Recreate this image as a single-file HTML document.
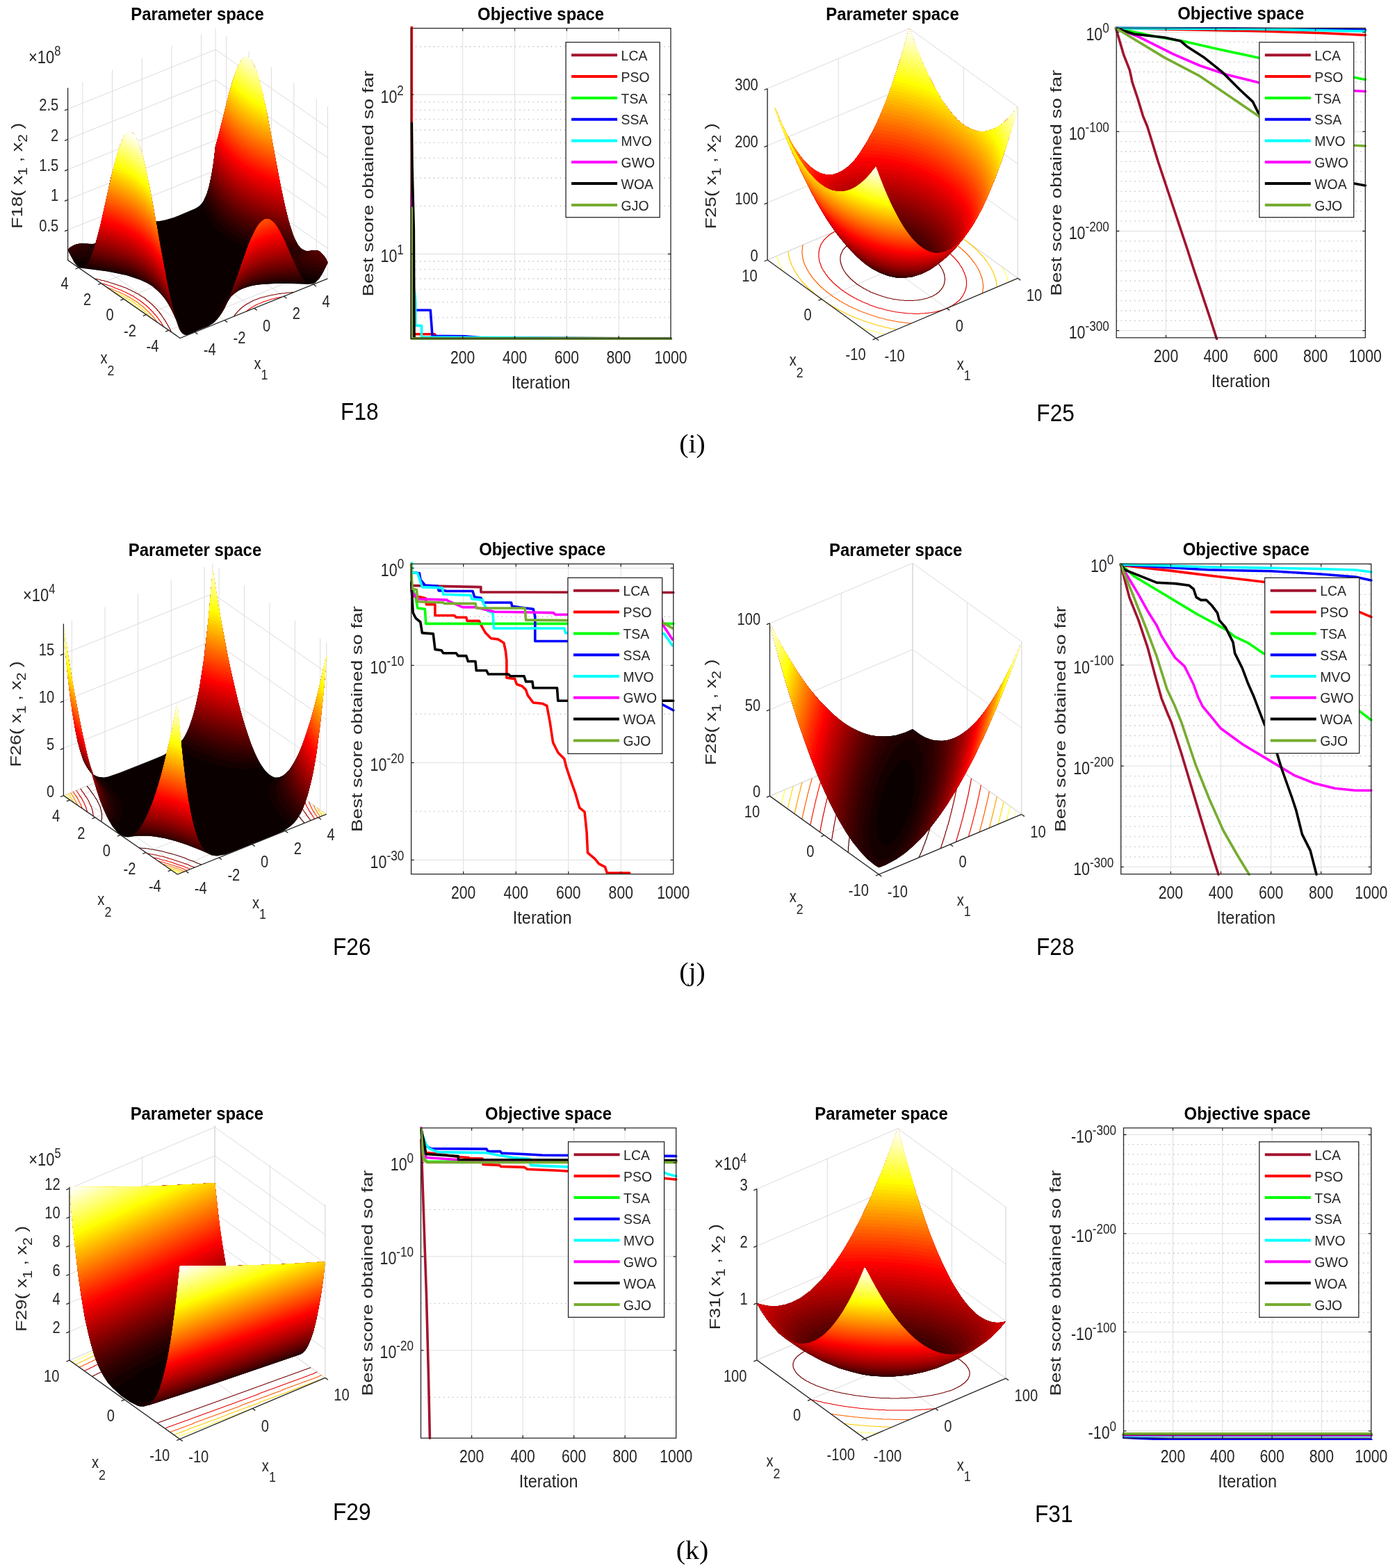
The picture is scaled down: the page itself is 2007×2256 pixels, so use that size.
<!DOCTYPE html><html><head><meta charset="utf-8"><style>
body{margin:0;background:#fff}
svg{display:block}
text{font-family:'Liberation Sans',Arial,Helvetica,sans-serif;fill:#262626}
.g3{stroke:#dcdcdc;stroke-width:1;fill:none}
.ax{stroke:#262626;stroke-width:1.3;fill:none}
.ct path{fill:none;stroke-width:2.4}
.sf path{fill-rule:evenodd;stroke:none}
.gm{stroke:#b8b8b8;stroke-width:1.3;stroke-dasharray:1.3 5.2;fill:none}
.gj{stroke:#dedede;stroke-width:1;fill:none}
.cv{fill:none;stroke-width:3.6;stroke-linejoin:round;stroke-linecap:round}
.bx{stroke:#262626;stroke-width:1.3;fill:none}
.lg{fill:#fff;stroke:#262626;stroke-width:1.3}
.ll{fill:none;stroke-width:4}
.h0{fill:#0b0000;stroke:#0b0000}.k0{stroke:#0b0000}.h1{fill:#150000;stroke:#150000}.k1{stroke:#150000}.h2{fill:#200000;stroke:#200000}.k2{stroke:#200000}.h3{fill:#2a0000;stroke:#2a0000}.k3{stroke:#2a0000}.h4{fill:#350000;stroke:#350000}.k4{stroke:#350000}.h5{fill:#400000;stroke:#400000}.k5{stroke:#400000}.h6{fill:#4a0000;stroke:#4a0000}.k6{stroke:#4a0000}.h7{fill:#550000;stroke:#550000}.k7{stroke:#550000}.h8{fill:#600000;stroke:#600000}.k8{stroke:#600000}.h9{fill:#6a0000;stroke:#6a0000}.k9{stroke:#6a0000}.h10{fill:#750000;stroke:#750000}.k10{stroke:#750000}.h11{fill:#800000;stroke:#800000}.k11{stroke:#800000}.h12{fill:#8a0000;stroke:#8a0000}.k12{stroke:#8a0000}.h13{fill:#950000;stroke:#950000}.k13{stroke:#950000}.h14{fill:#9f0000;stroke:#9f0000}.k14{stroke:#9f0000}.h15{fill:#aa0000;stroke:#aa0000}.k15{stroke:#aa0000}.h16{fill:#b50000;stroke:#b50000}.k16{stroke:#b50000}.h17{fill:#bf0000;stroke:#bf0000}.k17{stroke:#bf0000}.h18{fill:#ca0000;stroke:#ca0000}.k18{stroke:#ca0000}.h19{fill:#d40000;stroke:#d40000}.k19{stroke:#d40000}.h20{fill:#df0000;stroke:#df0000}.k20{stroke:#df0000}.h21{fill:#ea0000;stroke:#ea0000}.k21{stroke:#ea0000}.h22{fill:#f40000;stroke:#f40000}.k22{stroke:#f40000}.h23{fill:#ff0000;stroke:#ff0000}.k23{stroke:#ff0000}.h24{fill:#ff0b00;stroke:#ff0b00}.k24{stroke:#ff0b00}.h25{fill:#ff1500;stroke:#ff1500}.k25{stroke:#ff1500}.h26{fill:#ff2000;stroke:#ff2000}.k26{stroke:#ff2000}.h27{fill:#ff2a00;stroke:#ff2a00}.k27{stroke:#ff2a00}.h28{fill:#ff3500;stroke:#ff3500}.k28{stroke:#ff3500}.h29{fill:#ff4000;stroke:#ff4000}.k29{stroke:#ff4000}.h30{fill:#ff4a00;stroke:#ff4a00}.k30{stroke:#ff4a00}.h31{fill:#ff5500;stroke:#ff5500}.k31{stroke:#ff5500}.h32{fill:#ff6000;stroke:#ff6000}.k32{stroke:#ff6000}.h33{fill:#ff6a00;stroke:#ff6a00}.k33{stroke:#ff6a00}.h34{fill:#ff7500;stroke:#ff7500}.k34{stroke:#ff7500}.h35{fill:#ff8000;stroke:#ff8000}.k35{stroke:#ff8000}.h36{fill:#ff8a00;stroke:#ff8a00}.k36{stroke:#ff8a00}.h37{fill:#ff9500;stroke:#ff9500}.k37{stroke:#ff9500}.h38{fill:#ff9f00;stroke:#ff9f00}.k38{stroke:#ff9f00}.h39{fill:#ffaa00;stroke:#ffaa00}.k39{stroke:#ffaa00}.h40{fill:#ffb500;stroke:#ffb500}.k40{stroke:#ffb500}.h41{fill:#ffbf00;stroke:#ffbf00}.k41{stroke:#ffbf00}.h42{fill:#ffca00;stroke:#ffca00}.k42{stroke:#ffca00}.h43{fill:#ffd400;stroke:#ffd400}.k43{stroke:#ffd400}.h44{fill:#ffdf00;stroke:#ffdf00}.k44{stroke:#ffdf00}.h45{fill:#ffea00;stroke:#ffea00}.k45{stroke:#ffea00}.h46{fill:#fff400;stroke:#fff400}.k46{stroke:#fff400}.h47{fill:#ffff00;stroke:#ffff00}.k47{stroke:#ffff00}.h48{fill:#ffff10;stroke:#ffff10}.k48{stroke:#ffff10}.h49{fill:#ffff20;stroke:#ffff20}.k49{stroke:#ffff20}.h50{fill:#ffff30;stroke:#ffff30}.k50{stroke:#ffff30}.h51{fill:#ffff40;stroke:#ffff40}.k51{stroke:#ffff40}.h52{fill:#ffff50;stroke:#ffff50}.k52{stroke:#ffff50}.h53{fill:#ffff60;stroke:#ffff60}.k53{stroke:#ffff60}.h54{fill:#ffff70;stroke:#ffff70}.k54{stroke:#ffff70}.h55{fill:#ffff80;stroke:#ffff80}.k55{stroke:#ffff80}.h56{fill:#ffff8f;stroke:#ffff8f}.k56{stroke:#ffff8f}.h57{fill:#ffff9f;stroke:#ffff9f}.k57{stroke:#ffff9f}.h58{fill:#ffffaf;stroke:#ffffaf}.k58{stroke:#ffffaf}.h59{fill:#ffffbf;stroke:#ffffbf}.k59{stroke:#ffffbf}.h60{fill:#ffffcf;stroke:#ffffcf}.k60{stroke:#ffffcf}.h61{fill:#ffffdf;stroke:#ffffdf}.k61{stroke:#ffffdf}.h62{fill:#ffffef;stroke:#ffffef}.k62{stroke:#ffffef}.h63{fill:#ffffff;stroke:#ffffff}.k63{stroke:#ffffff}</style></head><body><svg xmlns="http://www.w3.org/2000/svg" width="2007" height="2256" viewBox="0 0 2007 2256"><defs><clipPath id="c1"><rect x="588.3" y="37.7" width="379.7" height="452.6"/></clipPath><clipPath id="c2"><rect x="1603.2" y="37.4" width="364.1" height="451.5"/></clipPath><clipPath id="c3"><rect x="588.6" y="808.4" width="383.2" height="452.3"/></clipPath><clipPath id="c4"><rect x="1609.7" y="808.4" width="366.0" height="452.3"/></clipPath><clipPath id="c5"><rect x="602.5" y="1619.8" width="373.2" height="452.3"/></clipPath><clipPath id="c6"><rect x="1613.5" y="1619.8" width="362.2" height="452.3"/></clipPath></defs>
<g id="F18"><path class="g3" d="M118.9 365.7L118.9 117.9M455.2 389.5L455.2 141.7M280.3 477.9L118.9 365.7M242.8 475.2L455.2 389.5M161.6 348.5L161.6 100.7M422.8 367.0L422.8 119.2M323.0 460.7L161.6 348.5M210.4 452.7L422.8 367.0M204.2 331.3L204.2 83.5M390.4 344.5L390.4 96.7M365.6 443.5L204.2 331.3M178.0 430.2L390.4 344.5M246.9 314.1L246.9 66.3M358.0 321.9L358.0 74.1M408.3 426.3L246.9 314.1M145.6 407.6L358.0 321.9M289.5 296.9L289.5 49.1M325.6 299.4L325.6 51.6M450.9 409.1L289.5 296.9M113.2 385.1L325.6 299.4M97.6 330.8L310.0 245.1M310.0 245.1L471.4 357.3M97.6 287.4L310.0 201.7M310.0 201.7L471.4 313.9M97.6 243.9L310.0 158.2M310.0 158.2L471.4 270.4M97.6 200.5L310.0 114.8M310.0 114.8L471.4 227.0M97.6 157.0L310.0 71.3M310.0 71.3L471.4 183.5M310.0 288.6L310.0 40.8M471.4 400.8L471.4 153.0"/>
<path class="g3" d="M97.6 374.3L310.0 288.6L471.4 400.8"/>
<g class="ct" transform="scale(.5)"><path class="k11" d="M845 841 840 841 837 842 833 842 829 842 826 843 822 843 818 844 815 844 811 844 808 845 804 845 801 846 797 846 794 847 791 848 787 848 784 849 781 849 778 850 774 851 771 852 768 852 765 853 762 854 759 855 756 855 753 856 750 857 747 858 744 859 742 860 739 861 736 862 734 863 731 864 728 865 726 867 723 868 721 869 719 870 716 872 714 873 712 874 709 876 707 877 705 878 703 880 701 881 699 883 697 884 695 886 693 888 691 889 690 891 688 893 686 894 684 896 683 898 681 900 680 902 678 903 677 905 675 907 674 909 673 911"/>
<path class="k11" d="M493 956 492 953 490 949 489 947 487 943 485 940 484 938 482 934 480 931 478 928 477 925 475 923 474 920 472 918 470 915 468 912 467 910 464 907 463 904 460 901 458 898 456 896 455 894 453 893 452 891 451 889 449 888 448 886 446 885 445 883 443 881 441 880 440 878 438 877 437 875 435 874 433 872 431 871 430 869 428 868 426 866 424 865 422 863 420 862 419 860 417 859 415 857 413 856 411 855 408 853 406 852 404 850 402 849 400 848 398 846 395 845 393 844 391 843 388 841 386 840 384 839 381 838 379 836 376 835 374 834 371 833 369 832 366 830 363 829 361 828 358 827 355 826 352 825 350 824 347 823 344 822 341 821 338 820 335 819 332 818 329 817 326 816 323 815 319 814 316 813 313 812 310 811 307 810 303 809 300 808 297 807 293 807 290 806 287 805 283 804 280 803 277 803 273 802 271 801"/>
<path class="k11" d="M610 581 612 583 613 586 616 590 617 593 619 595 620 598 622 601 624 603 626 606 628 609 629 611 632 615 634 618 636 620 637 621 638 623 640 625 641 626 643 628 644 630 645 631 647 633 648 634 650 636 652 638 653 639 655 641 656 642 658 644 660 645 661 647 663 648 665 650 667 652 668 653 670 654 672 656 674 657 676 659 678 660 680 662 682 663 684 665 686 666 688 667 690 669 692 670 694 671 696 673 698 674 701 675 703 677 705 678 708 679 710 681 712 682 715 683 717 684 720 686 722 687 725 688 727 689 730 690 732 691 735 693 738 694 740 695 743 696 746 697 749 698 751 699 754 700 756 701 760 703 763 704 765 704 769 706 772 707 775 708 778 709 781 710 784 711 787 712 790 712 793 713 796 714 800 715 803 716 806 717 809 718 813 719 816 720 819 721 822 722 826 722 829 723 831 724"/>
<path class="k22" d="M812 854 809 855 806 855 803 856 800 857 796 857 793 858 790 859 787 860 784 860 781 861 778 862 775 863 772 864 769 865 766 866 763 867 761 867 758 868 755 870 753 871 750 872 747 873 745 874 742 875 740 876 737 877 735 879 733 880 730 881 728 883 726 884 723 885 721 887 719 888 717 890 715 891 713 893 711 894 709 896 709 896"/>
<path class="k22" d="M471 941 469 937 467 934 465 930 463 927 461 925 459 921 457 919 455 916 453 913 450 910 449 908 447 906 446 905 444 903 443 901 441 900 440 898 438 896 437 895 435 893 434 892 432 890 431 889 429 887 427 885 426 884 424 882 422 881 421 879 419 878 417 876 415 875 413 873 412 872 410 870 408 869 406 868 404 866 402 865 400 863 398 862 396 861 394 859 392 858 389 856 387 855 385 854 383 852 380 851 378 850 376 849 374 847 371 846 369 845 366 844 364 842 361 841 359 840 356 839 354 838 351 836 348 835 346 834 343 833 340 832 338 831 335 830 332 829 329 828 326 826 323 825 320 824 318 823 315 822 312 821 308 820 305 819 302 818 299 817 296 817 293 816 291 815"/>
<path class="k22" d="M625 580 626 583 628 586 630 589 631 591 633 594 635 597 637 599 640 603 642 606 644 608 645 609 646 611 648 613 649 614 650 616 652 618 653 619 655 621 656 622 658 624 659 626 661 627 662 629 664 630 666 632 667 633 669 635 671 637 672 638 674 640 676 641 678 643 679 644 681 646 683 647 685 649 687 650 689 651 691 653 693 654 695 656 697 657 699 659 701 660 703 661 705 663 707 664 709 665 711 667 714 668 716 669 718 671 720 672 723 673 725 674 727 676 730 677 732 678 735 679 737 681 740 682 742 683 745 684 748 685 750 686 753 688 755 689 758 690 761 691 764 692 766 693 769 694 772 695 774 696 778 697 781 699 783 699 787 701 790 702 793 703 796 704 799 705 802 706 805 707 807 707"/>
<path class="k33" d="M453 928 451 925 449 922 447 920 446 918 444 916 443 915 442 913 440 911 439 910 437 908 436 906 434 905 433 903 431 902 430 900 428 898 427 897 425 895 423 894 422 892 420 891 418 889 417 887 415 886 413 884 412 883 410 881 408 880 406 879 404 877 402 876 400 874 399 873 397 871 395 870 393 868 391 867 388 866 386 864 384 863 382 862 380 860 378 859 376 858 373 856 371 855 369 854 366 852 364 851 362 850 359 849 357 847 354 846 352 845 349 844 347 843 344 841 342 840 339 839 336 838 334 837 331 836 328 835 326 834 323 832 320 831 317 830 314 829 311 828 308 827 308 827"/>
<path class="k33" d="M643 593 645 596 648 599 649 601 650 603 652 604 653 606 655 608 656 609 657 611 659 612 660 614 662 616 663 617 665 619 666 621 668 622 670 624 671 625 673 627 675 628 676 630 678 631 680 633 681 634 683 636 685 637 687 639 688 640 690 642 692 643 694 645 696 646 698 648 700 649 702 651 704 652 706 653 708 655 710 656 712 657 714 659 716 660 719 662 721 663 723 664 725 665 728 667 730 668 732 669 735 671 737 672 739 673 742 674 744 676 747 677 749 678 752 679 754 680 757 681 760 683 762 684 765 685 768 686 770 687 773 688 776 689 779 690 782 692 784 693 787 694 788 694"/>
<path class="k44" d="M435 916 434 914 432 912 431 911 429 909 428 907 426 906 425 904 423 903 422 901 420 899 419 898 417 896 415 895 414 893 412 892 410 890 408 889 407 887 405 886 403 884 401 883 399 881 397 880 396 878 394 877 392 875 390 874 388 873 386 871 384 870 382 868 379 867 377 866 375 864 373 863 371 862 369 860 366 859 364 858 362 856 359 855 357 854 355 853 352 851 350 850 347 849 345 848 342 847 340 845 337 844 335 843 332 842 330 841 327 840 325 839"/>
<path class="k44" d="M662 607 664 608 665 610 667 612 668 613 670 615 671 616 673 618 675 619 676 621 678 623 679 624 681 626 683 627 685 629 686 630 688 632 690 633 692 635 693 636 695 638 697 639 699 641 701 642 703 643 705 645 707 646 709 648 711 649 713 651 715 652 717 653 719 655 721 656 724 657 726 659 728 660 730 661 732 663 735 664 737 665 739 666 742 668 744 669 747 670 749 671 751 673 754 674 756 675 759 676 762 677 764 679 767 680 769 681"/>
<path class="k56" d="M414 901 412 898 410 897 408 895 407 894 405 892 403 891 401 889 399 888 398 886 396 885 394 883 392 882 390 881 388 879 386 878 384 876 382 875 380 873 378 872 376 871 374 869 372 868 370 867 367 865 365 864 363 863 361 861 358 860 356 859 354 857 351 856 349 855 347 854 346 853"/>
<path class="k56" d="M686 623 688 625 690 627 692 628 693 630 695 631 697 633 699 634 701 635 703 637 705 638 707 640 708 641 710 643 712 644 714 645 716 647 719 648 721 650 723 651 725 652 727 654 729 655 731 656 734 658 736 659 738 660 740 662 743 663 745 664 745 664"/></g>
<g class="sf" transform="scale(.5)"><path class="h0" d="M538 964l-6 0-4-2-7-7-6-11-7-21-9-21-16-30-10-15-12-14-11-10-12-10-13-8-22-10-39-13-55-11-79-10-4-2-8-8-5-7-18-36 12-9 13-6 14-2 32 1 8-1 1-1 14-50 30-137 18-67 9-29 8-19 8-12 8-7 6 0 3 2 5 4 4 5 7 13 11 32 11 41 9 42 22 119 12-1 15-3 28-8 59-25 11-7 8-8 6-9 6-12 9-28 11-54 7-60 9-32 27-108 15-52 11-32 9-18 6-9 6-6 3-1 6 0 4 2 6 6 9 17 6 13 11 37 19 81 32 176 16 76 15 63 13 41 6 13 8 15 7 9 5 4 11 5 11 0 11-2 7 0 6 1 5 3 12 12 7 10 4 10-12 24-11 20-12 13-8 4-14 1-50-2-44 0-38 2-25 3-15 4-12 4-14 6-14 10-10 9-9 14-9 19-8 14-12 17-12 12-15 9-28 11-21 10z"/>
<path class="h1" d="M620 923l0-2 5-19 6-17 6-12 13-18 8-7 8-6 47-130-25-10-22-11-18-12-18-14-16-17-14-20-13-26-7-16 7-10 6-12 9-28 11-54 7-60 9-32 27-108 15-52 11-32 9-18 6-9 6-6 3-1 6 0 4 2 6 6 9 17 6 13 11 37 19 81 32 176 16 76 15 63 13 41 6 13 8 15 7 9 5 4 11 5 11 0 11-2 7 0 6 1 5 3 12 12 7 10 4 10-16 33-11 16-47-7 6 9 11 9-82-1-50 3-25 3-15 4-12 4-14 6-14 10-10 9-9 14-9 19-8 14-7 10zM526 961l-5-6-4-6-15-41-12-24-7-12-10-15-12-14-11-10-12-10-13-8-22-10-39-13-52-11-72-10 9-8 6-10-42 0-18-34 5-6 7-4 13-6 14-2 32 1 8-1 1-1 14-50 30-137 18-67 9-29 8-19 8-12 8-7 6 0 5 3 9 12 11 26 10 32 15 66 14 73 7 44 1 2 6 0-5 7 0 2 23 126 15 74 8 33 10 17 8 21 12 37z"/>
<path class="h2" d="M630 912l7-21 7-15 8-12 9-10 2-5 18-48 27-77 11-27-20-8-24-12-18-11-15-12-17-17-12-15-14-22-12-26 8-16 8-27 10-49 7-60 9-32 22-88 17-64 13-37 10-21 6-9 6-6 3-1 6 0 4 2 6 6 9 17 6 13 11 37 19 81 32 176 16 76 15 63 13 41 6 13 8 15 7 9 5 4 11 5 11 0 11-2 7 0 6 1 5 3 12 12 7 10 4 10-12 24-8 14-45-7-18-5-1 1 6 9 14 19-54 0-62 4-42 8-19 6-14 6-14 10-10 9-9 14-13 26zM520 954l-5-10-7-21-9-21-16-30-10-15-12-14-11-10-12-10-19-11-14-7-37-13-30-8-31-7-52-8-9-1-1-1 4-4 6-8 7-15 1-5-25 4-32 2-11-22 5-6 7-4 13-6 14-2 32 1 8-1 1-1 14-50 30-137 18-67 9-29 8-19 8-12 8-7 6 0 5 3 9 12 11 26 10 32 10 44 11 52 33 184 21 108 15 60 14 34 5 16z"/>
<path class="h3" d="M639 899l0-2 4-12 8-14 7-10 8-19 42-118 15-38-21-9-19-10-19-12-19-14-16-16-12-16-14-22-11-22 3-7 7-22 7-34 6-38 5-42 9-32 22-88 17-64 13-37 10-21 6-9 6-6 3-1 6 0 4 2 6 6 9 17 6 13 11 37 19 81 32 176 16 76 15 63 13 41 6 13 8 15 7 9 5 4 11 5 11 0 11-2 7 0 6 1 5 3 12 12 7 10 4 10-14 28-52-11-27-9 10 20 14 22-34 0-32 1-42 4-20 4-20 4-25 9-21 12-16 14-9 14-9 19zM505 916l-15-32-17-27-19-20-16-14-10-7-35-18-38-13-49-12-39-8-17-2-1-1 6-7 8-19 16-47 16-64 27-123 17-63 7-22 8-19 8-12 8-7 6 0 5 3 9 12 11 26 10 32 10 44 11 52 46 254 13 62 10 38 4 12zM205 729l-5 0-1-1-4-10 8-7 10-6 14-4 18 0 9 0 3 5 1 6-1 2-8 6-12 4-10 2zM840 740l5-7 0-4-5-5-9-4 8 20zM512 935l-1-3 0-2 2 4z"/>
<path class="h4" d="M658 863l0-3 5-11 15-39 30-86 10-26 10-22-24-11-20-10-18-12-16-12-19-19-14-18-14-22-7-15 0-3 6-18 7-34 6-38 5-42 9-32 22-88 17-64 13-37 10-21 6-9 6-6 3-1 6 0 4 2 6 6 9 17 6 13 11 37 19 81 32 176 16 76 15 63 13 41 6 13 8 15 7 9 5 4 11 5 11 0 11-2 7 0 6 1 5 3 12 12 7 10 4 10-9 18-38-8-23-8-12-7-4-7 0-5 10-13 0-4-6-5-13-5-24-7 29 65 17 30-37 1-45 3-32 5-28 6-26 10-16 10-9 6-13 13zM505 916l-15-32-10-17-13-17-21-22-13-11-14-9-33-17-38-13-52-13-43-7 7-14 7-16 14-46 14-57 27-123 17-63 7-22 8-19 8-12 8-7 6 0 5 3 9 12 11 26 10 32 10 44 11 52 46 254 13 62 10 38 4 12zM198 717l-1 0 3-4 13-8 14-4 10 0-2 5-7 4-14 5zM645 888l2-7 5-9-1 4z"/>
<path class="h5" d="M658 863l0-3 5-11 15-39 34-97 11-28 10-19-22-9-19-9-20-13-18-13-16-16-14-16-17-27-8-17 4-15 6-29 6-38 5-42 9-32 22-88 17-64 13-37 10-21 6-9 6-6 3-1 6 0 4 2 6 6 9 17 6 13 11 37 19 81 36 193 18 85 9 37 11 36 8 18 7 13-36-9-1 1 28 64 8 18 11 18-51 2-32 3-34 6-27 8-24 11-14 9-17 17zM505 916l-7-17-9-19-18-27-12-15-13-13-12-10-16-11-28-15-41-16-42-11-51-10 11-24 16-56 12-47 27-123 17-63 7-22 8-19 8-12 8-7 6 0 5 3 9 12 11 26 10 32 10 44 11 52 46 254 13 62 10 38 4 12zM938 765l-32-8-22-9-4-3-5-7 0-4 1-3 8-9 25-2 6 1 5 3 12 12 11 18z"/>
<path class="h6" d="M658 862l0-2 5-11 15-39 37-106 12-26 10-20-21-9-26-14-19-12-17-13-18-18-15-19-12-20-8-14 0-2 4-15 8-40 7-60 9-32 22-88 17-64 13-37 10-21 6-9 6-6 3-1 6 0 4 2 6 6 9 17 6 13 11 37 19 81 36 193 16 77 16 61 8 25 6 14-2 0-34-9 12 27 22 50 15 30-38 1-38 4-30 6-28 8-26 11-16 11-17 17zM503 909l-6-15-11-20-7-12-14-20-21-22-24-19-17-10-17-9-25-10-41-13-34-8-27-5 6-13 8-23 10-38 12-47 27-123 17-63 7-22 8-19 8-12 8-7 6 0 5 3 9 12 11 26 10 32 10 44 11 52 46 254 13 62 12 43zM942 755l-28-8-16-7-7-6-1-2 0-5 1-3 3-3 8-1 11 1 7 3 12 12 7 10z"/>
<path class="h7" d="M660 857l18-47 37-106 12-26 10-21 6-7-27-11-22-12-18-11-17-13-18-18-14-16-16-25-8-14 0-2 2-6 8-40 7-60 9-32 22-88 17-64 13-37 10-21 6-9 6-6 3-1 6 0 4 2 6 6 9 17 6 13 11 37 19 81 32 176 16 76 15 63 15 44-23-5-12-4-3 0 13 26 27 62 12 23-45 3-36 5-33 7-18 6-23 11-17 12-15 15zM501 903l-12-27-10-18-12-16-14-17-9-10-22-17-20-13-21-10-21-9-26-9-27-7-46-10 12-30 10-38 12-47 27-123 17-63 7-22 8-19 8-12 8-7 6 0 5 3 7 8 7 13 11 32 11 41 20 97 40 223 14 68 10 36zM936 743l-16-6-10-5-6-6-1-6 10 1 9 4 8 8 6 9z"/>
<path class="h8" d="M664 849l-1-1 12-30 28-80 15-40 16-35 14-21-26-11-22-11-24-15-14-11-21-20-10-12-14-20-10-18-2-4 8-38 7-60 9-32 22-88 17-64 13-37 10-21 6-9 6-6 3-1 6 0 4 2 6 6 9 17 6 13 11 37 19 81 32 176 16 76 13 56 13 40-15-3-23-6-2 1 15 27 39 87-1 1-29 2-43 5-33 7-18 6-22 10-19 13-17 18zM499 895l-14-30-12-19-8-12-10-11-17-17-21-17-30-17-33-14-44-13-46-11 9-24 10-38 12-47 27-123 15-56 9-29 8-19 8-12 8-7 6 0 5 3 7 8 7 13 11 32 11 41 20 97 40 223 10 50 12 47z"/>
<path class="h9" d="M667 841l0-2 11-29 25-72 20-53 18-33 10-13 4-4-23-9-25-12-17-10-24-17-23-21-10-13-21-31-5-8 0-4 6-28 7-60 9-32 22-88 17-64 13-37 10-21 6-9 6-6 3-1 6 0 4 2 6 6 9 17 6 13 11 37 19 81 46 242 15 66 9 30-44-11 8 12 15 28 36 81-32 3-34 4-34 8-16 5-26 12-17 11-15 15zM496 885l-14-29-19-28-9-11-17-17-17-14-19-12-16-9-31-13-42-13-45-11 12-39 10-39 30-137 18-67 9-29 8-19 8-12 8-7 6 0 5 3 7 8 7 13 11 32 11 41 20 97 40 223 10 50 10 37z"/>
<path class="h10" d="M670 832l0-2 11-29 27-77 19-46 10-21 9-13 6-6 6-5 6-2 4-1 0-1-30-10-25-12-21-12-20-14-12-10-24-25-15-20-12-22 6-40 5-42 9-32 22-88 17-64 13-37 10-21 6-9 6-6 3-1 6 0 4 2 6 6 9 17 6 13 11 37 9 38 14 67 39 206 11 48 13 50-14-3-41-11 5 3 9 9 14 24 13 26 29 66-33 3-36 5-25 6-22 7-22 11-15 10-13 12zM494 877l-13-26-18-27-14-17-10-10-24-20-24-14-35-16-40-14-47-11 10-33 10-39 30-137 18-67 9-29 8-19 8-12 8-7 6 0 5 3 7 8 7 13 11 32 11 41 20 97 35 199 14 68 9 35z"/>
<path class="h11" d="M831 639l-34-9-41-13-30-13-18-9-18-10-22-17-19-18-20-23-19-31 5-32 5-42 9-32 22-88 17-64 13-37 10-21 6-9 6-6 3-1 6 0 4 2 6 6 5 8 9 20 12 39 9 38 14 67 39 206 11 48zM492 869l-13-26-20-29-19-22-16-13-12-10-24-14-35-16-33-11-49-12 18-66 30-137 18-67 9-29 8-19 8-12 8-7 6 0 5 3 7 8 7 13 11 32 11 41 20 97 35 199zM674 823l0-3 38-107 11-28 11-22 12-19 6-6 6-5 6-2 4-1 5 1 6 2 5 4 9 9 14 24 13 26 26 59-35 4-25 4-29 6-20 7-23 11-13 8-17 15z"/>
<path class="h12" d="M828 629l-41-11-35-12-26-11-31-17-26-19-25-24-15-19-18-28 6-34 3-32 9-32 22-88 17-64 13-37 10-21 6-9 6-6 3-1 6 0 4 2 6 6 5 8 9 20 12 39 9 38 14 67 39 206zM490 858l-17-30-17-24-9-10-17-16-20-15-20-13-34-16-32-11-51-14 16-59 30-137 18-67 9-29 8-19 8-12 8-7 6 0 5 3 7 8 7 13 11 32 11 41 15 72 36 202 15 75 6 27zM676 815l39-111 12-26 10-21 9-13 6-6 6-5 6-2 4-1 5 1 6 2 5 4 9 9 14 24 13 26 23 52-1 1-30 3-32 5-24 6-19 7-15 7-18 11-10 8-11 10z"/>
<path class="h13" d="M826 620l-42-12-32-11-24-10-32-18-30-22-21-21-17-22-15-24 7-58 9-32 22-88 17-64 13-37 10-21 6-9 6-6 3-1 6 0 4 2 6 6 5 8 9 20 12 39 19 81 36 193 16 77 7 28zM488 849l-14-25-18-25-22-24-24-18-25-16-39-17-40-13-31-8 14-53 30-137 18-67 9-29 8-19 8-12 8-7 6 0 5 3 7 8 7 13 11 32 11 41 18 86 30 170 13 70 10 45zM680 806l19-56 16-46 12-26 10-21 9-13 6-6 6-5 6-2 4-1 5 1 6 2 11 10 14 21 16 32 20 46-24 3-25 4-21 4-26 8-25 12-13 8-13 10z"/>
<path class="h14" d="M824 611l-29-8-37-13-24-10-23-11-15-9-24-17-22-21-20-25-16-25 6-50 9-32 22-88 17-64 13-37 10-21 6-9 6-6 3-1 6 0 4 2 6 6 5 8 9 20 12 39 19 81 36 193zM486 841l-15-26-18-25-10-11-14-14-21-16-24-14-26-13-41-15-41-11 13-46 30-137 18-67 9-29 8-19 8-12 8-7 6 0 5 3 9 12 11 26 11 37 9 39 11 52 33 184 13 70 8 36zM683 797l1-5 31-88 12-26 10-21 9-13 6-6 6-5 6-2 4-1 5 1 6 2 11 10 14 21 12 23 21 49-26 3-29 5-19 5-18 6-26 12-11 7-16 13z"/>
<path class="h15" d="M821 601l-48-14-33-13-24-12-28-17-22-17-19-19-17-22-15-23 5-42 9-32 22-88 17-64 13-37 10-21 6-9 6-6 3-1 6 0 4 2 6 6 5 8 9 20 12 39 19 81 36 193 12 59 6 24zM484 831l-16-27-20-26-18-18-22-17-24-15-30-14-43-15-33-9 11-40 30-137 18-67 9-29 8-19 8-12 8-7 6 0 5 3 9 12 11 26 10 32 10 44 11 52 33 184 13 70 6 26zM686 788l0-2 3-8 26-74 12-26 10-21 9-13 6-6 6-5 6-2 4-1 5 1 6 2 11 10 11 16 15 28 18 42-49 8-21 5-22 7-16 8-14 8-16 13z"/>
<path class="h16" d="M819 592l-36-11-37-14-30-14-28-17-23-19-20-20-18-25-11-18 4-32 9-32 27-108 15-52 11-32 9-18 6-9 6-6 3-1 6 0 4 2 6 6 5 8 9 20 12 39 19 81 36 193zM482 822l-18-29-13-17-22-23-22-17-21-13-30-15-42-15-34-10 15-58 27-123 15-56 9-29 8-19 8-12 8-7 6 0 5 3 9 12 11 26 10 32 10 44 11 52 33 184 17 87zM689 779l10-29 16-46 12-26 10-21 9-13 6-6 6-5 6-2 4-1 5 1 6 2 11 10 11 16 15 28 15 35-29 5-23 4-13 4-24 8-18 9-15 9-10 8z"/>
<path class="h17" d="M817 583l-47-15-27-11-32-16-22-14-25-20-17-18-16-21-14-21 3-25 9-32 27-108 15-52 11-32 9-18 6-9 6-6 3-1 6 0 4 2 6 6 5 8 9 20 12 39 19 81 32 176zM480 814l-18-30-17-20-17-18-24-19-21-12-32-16-37-13-33-9 14-52 27-123 15-56 9-29 8-19 8-12 8-7 6 0 5 3 9 12 11 26 10 32 10 44 11 52 33 184zM692 771l0-2 7-19 19-52 9-20 14-26 11-14 10-7 8-1 9 3 11 10 11 16 15 28 13 29-47 8-35 11-21 10-10 6-14 10z"/>
<path class="h18" d="M815 573l-13-3-28-9-34-14-24-12-26-16-26-21-15-16-18-22-13-22 3-18 8-30 27-108 15-52 11-32 9-18 6-9 6-6 3-1 6 0 4 2 6 6 5 8 9 20 12 39 19 81 32 176zM478 805l-13-23-19-24-20-19-24-19-23-14-25-12-35-13-36-11 12-45 27-123 15-56 9-29 8-19 8-12 8-7 6 0 5 3 9 12 11 26 10 32 10 44 11 52zM696 761l-1-1 4-10 19-52 9-20 14-26 11-14 10-7 8-1 9 3 11 10 11 16 15 28 9 22-32 6-19 4-30 10-22 12-13 8z"/>
<path class="h19" d="M813 565l-28-9-35-13-30-14-25-16-19-14-21-20-20-23-16-25 2-11 8-30 27-108 15-52 11-32 9-18 6-9 6-6 3-1 6 0 4 2 6 6 5 8 9 20 12 39 9 38 14 67zM476 795l-15-23-20-26-17-16-23-17-22-14-34-16-29-10-31-9 37-162 15-56 9-29 8-19 8-12 8-7 6 0 5 3 9 12 11 26 10 32 10 44 11 52 33 184 12 60zM698 753l10-29 13-34 13-27 7-11 11-14 10-7 8-1 5 1 6 4 9 8 11 16 15 28 7 15-1 1-16 2-28 6-18 6-17 6-21 11-12 9z"/>
<path class="h20" d="M811 555l-32-10-37-14-30-16-20-13-25-20-18-19-15-19-14-22 9-32 30-121 18-57 7-19 7-13 6-9 6-6 3-1 6 0 4 2 6 6 5 8 9 20 12 39 9 38 14 67 28 152 12 57zM475 787l-14-21-19-24-21-21-17-13-25-15-27-14-28-10-37-12 8-32 27-123 17-63 7-22 8-19 8-12 8-7 6 0 5 3 9 12 11 26 10 32 10 44 11 52zM702 743l6-19 15-39 11-22 10-16 8-9 10-7 8-1 5 1 6 4 9 8 8 11 9 16 13 26-1 1-15 2-24 5-34 11-26 14z"/>
<path class="h21" d="M809 546l-34-11-33-13-27-14-22-14-23-19-17-16-19-24-12-19 37-147 18-57 7-19 7-13 6-9 6-6 3-1 6 0 4 2 6 6 5 8 9 20 12 39 9 38 14 67 26 138 12 62zM473 778l-12-18-16-22-21-21-22-17-30-18-23-11-22-8-38-13 33-148 17-63 7-22 8-19 8-12 8-7 6 0 5 3 9 12 11 26 10 32 10 44 11 52 33 184 8 44zM705 735l0-2 3-9 15-39 14-28 9-13 10-9 8-4 9 0 11 6 9 9 8 13 16 31-37 7-30 10-26 13z"/>
<path class="h22" d="M808 537l-37-12-29-12-26-13-22-14-22-17-20-21-16-20-12-18 35-141 18-57 7-19 7-13 6-9 6-6 3-1 6 0 4 2 6 6 5 8 9 20 12 39 19 81zM472 770l-10-16-20-25-22-22-20-15-26-15-23-12-33-12-28-9 32-142 17-63 7-22 8-19 8-12 8-7 6 0 5 3 9 12 11 26 10 32 10 44 11 52zM708 725l0-1 4-11 15-35 10-21 9-13 10-9 8-4 9 0 11 6 6 6 8 11 16 29-35 8-29 10-20 9z"/>
<path class="h23" d="M806 528l-26-8-36-15-26-13-20-12-22-17-19-19-18-20-14-21 34-134 18-57 7-19 7-13 6-9 6-6 3-1 6 0 4 2 6 6 5 8 9 20 12 39 9 38 14 67zM470 761l-11-17-20-25-19-18-22-17-21-13-24-12-28-11-34-11 31-135 17-63 7-22 8-19 8-12 8-7 6 0 5 3 9 12 11 26 10 32 10 44 11 52 30 170 8 40zM712 717l-1-2 7-17 16-35 7-11 10-13 7-6 6-2 4-1 7 1 9 6 6 6 8 11 13 22-28 7-32 10-23 12z"/>
<path class="h24" d="M804 519l-28-9-31-13-27-14-22-14-23-18-20-19-16-20-10-15 32-128 18-57 7-19 7-13 6-9 6-6 3-1 6 0 4 2 6 6 5 8 9 20 12 39 9 38 14 67 26 138 6 28zM468 752l-18-26-15-18-19-17-16-12-20-13-25-13-25-10-37-13 29-128 17-63 7-22 8-19 8-12 8-7 6 0 5 3 9 12 11 26 10 32 10 44 11 52zM715 707l0-3 8-19 14-28 14-18 11-8 6-1 5 1 11 6 11 12 12 21 0 1-32 7-24 9-18 8z"/>
<path class="h25" d="M802 511l-30-11-24-10-26-13-22-14-24-18-19-18-14-17-14-20 30-121 18-57 7-19 7-13 6-9 6-6 3-1 6 0 4 2 6 6 5 8 9 20 12 39 19 81zM466 743l-9-14-16-21-19-18-20-17-21-13-24-13-35-14-27-9 27-122 17-63 7-22 8-19 8-12 8-7 6 0 5 3 9 12 11 26 10 32 10 44 11 52 35 192zM718 699l9-21 14-26 11-14 10-7 6-1 5 1 11 6 9 9 11 18-28 7-22 8-21 10z"/>
<path class="h26" d="M800 501l-29-10-28-12-25-13-23-15-15-11-17-16-19-22-13-18 28-115 18-57 7-19 7-13 6-9 6-6 3-1 6 0 4 2 9 10 11 24 9 27 10 41 12 52zM465 734l-12-18-14-16-17-17-25-20-23-14-25-12-30-12-23-8 26-115 17-63 7-22 8-19 8-12 8-7 6 0 5 3 9 12 11 26 10 32 10 44 11 52zM722 689l5-11 14-26 11-14 10-7 8-1 5 1 6 4 9 8 10 14-2 2-20 4-26 10-19 9z"/>
<path class="h27" d="M799 493l-18-6-34-14-26-14-19-12-23-17-23-22-23-30 0-4 26-105 18-57 7-19 7-13 6-9 6-6 3-1 6 0 4 2 9 10 11 24 9 27 10 41 12 52zM463 725l-11-16-14-17-22-21-17-13-25-16-24-12-24-10-28-10 24-108 17-63 7-22 8-19 8-12 8-7 6 0 5 3 9 12 11 26 10 32 10 44 11 52 31 174zM727 679l0-1 7-15 10-16 8-9 10-7 8-1 9 3 11 10 6 8 0 1-15 3-23 8-20 10z"/>
<path class="h28" d="M797 483l-22-7-34-15-25-13-14-9-24-19-20-19-14-17-10-14 25-101 18-57 7-19 7-13 6-9 6-6 3-1 6 0 4 2 9 10 11 24 9 27 10 41 12 52zM462 717l-13-18-11-13-22-21-18-14-20-14-29-14-24-10-26-9 23-102 17-63 7-22 8-19 8-12 8-7 6 0 5 3 9 12 11 26 10 32 10 44 11 52 29 162zM732 670l-1 0 6-13 9-13 10-9 6-4 6-1 7 1 9 6 8 9-14 3-22 8-20 10z"/>
<path class="h29" d="M795 475l-17-6-29-12-26-14-21-13-20-15-14-13-17-18-15-20 4-19 19-76 18-57 7-19 7-13 6-9 6-6 3-1 6 0 4 2 9 10 11 24 9 27 10 41 12 52 28 148zM460 707l-23-29-15-15-24-20-18-11-20-11-22-10-37-14 21-95 17-63 7-22 8-19 8-12 8-7 6 0 5 3 9 12 9 19 10 31 10 40 13 64 28 155zM737 660l-1 0 1-3 9-13 10-9 6-4 6-1 7 1 6 4 6 5-32 11z"/>
<path class="h30" d="M794 466l-48-19-24-13-20-13-20-14-16-15-17-20-12-15 22-88 18-57 7-19 7-13 6-9 6-6 3-1 6 0 4 2 9 10 11 24 9 27 10 41 12 52zM458 699l-7-11-14-16-17-17-23-19-22-14-16-9-27-12-30-11 20-88 17-63 7-22 8-19 8-12 8-7 6 0 5 3 9 12 9 19 10 31 10 40 13 64 26 144zM743 650l1-3 7-8 11-8 8-1 5 1 5 3-26 10z"/>
<path class="h31" d="M792 457l-41-16-27-14-20-12-27-22-20-20-18-22 1-6 19-76 18-57 7-19 7-13 6-9 6-6 3-1 6 0 4 2 9 10 11 24 9 27 10 41 12 52 22 119 3 15zM457 690l-20-25-18-18-23-18-20-14-23-12-18-8-31-11 18-82 17-63 7-22 8-19 8-12 8-7 6 0 5 3 9 12 9 19 10 31 10 40 13 64zM754 638l-1 0 3-3 6-4 6-1 3 1z"/>
<path class="h32" d="M790 448l-41-17-28-14-21-14-24-19-18-18-17-22 18-75 18-57 7-19 7-13 6-9 6-6 3-1 6 0 4 2 9 10 11 24 9 27 10 41 12 52zM455 681l-17-22-20-20-25-20-21-13-22-11-45-18 17-75 17-63 7-22 8-19 8-12 8-7 6 0 5 3 9 12 9 19 10 31 10 40 13 64 23 125z"/>
<path class="h33" d="M788 439l-22-8-19-9-24-13-20-12-26-21-18-18-17-21 19-75 16-50 7-19 7-13 6-9 6-6 3-1 6 0 4 2 9 10 11 24 9 27 10 41 12 52 19 101 3 15zM454 672l-15-19-15-16-16-14-14-10-18-12-28-14-41-17 15-68 17-63 7-22 8-19 8-12 8-7 6 0 5 3 9 12 9 19 10 31 10 40 13 64 21 114z"/>
<path class="h34" d="M787 430l-20-7-29-14-23-13-14-9-23-19-19-18-15-19 17-69 16-50 7-19 7-13 6-9 6-6 3-1 6 0 4 2 9 10 8 18 10 26 12 48 8 36 15 74zM452 664l-13-18-18-18-15-13-15-11-24-15-24-12-35-13 22-94 16-53 11-25 5-6 8-7 6 0 3 2 5 4 4 5 7 13 11 32 11 41 9 42 18 95 9 49z"/>
<path class="h35" d="M786 421l-30-12-26-12-26-17-26-20-18-18-15-18 23-86 13-37 10-21 4-6 5-7 6-3 6 0 4 2 9 10 8 18 10 26 12 48 8 36zM450 654l-15-19-17-16-26-21-23-15-19-10-23-10-18-6 21-87 16-53 11-25 5-6 8-7 6 0 3 2 5 4 4 5 7 13 11 32 11 41 9 42 18 95 7 37z"/>
<path class="h36" d="M784 413l-22-9-30-15-28-17-26-21-19-19-12-14 17-66 17-51 10-21 4-6 5-7 6-3 6 0 4 2 9 10 8 18 10 26 12 48 8 36 15 74 6 32zM449 646l-13-16-20-21-27-20-24-15-21-11-33-13 19-80 16-53 11-25 5-6 8-7 6 0 3 2 5 4 4 5 7 13 11 32 11 41 9 42 18 95 5 30z"/>
<path class="h37" d="M782 403l-19-7-29-14-31-19-23-19-21-20-10-14 19-72 13-37 10-21 4-6 5-7 6-3 6 0 4 2 9 10 8 18 10 26 12 48 8 36 19 96zM448 637l-11-13-15-16-28-23-16-10-22-13-22-10-21-8 17-74 16-53 11-25 5-6 8-7 6 0 3 2 5 4 4 5 7 13 11 32 11 41 9 42 14 73z"/>
<path class="h38" d="M780 395l-22-10-24-12-30-18-23-18-22-22-8-11 17-66 13-37 10-21 4-6 5-7 6-3 6 0 4 2 9 10 8 18 10 26 18 75 14 69zM446 628l-13-15-15-16-25-20-31-19-25-12-23-9 16-67 16-53 11-25 5-6 8-7 6 0 3 2 5 4 4 5 7 13 11 32 11 41 9 42 18 95 2 11z"/>
<path class="h39" d="M778 385l-20-8-24-12-30-18-17-14-13-11-22-24 16-60 14-40 9-18 4-6 5-7 6-3 6 0 4 2 9 10 8 18 10 26 18 75 17 83zM444 619l-9-11-21-21-22-18-36-21-18-9-22-9 14-60 16-53 11-25 5-6 8-7 6 0 3 2 8 7 8 15 8 23 8 26 12 54 17 85z"/>
<path class="h40" d="M777 377l-18-8-25-12-29-18-29-24-11-11-11-13 14-53 14-40 9-18 4-6 5-7 6-3 6 0 4 2 9 10 8 18 10 26 18 75zM443 611l-12-14-13-14-28-22-29-18-20-10-24-9 16-64 13-43 11-25 5-6 8-7 6 0 3 2 8 7 8 15 8 23 8 26 10 44 14 66z"/>
<path class="h41" d="M775 368l-29-13-36-21-14-11-18-14-23-25 13-46 14-40 9-18 4-6 5-7 6-3 6 0 4 2 6 6 5 9 9 19 9 27 10 41 16 76 4 20zM441 601l-27-28-25-20-31-18-22-11-17-7 14-57 13-43 11-25 5-6 8-7 6 0 3 2 8 7 8 15 8 23 8 26 10 44 16 77 4 25z"/>
<path class="h42" d="M774 359l-32-14-35-22-27-21-23-24 11-40 14-40 9-18 4-6 5-7 6-3 6 0 4 2 6 6 5 9 9 19 9 27 10 41 12 52zM440 593l-21-22-12-11-19-15-26-16-23-11-19-8 13-50 13-43 11-25 5-6 8-7 6 0 3 2 8 7 8 15 8 23 8 26 10 44 14 66 5 29z"/>
<path class="h43" d="M772 350l-32-15-28-16-30-24-23-23 12-42 13-37 7-13 6-9 6-6 3-1 6 0 4 2 6 6 5 9 9 19 9 27 10 41 12 52 4 24zM438 584l-5-6-19-19-26-20-29-18-37-17 11-44 13-43 11-25 5-6 8-7 6 0 3 2 8 7 8 15 8 23 8 26 10 44 16 77z"/>
<path class="h44" d="M770 341l-30-14-31-19-25-19-23-24 10-35 13-37 7-13 6-9 6-6 3-1 6 0 4 2 6 6 5 9 9 19 9 27 10 41zM436 575l-18-20-29-23-34-21-32-14 10-37 13-43 11-25 5-6 8-7 6 0 3 2 8 7 8 15 6 17 10 32 8 32 13 64z"/>
<path class="h45" d="M768 332l-30-15-30-18-27-22-18-19 8-28 13-37 7-13 6-9 6-6 3-1 6 0 4 2 6 6 5 9 9 19 9 27 10 41 12 52zM434 566l-21-22-23-19-30-18-35-17 12-44 13-39 10-19 5-5 5-4 6 0 3 2 8 7 8 15 6 17 10 32 8 32 13 64 3 14z"/>
<path class="h46" d="M766 323l-29-14-26-16-23-18-23-23 6-22 13-37 7-13 6-9 6-6 3-1 6 0 4 2 6 6 5 9 9 19 9 27 10 41 12 52zM433 557l-23-23-24-19-28-16-31-15 12-45 11-32 10-19 5-5 5-4 6 0 3 2 8 7 8 15 6 17 16 56 9 42z"/>
<path class="h47" d="M764 314l-29-15-27-17-22-17-19-19 4-16 13-37 7-13 6-9 6-6 3-1 6 0 4 2 6 6 5 9 9 19 9 27 10 41 10 43zM431 548l-19-19-26-20-29-18-28-14 10-38 11-32 10-19 5-5 5-4 6 0 3 2 8 7 8 15 6 17 16 56 14 69z"/>
<path class="h48" d="M763 305l-23-11-31-19-21-17-20-19 9-27 7-19 11-19 8-9 3-1 6 0 4 2 6 6 9 17 6 13 11 37zM430 540l-22-22-21-16-25-16-32-16 9-31 11-32 10-19 5-5 5-4 6 0 8 6 6 9 9 19 7 22 11 41z"/>
<path class="h49" d="M761 296l-23-11-26-16-22-18-20-19 14-39 11-19 8-9 3-1 6 0 4 2 6 6 9 17 6 13 11 37zM428 531l-18-18-27-21-23-14-28-14 7-25 11-32 10-19 5-5 5-4 6 0 8 6 6 9 9 19 7 22 11 41 9 42z"/>
<path class="h50" d="M759 287l-15-8-28-16-20-15-24-22 10-28 9-18 6-9 6-6 3-1 6 0 4 2 6 6 9 17 14 38 10 41zM426 521l-20-18-20-16-22-14-30-15 5-19 7-22 7-17 9-14 8-7 6 0 8 6 6 9 9 19 7 22 11 41 9 42z"/>
<path class="h51" d="M757 277l-17-8-30-18-16-13-20-18 8-22 9-18 6-9 6-6 3-1 6 0 4 2 6 6 9 17 14 38zM424 512l-21-19-21-16-26-16-21-10 11-34 7-17 9-14 8-7 6 0 5 3 7 8 7 13 8 23 8 26 10 44 3 13z"/>
<path class="h52" d="M754 268l-20-11-22-14-20-15-16-14 8-21 7-13 6-9 6-6 3-1 6 0 4 2 6 6 5 9 9 19 7 20 12 46zM422 503l-18-16-18-14-20-14-29-15 9-27 8-19 8-12 8-7 6 0 5 3 7 8 7 13 8 23 8 26 10 44z"/>
<path class="h53" d="M752 259l-16-8-23-15-19-15-15-13 3-10 9-18 6-9 6-6 3-1 6 0 4 2 6 6 5 8 9 20 7 20zM420 495l-14-14-24-18-27-17-16-8 7-21 8-19 8-12 8-7 6 0 5 3 7 8 7 13 6 17 8 24 8 32z"/>
<path class="h54" d="M750 249l-19-10-21-14-18-14-11-10 10-21 6-9 6-6 3-1 6 0 4 2 6 6 5 8 9 20 7 20 7 27zM418 485l-12-11-21-17-17-11-27-14 5-15 8-19 8-12 8-7 6 0 5 3 7 8 7 13 11 32z"/>
<path class="h55" d="M748 240l-14-7-18-12-22-16-11-10 8-15 6-9 6-6 3-1 6 0 4 2 6 6 5 8 9 20 9 27zM416 477l-13-13-22-17-21-13-17-8 7-19 7-15 5-6 8-7 6 0 5 3 7 8 7 13 11 32z"/>
<path class="h56" d="M745 231l-28-17-17-13-14-11 9-16 8-9 3-1 6 0 4 2 9 10 11 24 9 27zM414 467l-10-10-18-14-16-10-25-14 12-27 5-6 6-5 2-2 6 0 3 2 5 4 6 9 5 9 8 23 8 26z"/>
<path class="h57" d="M742 221l-26-16-27-21 8-13 6-6 3-1 6 0 4 2 6 6 11 22zM411 457l-27-22-36-22 9-21 5-6 6-5 2-2 6 0 3 2 5 4 6 9 5 9 8 23 8 26z"/>
<path class="h58" d="M739 211l-23-14-24-19 5-7 3-4 6-3 6 0 4 2 6 6 9 17zM409 448l-27-22-32-19 10-19 8-7 2-2 6 0 5 3 7 8 11 23 7 22z"/>
<path class="h59" d="M736 201l-13-8-18-12-9-8 1-2 6-6 3-1 6 0 4 2 6 6 5 8zM406 439l-11-10-15-12-27-15 0-2 7-12 8-7 2-2 6 0 5 3 6 6 8 15 4 10 7 22z"/>
<path class="h60" d="M731 190l-19-13-12-9 6-4 6 0 4 2 9 10 6 13zM403 428l-25-19-22-13 4-8 5-5 5-4 6 0 8 6 6 9 5 9 8 23z"/>
<path class="h61" d="M724 177l-18-13 6 0 4 2 6 6 3 4zM400 418l-18-13-22-14-1-1 3-4 8-7 6 0 5 3 9 12 9 19z"/>
<path class="h62" d="M396 408l-14-11-19-12 7-6 6 0 5 3 9 12 6 12z"/>
<path class="h63" d="M390 396l-22-15 2-2 6 0 5 3 6 6 4 7z"/></g>
<path class="ax" d="M97.6 126.5L97.6 374.3L259.0 486.5L471.4 400.8M280.3 477.9l4.1 2.9M242.8 475.2l-4.6 1.9M323.0 460.7l4.1 2.9M210.4 452.7l-4.6 1.9M365.6 443.5l4.1 2.9M178.0 430.2l-4.6 1.9M408.3 426.3l4.1 2.9M145.6 407.6l-4.6 1.9M450.9 409.1l4.1 2.9M113.2 385.1l-4.6 1.9M97.6 330.8l-4.6 1.9M97.6 287.4l-4.6 1.9M97.6 243.9l-4.6 1.9M97.6 200.5l-4.6 1.9M97.6 157.0l-4.6 1.9"/>
<text transform="translate(292.8 510.9) scale(0.850 1)" style="font-size:23.7px">-4</text>
<text transform="translate(228.4 506.2) scale(0.850 1)" text-anchor="end" style="font-size:23.7px">-4</text>
<text transform="translate(335.5 493.7) scale(0.850 1)" style="font-size:23.7px">-2</text>
<text transform="translate(196.0 483.7) scale(0.850 1)" text-anchor="end" style="font-size:23.7px">-2</text>
<text transform="translate(378.1 476.5) scale(0.850 1)" style="font-size:23.7px">0</text>
<text transform="translate(163.6 461.2) scale(0.850 1)" text-anchor="end" style="font-size:23.7px">0</text>
<text transform="translate(420.8 459.3) scale(0.850 1)" style="font-size:23.7px">2</text>
<text transform="translate(131.2 438.6) scale(0.850 1)" text-anchor="end" style="font-size:23.7px">2</text>
<text transform="translate(463.4 442.1) scale(0.850 1)" style="font-size:23.7px">4</text>
<text transform="translate(98.8 416.1) scale(0.850 1)" text-anchor="end" style="font-size:23.7px">4</text>
<text transform="translate(84.3 332.8) scale(0.850 1)" text-anchor="end" style="font-size:23.7px">0.5</text>
<text transform="translate(84.3 289.4) scale(0.850 1)" text-anchor="end" style="font-size:23.7px">1</text>
<text transform="translate(84.3 245.9) scale(0.850 1)" text-anchor="end" style="font-size:23.7px">1.5</text>
<text transform="translate(84.3 202.5) scale(0.850 1)" text-anchor="end" style="font-size:23.7px">2</text>
<text transform="translate(84.3 159.0) scale(0.850 1)" text-anchor="end" style="font-size:23.7px">2.5</text>
<text transform="translate(365.5 530.8) scale(0.850 1)" style="font-size:23.7px">x<tspan dy="15" style="font-size:21px">1</tspan></text>
<text transform="translate(144.4 522.8) scale(0.850 1)" style="font-size:23.7px">x<tspan dy="17" style="font-size:21px">2</tspan></text>
<text transform="translate(31.8 329.0) scale(0.830 1) rotate(-90)" style="font-size:27.0px">F18( x<tspan dy="9" style="font-size:21px">1</tspan><tspan dy="-9"> , x</tspan><tspan dy="9" style="font-size:21px">2</tspan><tspan dy="-9"> )</tspan></text>
<text transform="translate(41.0 90.8) scale(0.850 1)" style="font-size:25.8px">&#215;10<tspan dy="-0.56em" style="font-size:0.75em">8</tspan></text>
<text transform="translate(284.0 29.0) scale(0.927 1)" text-anchor="middle" style="font-size:25.8px;font-weight:bold;fill:#000">Parameter space</text></g>
<g id="F25"><path class="g3" d="M1104.1 374.0L1104.1 127.5M1464.3 400.3L1464.3 153.8M1260.1 486.8L1104.1 374.0M1260.1 486.8L1464.3 400.3M1206.2 330.8L1206.2 84.2M1386.3 343.9L1386.3 97.4M1362.2 443.6L1206.2 330.8M1182.1 430.4L1386.3 343.9M1308.3 287.5L1308.3 41.0M1308.3 287.5L1308.3 41.0M1464.3 400.3L1308.3 287.5M1104.1 374.0L1308.3 287.5M1104.1 374.0L1308.3 287.5M1308.3 287.5L1464.3 400.3M1104.1 291.8L1308.3 205.3M1308.3 205.3L1464.3 318.1M1104.1 209.7L1308.3 123.2M1308.3 123.2L1464.3 236.0M1104.1 127.5L1308.3 41.0M1308.3 41.0L1464.3 153.8M1308.3 287.5L1308.3 41.0M1464.3 400.3L1464.3 153.8"/>
<path class="g3" d="M1104.1 374.0L1308.3 287.5L1464.3 400.3"/>
<g class="ct" transform="scale(.5)"><path class="k10" d="M2474 689 2478 688 2481 688 2484 687 2487 686 2490 686 2494 685 2497 685 2501 684 2504 684 2508 684 2512 684 2516 684 2520 684 2524 684 2528 684 2532 684 2537 684 2541 685 2546 685 2551 686 2555 686 2559 687 2563 687 2566 688 2570 689 2573 689 2577 690 2580 691 2584 692 2587 693 2590 694 2593 694 2596 695 2600 696 2603 697 2605 698 2608 699 2611 700 2614 701 2617 702 2620 703 2622 705 2625 706 2628 707 2630 708 2633 709 2635 710 2638 711 2640 713 2642 714 2645 715 2647 716 2649 718 2652 719 2654 720 2656 722 2658 723 2660 724 2662 726 2665 727 2667 728 2669 730 2670 731 2672 732 2674 734 2676 735 2678 737 2680 738 2682 740 2683 741 2685 743 2687 744 2688 746 2690 747 2692 749 2693 751 2695 752 2696 754 2698 755 2699 757 2700 759 2703 762 2705 765 2707 767 2708 770 2710 773 2711 775 2713 778 2714 782 2716 786 2717 790 2718 794 2718 798 2719 801 2719 804 2718 809 2718 812 2717 815 2717 817 2716 819 2715 822 2714 824 2713 826 2712 828 2710 830 2709 832 2707 834 2706 836 2704 837 2703 839 2701 841 2699 842 2697 844 2695 845 2693 847 2691 848 2688 849 2686 851 2684 852 2681 853 2679 854 2676 855 2673 856 2671 857 2668 858 2665 859 2662 860 2659 860 2656 861 2653 862 2650 862 2646 863 2643 863 2640 864 2636 864 2632 864 2629 865 2625 865 2621 865 2617 865 2613 865 2609 865 2604 865 2600 864 2595 864 2591 864 2586 863 2582 862 2578 862 2574 861 2570 861 2567 860 2563 859 2560 858 2556 858 2553 857 2550 856 2547 855 2543 854 2540 853 2537 852 2534 851 2531 850 2528 849 2526 848 2523 847 2520 846 2517 845 2515 844 2512 843 2509 842 2507 841 2504 840 2502 838 2499 837 2497 836 2494 835 2492 833 2490 832 2487 831 2485 830 2483 828 2481 827 2479 826 2476 824 2474 823 2472 822 2470 820 2468 819 2466 818 2464 816 2462 815 2461 813 2459 812 2457 810 2455 809 2453 807 2452 806 2450 804 2448 803 2447 801 2445 800 2444 798 2442 796 2441 795 2439 793 2438 792 2437 790 2434 787 2432 784 2430 781 2428 778 2427 776 2426 774 2424 771 2423 767 2421 763 2420 759 2419 755 2418 751 2418 748 2418 745 2418 739 2419 736 2419 734 2420 731 2421 729 2422 727 2423 725 2424 723 2425 720 2426 718 2428 717 2429 715 2431 713 2433 711 2434 710 2436 708 2438 706 2440 705 2442 703 2444 702 2446 701 2448 699 2451 698 2453 697 2456 696 2458 695 2461 693 2463 692 2466 692 2469 691 2472 690 2474 689"/>
<path class="k21" d="M2437 653 2440 652 2443 652 2447 651 2450 650 2453 650 2456 649 2460 649 2463 648 2466 648 2470 648 2474 647 2477 647 2481 647 2485 646 2488 646 2492 646 2496 646 2500 646 2504 646 2508 646 2512 646 2517 646 2521 647 2526 647 2530 647 2535 648 2539 648 2543 649 2547 649 2550 650 2555 650 2559 651 2562 652 2566 652 2570 653 2573 654 2577 654 2580 655 2583 656 2587 657 2590 658 2594 659 2597 659 2600 660 2603 661 2606 662 2609 663 2612 664 2615 665 2618 666 2621 667 2624 668 2627 669 2630 670 2633 671 2636 672 2638 673 2641 674 2644 675 2646 676 2649 678 2652 679 2654 680 2657 681 2659 682 2662 683 2664 684 2667 686 2669 687 2672 688 2674 689 2676 691 2679 692 2681 693 2683 694 2686 696 2688 697 2690 698 2692 700 2694 701 2696 702 2699 704 2701 705 2703 706 2705 708 2707 709 2709 710 2711 712 2713 713 2715 715 2717 716 2719 717 2720 719 2722 720 2724 722 2726 723 2728 725 2729 726 2731 728 2733 729 2735 731 2736 732 2738 734 2739 735 2741 737 2743 739 2744 740 2746 742 2747 743 2749 745 2750 747 2752 748 2753 750 2754 751 2756 753 2758 756 2760 758 2762 762 2764 765 2766 768 2768 770 2769 773 2771 776 2772 780 2773 782 2775 785 2776 789 2778 793 2779 797 2780 801 2780 804 2781 807 2781 811 2781 814 2781 818 2781 822 2780 825 2780 828 2779 830 2779 833 2778 835 2777 837 2776 840 2775 842 2774 844 2773 846 2772 848 2771 850 2770 852 2768 854 2767 856 2765 858 2764 860 2762 862 2761 864 2759 865 2757 867 2755 868 2753 870 2751 872 2749 873 2747 875 2745 876 2743 877 2741 879 2739 880 2737 881 2734 882 2732 884 2729 885 2727 886 2724 887 2722 888 2719 889 2717 890 2714 891 2711 892 2708 893 2705 894 2702 895 2700 895 2696 896 2693 897 2690 898 2687 898 2684 899 2681 899 2677 900 2674 900 2670 901 2667 901 2663 901 2660 902 2656 902 2652 902 2648 902 2645 903 2641 903 2637 903 2632 903 2628 903 2625 902 2620 902 2616 902 2611 902 2607 901 2602 901 2598 900 2594 900 2590 899 2587 899 2582 898 2578 898 2574 897 2571 896 2567 896 2564 895 2560 894 2557 893 2554 893 2550 892 2546 891 2543 890 2540 889 2537 888 2534 887 2530 887 2527 886 2524 885 2521 884 2518 883 2515 882 2513 881 2510 880 2507 879 2504 878 2501 877 2498 875 2496 874 2493 873 2490 872 2488 871 2485 870 2483 869 2480 868 2477 866 2475 865 2472 864 2470 863 2468 862 2465 861 2463 859 2460 858 2458 857 2456 856 2454 854 2451 853 2449 852 2447 850 2445 849 2442 848 2440 846 2438 845 2436 844 2434 842 2432 841 2430 840 2428 838 2426 837 2424 835 2422 834 2420 833 2418 831 2416 830 2415 828 2413 827 2411 825 2409 824 2407 822 2406 821 2404 819 2402 818 2401 816 2399 815 2397 813 2396 812 2394 810 2393 809 2391 807 2390 805 2388 804 2387 802 2385 800 2384 799 2382 797 2381 795 2379 792 2377 790 2375 787 2373 783 2371 781 2369 778 2368 776 2366 773 2364 769 2363 767 2362 763 2361 759 2359 756 2358 752 2357 748 2357 744 2356 741 2356 738 2356 735 2356 730 2356 726 2357 724 2357 721 2357 718 2358 716 2359 713 2360 711 2360 709 2361 707 2362 704 2363 702 2365 700 2366 698 2367 696 2369 694 2370 692 2371 690 2373 689 2375 687 2376 685 2378 683 2380 682 2382 680 2383 679 2385 677 2387 676 2389 674 2391 673 2394 671 2396 670 2398 669 2400 667 2403 666 2405 665 2407 664 2410 663 2412 662 2415 660 2418 659 2420 658 2423 657 2426 657 2429 656 2431 655 2434 654 2437 653"/>
<path class="k32" d="M2622 930 2618 930 2613 930 2609 929 2605 929 2601 928 2597 928 2594 927 2589 927 2585 926 2581 925 2578 925 2574 924 2570 923 2566 923 2563 922 2559 921 2556 921 2552 920 2549 919 2546 918 2542 917 2539 916 2536 916 2532 915 2529 914 2526 913 2523 912 2520 911 2517 910 2514 909 2511 908 2508 907 2505 906 2502 905 2499 904 2496 903 2493 902 2491 901 2488 900 2485 899 2482 898 2480 897 2477 896 2474 895 2471 894 2469 892 2466 891 2464 890 2461 889 2459 888 2456 887 2454 886 2451 884 2449 883 2446 882 2444 881 2441 880 2439 878 2437 877 2434 876 2432 875 2430 873 2427 872 2425 871 2423 869 2421 868 2418 867 2416 866 2414 864 2412 863 2410 862 2408 860 2406 859 2404 858 2402 856 2400 855 2397 853 2395 852 2394 851 2392 849 2390 848 2388 846 2386 845 2384 844 2382 842 2380 841 2378 839 2377 838 2375 836 2373 835 2371 833 2369 832 2368 830 2366 829 2364 827 2363 826 2361 824 2359 823 2358 821 2356 819 2355 818 2353 816 2352 815 2350 813 2349 811 2347 810 2346 808 2344 807 2343 805 2342 803 2340 802 2339 800 2336 797 2335 795 2333 791 2330 788 2328 785 2327 783 2325 780 2324 777 2322 775 2321 772 2319 768 2318 766 2316 763 2315 759 2313 755 2312 751 2311 747 2310 743 2309 739 2309 737 2309 733 2308 730 2308 727 2308 724 2308 719 2309 715 2309 712 2309 710 2310 707 2310 705"/>
<path class="k32" d="M2514 618 2519 619 2523 619 2528 619 2532 620 2536 620 2540 621 2543 621 2548 622 2552 623 2556 623 2558 624 2563 624 2567 625 2570 626 2574 627 2577 627 2581 628 2584 629 2588 630 2591 630 2595 631 2598 632 2601 633 2604 634 2607 635 2611 636 2614 637 2617 637 2620 638 2623 639 2626 640 2629 641 2632 642 2635 643 2638 644 2641 645 2643 646 2646 647 2649 648 2652 650 2655 651 2657 652 2660 653 2663 654 2665 655 2668 656 2671 657 2673 658 2676 660 2678 661 2681 662 2683 663 2686 664 2688 665 2691 667 2693 668 2695 669 2698 670 2700 672 2703 673 2705 674 2707 675 2709 677 2712 678 2714 679 2716 680 2718 682 2721 683 2723 684 2725 686 2727 687 2729 688 2731 690 2733 691 2735 692 2737 694 2739 695 2741 697 2743 698 2745 699 2747 701 2749 702 2751 704 2753 705 2755 707 2757 708 2758 709 2760 711 2762 712 2764 714 2766 715 2767 717 2769 718 2771 720 2772 721 2774 723 2776 724 2777 726 2779 728 2781 729 2782 731 2784 732 2785 734 2787 736 2788 737 2790 739 2791 740 2792 742 2794 744 2795 745 2797 747 2798 749 2800 752 2802 754 2804 757 2807 761 2809 764 2810 766 2812 769 2813 771 2815 774 2816 777 2818 780 2819 783 2820 786 2822 790 2823 794 2825 798 2826 802 2827 806 2827 809 2828 812 2828 816 2829 819 2829 822 2829 825 2829 830 2828 833 2828 836 2828 839 2827 841 2826 844"/>
<path class="k42" d="M2580 948 2576 948 2573 947 2569 946 2565 946 2562 945 2558 944 2555 943 2551 943 2548 942 2544 941 2541 940 2538 939 2535 938 2531 938 2528 937 2525 936 2522 935 2518 934 2515 933 2512 932 2509 931 2506 930 2503 929 2500 928 2497 927 2494 926 2491 925 2489 925 2486 923 2483 922 2480 921 2477 920 2474 919 2472 918 2469 917 2466 916 2463 915 2461 914 2458 913 2455 912 2453 910 2450 909 2448 908 2445 907 2442 906 2440 905 2437 904 2435 902 2432 901 2430 900 2428 899 2425 898 2423 896 2420 895 2418 894 2416 893 2413 891 2411 890 2409 889 2406 888 2404 886 2402 885 2400 884 2397 882 2395 881 2393 880 2391 879 2389 877 2387 876 2385 875 2382 873 2380 872 2378 871 2376 869 2374 868 2372 866 2370 865 2368 864 2366 862 2364 861 2362 859 2360 858 2358 857 2357 855 2355 854 2353 852 2351 851 2349 849 2347 848 2346 846 2344 845 2342 843 2340 842 2338 840 2337 839 2335 837 2333 836 2332 834 2330 833 2328 831 2327 830 2325 828 2324 827 2322 825 2320 823 2319 822 2317 820 2316 819 2314 817 2313 815 2312 814 2310 812 2309 811 2307 809 2306 807 2305 806 2303 804 2301 801 2298 797 2296 794 2293 790 2292 788 2290 785 2288 783 2287 780 2286 778 2284 774 2282 770 2281 768 2279 765 2277 761 2276 757 2275 753 2273 750 2272 746 2271 742 2270 737 2269 734 2269 730 2268 727 2268 724 2268 723"/>
<path class="k42" d="M2557 600 2561 601 2564 602 2568 602 2571 603 2575 604 2579 605 2581 605 2586 606 2589 607 2592 608 2596 608 2599 609 2602 610 2606 611 2609 612 2612 613 2615 614 2618 615 2621 615 2625 616 2628 617 2631 618 2634 619 2637 620 2640 621 2643 622 2645 623 2648 624 2651 625 2654 626 2657 627 2660 628 2662 629 2665 630 2668 631 2671 633 2673 634 2676 635 2679 636 2681 637 2684 638 2687 639 2689 640 2692 642 2694 643 2697 644 2699 645 2702 646 2704 647 2707 649 2709 650 2712 651 2714 652 2716 653 2718 655 2721 656 2723 657 2726 658 2728 660 2730 661 2733 662 2735 664 2737 665 2739 666 2742 667 2744 669 2746 670 2748 671 2750 673 2752 674 2754 675 2756 677 2759 678 2761 679 2763 681 2765 682 2767 684 2769 685 2771 686 2773 688 2775 689 2776 691 2778 692 2780 693 2782 695 2784 696 2786 698 2788 699 2789 701 2791 702 2793 704 2795 705 2797 707 2798 708 2800 710 2802 711 2803 713 2805 714 2807 716 2808 717 2810 719 2812 720 2813 722 2815 724 2816 725 2818 727 2819 728 2821 730 2822 732 2824 733 2825 735 2827 736 2828 738 2829 740 2831 741 2832 743 2834 745 2836 748 2839 751 2841 755 2843 758 2845 761 2847 764 2848 766 2850 769 2851 771 2853 774 2855 778 2856 780 2858 784 2859 787 2861 791 2862 795 2864 799 2865 803 2866 807 2867 811 2867 815 2868 818 2868 821 2869 825 2869 826"/>
<path class="k53" d="M2548 962 2544 961 2541 960 2537 960 2534 959 2531 958 2528 957 2525 956 2521 955 2518 954 2515 954 2512 953 2508 952 2505 951 2502 950 2499 949 2496 948 2493 947 2490 946 2487 945 2484 944 2482 943 2479 942 2476 941 2475 941"/>
<path class="k53" d="M2883 768 2884 770 2886 773 2887 776 2889 779 2890 782 2892 785 2894 789 2895 792 2897 796 2898 800 2899 804 2900 808 2901 812"/>
<path class="k53" d="M2254 781 2252 778 2251 776 2249 773 2248 769 2246 767 2245 764 2243 760 2242 756 2240 752 2239 748 2238 744 2237 740 2236 736"/>
<path class="k53" d="M2589 587 2593 587 2596 588 2599 589 2603 590 2606 591 2609 592 2612 592 2616 593 2619 594 2622 595 2625 596 2628 597 2631 598 2634 599 2638 600 2641 601 2644 602 2646 603 2649 604 2652 605 2655 606 2658 607 2661 608 2662 608"/></g>
<g class="sf" transform="scale(.5)"><path class="h0" d="M2604 799l-25 0-23-5-24-9-23-12-20-14-22-19-26-27-30-36-30-43-24-40-26-48-22-44-41-91-28-69-11-32 2 3 21 50 23 45 14 22 16 22 10 12 13 13 14 11 8 5 12 6 16 4 20-1 13-4 12-6 13-9 10-8 13-14 13-17 23-36 25-47 27-62 24-67 26-82 19-67 2 2 21 59 19 44 11 24 26 50 17 29 23 31 19 22 20 17 19 10 15 6 14 2 8 0 16-3 12-4 12-6 18-13 19-18 21-26 0 1-33 111-32 93-29 68-19 38-16 28-26 37-22 27-29 29-22 18-24 17-24 12-28 9z"/>
<path class="h1" d="M2604 799l-25 0-23-5-24-9-23-12-20-14-22-19-26-27-30-36-30-43-24-40-26-48-22-44-41-91-28-69-11-32 2 3 21 50 23 45 14 22 16 22 10 12 13 13 14 11 8 5 12 6 16 4 20-1 13-4 12-6 13-9 10-8 13-14 13-17 23-36 25-47 27-62 24-67 26-82 19-67 2 2 21 59 19 44 11 24 26 50 17 29 23 31 19 22 20 17 19 10 15 6 14 2 8 0 16-3 12-4 12-6 18-13 19-18 21-26 0 1-33 111-32 93-29 68-19 38-16 28-26 37-22 27-29 29-22 18-24 17-24 12-28 9z"/>
<path class="h2" d="M2604 799l-25 0-23-5-24-9-23-12-20-14-22-19-26-27-30-36-30-43-24-40-26-48-22-44-41-91-28-69-11-32 2 3 21 50 23 45 14 22 16 22 10 12 13 13 14 11 8 5 12 6 16 4 20-1 13-4 12-6 13-9 10-8 13-14 13-17 23-36 25-47 27-62 24-67 26-82 19-67 2 2 21 59 19 44 11 24 26 50 17 29 23 31 19 22 20 17 19 10 15 6 14 2 8 0 16-3 12-4 12-6 18-13 19-18 21-26 0 1-33 111-32 93-29 68-19 38-16 28-26 37-22 27-29 29-22 18-24 17-24 12-28 9z"/>
<path class="h3" d="M2604 799l-25 0-23-5-24-9-23-12-20-14-22-19-26-27-30-36-30-43-24-40-26-48-22-44-41-91-28-69-11-32 2 3 21 50 23 45 14 22 16 22 10 12 13 13 14 11 8 5 12 6 16 4 20-1 13-4 12-6 13-9 10-8 13-14 13-17 23-36 25-47 27-62 24-67 26-82 19-67 2 2 21 59 19 44 11 24 26 50 17 29 23 31 19 22 20 17 19 10 15 6 14 2 8 0 16-3 12-4 12-6 18-13 19-18 21-26 0 1-33 111-32 93-29 68-19 38-16 28-26 37-22 27-29 29-22 18-24 17-24 12-28 9z"/>
<path class="h4" d="M2600 799l-22-1-25-5-23-9-21-11-20-14-22-19-26-27-30-36-30-43-24-40-26-48-22-44-41-91-28-69-11-32 2 3 21 50 23 45 14 22 16 22 10 12 13 13 14 11 8 5 12 6 16 4 20-1 13-4 12-6 13-9 10-8 13-14 13-17 23-36 25-47 27-62 24-67 26-82 19-67 2 2 21 59 19 44 11 24 26 50 17 29 23 31 19 22 20 17 19 10 15 6 14 2 8 0 16-3 12-4 12-6 18-13 19-18 21-26 0 1-33 111-32 93-18 43-18 41-20 37-19 29-26 34-18 21-22 22-27 22-24 16-23 10-24 8z"/>
<path class="h5" d="M2609 798l-24-1-24-4-24-7-27-13-21-14-22-19-26-27-23-27-22-30-23-35-21-36-21-39-22-44-29-63-34-82-17-47 2 3 21 50 23 45 14 22 16 22 10 12 13 13 14 11 8 5 12 6 16 4 20-1 13-4 12-6 13-9 10-8 13-14 13-17 23-36 25-47 27-62 24-67 26-82 19-67 2 2 21 59 19 44 11 24 26 50 17 29 23 31 19 22 20 17 19 10 15 6 14 2 8 0 16-3 12-4 12-6 18-13 19-18 21-26 0 1-33 111-32 93-29 68-19 38-16 28-26 37-22 27-29 29-22 18-24 17-24 12-23 7z"/>
<path class="h6" d="M2616 796l-24 0-28-4-26-7-28-13-18-11-25-21-19-19-19-22-25-32-23-33-24-40-26-48-22-44-29-63-23-55-28-72 0-2 15 36 19 38 20 37 22 31 10 12 13 13 14 11 8 5 12 6 16 4 20-1 13-4 12-6 13-9 10-8 13-14 13-17 23-36 25-47 27-62 24-67 26-82 19-67 2 2 21 59 19 44 11 24 26 50 17 29 23 31 19 22 20 17 11 6 13 6 18 5 21 0 17-5 16-7 18-13 19-18 21-26-13 47-15 50-19 59-18 49-29 68-19 38-16 28-26 37-22 27-29 29-12 10-26 20-28 15-14 5-10 3zM2672 723l-7-9-14-14-14-10-17-9 5 7 18 17 13 10 12 7z"/>
<path class="h7" d="M2616 794l-26-1-29-4-27-8-31-14-19-12-17-15-19-19-19-22-25-32-23-33-24-40-26-48-22-44-29-63-34-82-17-47 2 3 21 50 23 45 14 22 16 22 10 12 13 13 14 11 8 5 12 6 16 4 20-1 13-4 12-6 13-9 10-8 13-14 13-17 23-36 25-47 27-62 24-67 26-82 19-67 2 2 21 59 19 44 11 24 26 50 17 29 23 31 19 22 20 17 19 10 15 6 14 2 8 0 16-3 12-4 12-6 18-13 19-18 21-26 0 1-33 111-32 93-29 68-19 38-16 28-26 37-22 27-29 29-22 18-21 15-21 11-20 6zM2687 727l-5-10-6-9-18-17-24-17-16-8-13-4 20 26 18 17 13 10 12 7 11 4z"/>
<path class="h8" d="M2619 791l-27 0-30-5-24-7-28-11-20-11-18-13-24-23-19-22-25-32-23-33-24-40-26-48-22-44-29-63-23-55-28-72 0-2 15 36 19 38 20 37 22 31 10 12 13 13 14 11 8 5 12 6 16 4 20-1 13-4 12-6 13-9 10-8 13-14 13-17 23-36 25-47 27-62 24-67 26-82 19-67 2 2 21 59 19 44 11 24 26 50 17 29 23 31 19 22 20 17 11 6 13 6 18 5 21 0 17-5 16-7 18-13 19-18 21-26-13 47-15 50-19 59-18 49-29 68-19 38-16 28-26 37-22 27-29 29-22 18-21 15-17 9-20 6zM2697 728l-2-10-10-16-5-6-16-15-14-11-16-9-26-12-11-4-2 1 7 11 16 22 25 26 13 10 17 9 15 4z"/>
<path class="h9" d="M2628 788l-32 0-25-3-32-8-23-9-24-12-20-13-11-9-29-31-28-36-23-33-24-40-26-48-22-44-29-63-23-55-28-72 0-2 15 36 19 38 20 37 22 31 10 12 13 13 14 11 8 5 12 6 16 4 20-1 13-4 12-6 13-9 10-8 13-14 13-17 23-36 25-47 27-62 24-67 26-82 19-67 2 2 21 59 19 44 11 24 26 50 17 29 23 31 19 22 20 17 11 6 13 6 18 5 21 0 17-5 16-7 18-13 19-18 21-26-13 47-15 50-19 59-18 49-29 68-19 38-16 28-26 37-22 27-29 29-12 10-22 17-17 10-21 7zM2701 728l5 0 0-4-3-10-4-10-12-16-17-17-20-14-24-13-18-7-22-7 10 18 17 25 12 15 18 17 13 10 17 9 15 4z"/>
<path class="h10" d="M2622 785l-32-1-28-5-23-6-30-11-22-11-22-15-24-23-12-14-25-32-23-33-24-40-26-48-22-44-29-63-23-55-28-72 0-2 15 36 19 38 20 37 22 31 10 12 13 13 14 11 8 5 12 6 16 4 20-1 13-4 12-6 13-9 10-8 13-14 13-17 23-36 25-47 27-62 24-67 26-82 19-67 2 2 21 59 19 44 11 24 26 50 17 29 23 31 19 22 20 17 11 6 13 6 18 5 21 0 17-5 16-7 18-13 19-18 21-26-13 47-15 50-19 59-18 49-29 68-19 38-16 28-26 37-22 27-29 29-22 18-16 12-22 8-18 4zM2701 728l13-2-1-13-4-11-5-9-8-11-14-15-26-20-25-13-29-11-24-7 18 32 15 22 14 18 18 17 13 10 17 9 15 4z"/>
<path class="h11" d="M2620 782l-28-1-29-5-23-6-31-11-25-13-19-12-13-10-23-25-25-32-23-33-24-40-26-48-22-44-29-63-23-55-28-72 0-2 15 36 19 38 20 37 22 31 10 12 13 13 14 11 8 5 12 6 16 4 20-1 13-4 12-6 13-9 10-8 13-14 13-17 23-36 25-47 27-62 24-67 26-82 19-67 2 2 21 59 19 44 11 24 26 50 17 29 23 31 19 22 20 17 11 6 13 6 18 5 21 0 17-5 16-7 18-13 19-18 21-26-13 47-15 50-19 59-18 49-29 68-19 38-16 28-26 37-22 27-29 29-24 20-16 9-16 6-20 4zM2701 728l10-1 10-3 0-6-1-10-3-11-8-14-11-15-11-11-23-17-28-16-19-8-19-7-27-6 17 31 20 32 17 22 18 17 13 10 17 9 15 4z"/>
<path class="h12" d="M2633 778l-27 0-26-3-32-6-25-8-21-9-29-15-20-14-20-19-22-27-30-43-24-40-26-48-22-44-29-63-23-55-28-72 0-2 15 36 19 38 20 37 22 31 10 12 13 13 14 11 8 5 12 6 16 4 20-1 13-4 12-6 13-9 10-8 13-14 13-17 23-36 25-47 27-62 24-67 26-82 19-67 2 2 21 59 19 44 11 24 26 50 17 29 23 31 19 22 20 17 11 6 13 6 18 5 21 0 17-5 16-7 18-13 19-18 21-26-13 47-15 50-19 59-18 49-29 68-19 38-16 28-26 37-22 27-29 29-15 13-11 7-10 6-16 5-18 4zM2701 728l13-1 12-5 2-6 0-6-2-12-3-8-5-11-9-13-8-10-11-10-16-12-22-14-16-8-35-13-35-9-1 1 14 27 17 30 15 22 14 18 18 17 20 14 10 5 11 3 10 2z"/>
<path class="h13" d="M2639 774l-35 0-24-3-34-7-24-7-28-12-26-14-20-14-21-21-23-29-23-33-24-40-26-48-22-44-29-63-23-55-28-72 0-2 15 36 19 38 20 37 22 31 10 12 13 13 14 11 8 5 12 6 16 4 20-1 13-4 12-6 13-9 10-8 13-14 13-17 23-36 25-47 27-62 24-67 26-82 19-67 2 2 21 59 19 44 11 24 26 50 17 29 23 31 19 22 20 17 11 6 13 6 18 5 21 0 17-5 16-7 18-13 19-18 21-26-13 47-15 50-19 59-18 49-29 68-19 38-16 28-14 21-26 33-15 17-32 31-18 11-20 7-14 3zM2701 728l10-1 13-4 8-4 1-1 1-4 0-16-3-13-9-17-13-18-15-14-15-11-15-10-23-12-37-15-28-7-16-3 19 40 9 16 20 32 17 22 18 17 20 14 10 5 11 3 10 2z"/>
<path class="h14" d="M2628 771l-24-1-31-4-34-8-34-12-23-11-24-14-20-15-19-20-18-24-24-36-25-41-21-39-22-44-29-63-23-55-28-72 0-2 15 36 19 38 20 37 22 31 10 12 13 13 14 11 8 5 12 6 16 4 20-1 13-4 12-6 13-9 10-8 13-14 13-17 23-36 25-47 27-62 24-67 26-82 19-67 2 2 21 59 19 44 11 24 26 50 17 29 23 31 19 22 20 17 11 6 13 6 18 5 21 0 17-5 16-7 18-13 19-18 21-26-13 47-15 50-19 59-18 49-29 68-19 38-16 28-26 37-22 27-29 29-10 8-17 9-17 6-24 5zM2701 728l17-3 16-7 5-3 2-10-1-15-6-19-9-16-13-15-13-13-17-13-18-11-24-12-24-10-19-6-24-6-19-4 8 19 26 50 20 32 17 22 18 17 20 14 10 5 11 3 10 2z"/>
<path class="h15" d="M2626 767l-34-2-28-5-29-7-30-11-31-15-24-15-20-15-14-15-20-26-23-35-21-36-21-39-22-44-29-63-23-55-28-72 0-2 15 36 19 38 20 37 22 31 10 12 13 13 14 11 8 5 12 6 16 4 20-1 13-4 12-6 13-9 10-8 13-14 13-17 23-36 25-47 27-62 24-67 26-82 19-67 2 2 21 59 19 44 11 24 26 50 17 29 23 31 19 22 20 17 11 6 13 6 18 5 21 0 17-5 16-7 18-13 19-18 21-26-13 47-15 50-19 59-18 49-29 68-19 38-16 28-14 21-26 33-15 17-19 19-6 5-15 8-21 8-26 6zM2701 728l17-3 16-7 10-7 2-7 1-16-4-18-10-18-12-17-15-14-21-17-24-15-16-8-24-10-27-8-25-6-20-3 13 30 21 41 19 32 23 31 18 17 20 14 10 5 11 3 10 2z"/>
<path class="h16" d="M2644 762l-33 0-31-3-37-8-25-8-34-14-28-16-25-18-20-20-15-19-23-35-21-36-21-39-22-44-29-63-23-55-28-72 0-2 15 36 19 38 20 37 22 31 10 12 13 13 14 11 8 5 12 6 16 4 20-1 13-4 12-6 13-9 10-8 13-14 13-17 23-36 25-47 27-62 24-67 26-82 19-67 2 2 21 59 19 44 11 24 26 50 17 29 23 31 19 22 20 17 11 6 13 6 18 5 21 0 17-5 16-7 18-13 19-18 21-26-13 47-15 50-19 59-18 49-29 68-19 38-16 28-14 21-26 33-15 17-20 19-20 11-14 5-23 5zM2701 728l17-3 16-7 15-10 2-8 2-17-2-9-4-14-8-16-12-16-17-17-21-16-23-14-22-12-27-10-21-7-32-7-20-3 1 3 17 39 21 41 19 32 19 26 22 22 20 14 10 5 11 3 10 2z"/>
<path class="h17" d="M2640 758l-33-1-32-4-33-7-29-9-23-10-22-11-15-9-27-19-19-19-11-13-15-22-24-40-26-48-22-44-41-91-39-99 0-2 15 36 19 38 20 37 22 31 10 12 13 13 14 11 8 5 12 6 16 4 20-1 13-4 12-6 13-9 10-8 13-14 13-17 23-36 25-47 27-62 24-67 26-82 19-67 2 2 21 59 19 44 11 24 26 50 17 29 23 31 19 22 20 17 11 6 13 6 18 5 21 0 17-5 16-7 18-13 19-18 21-26-13 47-15 50-19 59-18 49-29 68-19 38-16 28-14 21-23 29-18 21-14 13-8 5-14 7-16 6-24 5zM2701 728l17-3 16-7 16-11 3-3 3-7 2-9 0-15-2-11-4-11-5-11-12-17-20-20-15-12-22-15-24-13-30-13-30-9-32-8-22-2 0 3 18 42 21 42 17 30 22 31 25 26 20 14 10 5 11 3 10 2zM2426 551l8-1 13-4 11-5 14-9-10 1-19 4-16 6-14 8z"/>
<path class="h18" d="M2648 753l-34 0-36-4-36-8-30-9-27-11-31-17-26-18-23-21-13-15-35-56-26-48-22-44-41-91-39-99 0-2 15 36 19 38 20 37 22 31 10 12 13 13 14 11 8 5 12 6 16 4 20-1 13-4 12-6 13-9 10-8 13-14 13-17 23-36 25-47 27-62 24-67 26-82 19-67 2 2 21 59 19 44 11 24 26 50 17 29 23 31 19 22 20 17 11 6 13 6 18 5 21 0 17-5 16-7 18-13 19-18 21-26-13 47-15 50-19 59-18 49-29 68-19 38-16 28-14 21-23 29-11 14-17 15-20 12-16 6-22 5zM2426 551l13-2 19-8 16-10 13-12-7 0-11 1-30 7-11 4-16 7-14 10 1 1 11 2zM2701 728l17-3 16-7 20-15 4-3 2-5 3-13 0-17-1-7-7-20-14-21-20-22-21-16-24-16-27-14-32-12-29-9-34-7-19-2 15 39 29 60 17 30 22 31 25 26 20 14 10 5 11 3 10 2z"/>
<path class="h19" d="M2636 749l-32-1-30-4-35-8-39-13-37-18-16-9-29-21-21-20-16-21-24-40-26-48-22-44-41-91-39-99 0-2 15 36 19 38 20 37 22 31 10 12 13 13 14 11 8 5 12 6 16 4 20-1 13-4 12-6 13-9 10-8 13-14 13-17 23-36 25-47 27-62 24-67 26-82 19-67 2 2 21 59 19 44 11 24 26 50 17 29 23 31 19 22 20 17 11 6 13 6 18 5 21 0 17-5 16-7 18-13 19-18 21-26-13 47-15 50-19 59-18 49-29 68-19 38-16 28-14 21-30 38-11 11-14 9-23 11-21 6-26 4zM2426 551l8-1 13-4 18-9 15-12 19-18-29 2-16 2-18 5-15 5-15 8-10 6-9 9 3 3 15 4zM2701 728l17-3 16-7 20-15 8-7 3-6 4-14 0-18-2-8-4-14-6-12-12-17-13-14-26-22-20-14-32-16-27-12-31-10-33-7-32-4 0 2 9 24 22 50 26 50 14 23 11 16 12 15 18 17 13 10 12 7 11 4 15 3z"/>
<path class="h20" d="M2643 745l-31-1-34-4-36-8-36-11-22-10-24-12-18-10-28-20-21-21-16-22-20-32-26-48-22-44-41-91-39-99 0-2 15 36 19 38 20 37 22 31 10 12 13 13 14 11 8 5 12 6 16 4 20-1 13-4 12-6 13-9 10-8 13-14 13-17 23-36 25-47 27-62 24-67 26-82 19-67 2 2 21 59 19 44 11 24 26 50 17 29 23 31 19 22 20 17 11 6 13 6 18 5 21 0 17-5 16-7 18-13 19-18 21-26-13 47-15 50-19 59-18 49-29 68-19 38-16 28-14 21-26 33-10 10-12 9-17 8-23 8-28 6zM2426 551l8-1 13-4 20-11 19-15 12-12 10-12-20 0-16 1-18 3-20 5-21 8-15 8-10 8-11 11 3 2 7 3 15 5 8 1zM2701 728l10-1 9-2 18-9 16-13 12-11 4-8 4-16 0-16-1-8-7-19-14-23-20-22-23-19-23-15-31-16-24-10-33-11-31-7-41-5 14 37 22 50 26 50 14 23 11 16 12 15 18 17 13 10 12 7 11 4 15 3z"/>
<path class="h21" d="M2646 740l-33-1-41-5-32-7-39-13-22-9-20-10-19-12-30-21-22-22-12-15-19-31-26-48-22-44-41-91-39-99 0-2 15 36 19 38 20 37 22 31 10 12 13 13 14 11 8 5 12 6 16 4 20-1 13-4 12-6 13-9 10-8 13-14 13-17 23-36 25-47 27-62 24-67 26-82 19-67 2 2 21 59 19 44 11 24 26 50 17 29 23 31 19 22 20 17 11 6 13 6 18 5 21 0 17-5 16-7 18-13 19-18 21-26-13 47-20 65-22 65-22 58-17 38-22 44-24 38-17 23 6-17 2-10 0-18-5-17-5-12-12-19-11-12-22-21-18-14-22-13-27-14-24-10-30-10-27-7-30-5-24-2 28 72 12 26 21 41 13 23 17 25 12 15 18 17 13 10 17 9 15 4 19 0 13-3 18-9 12-9 17-16-6 9-9 8-12 8-18 9-18 6-20 5zM2426 551l8-1 13-4 11-5 16-10 12-11 12-12 19-22-32-1-16 2-25 4-19 5-18 7-16 10-9 7-7 7-6 8 13 8 14 6 14 2zM2768 691l-1-1 3-3 0 1z"/>
<path class="h22" d="M2776 681l-1-1 5-9 3-11 1-22-5-21-8-15-13-20-18-19-21-18-29-19-28-15-36-14-28-9-36-8-36-5-44 0-21 2-19 4-3-1 7-5 13-14 22-30 24-41 22-45 24-58 20-55 26-82 19-67 2 2 21 59 19 44 11 24 26 50 17 29 23 31 19 22 20 17 11 6 13 6 18 5 21 0 17-5 16-7 18-13 19-18 21-26-13 47-20 65-22 65-22 58-17 38-19 38-16 28zM2646 735l-31 0-39-5-43-10-35-12-37-17-25-14-27-20-24-22-13-17-15-24-26-48-22-44-24-52-24-55-30-76-2-7 0-2 18 43 22 44 19 31 19 27 21 22 16 12 14 8 8 3 12 3 9 0-8 6-10 10-8 11 13 9 16 8 20 4 16 0 21-5 18-9 15-12 18-17 23-27 19 53 22 50 21 41 25 41 17 22 18 17 9 8 11 6 10 5 11 3 13 2-19 4zM2768 691l-1-1 3-3 0 1zM2759 700l-1 0 9-9 0 1z"/>
<path class="h23" d="M2781 673l7-19 1-18-4-21-7-17-10-16-17-21-21-19-24-17-33-19-23-11-41-14-28-8-37-6-30-3-33 0-28 3 19-23 23-36 25-47 18-41 19-49 24-67 22-72 13-49 2 2 21 59 19 44 11 24 26 50 17 29 23 31 19 22 20 17 11 6 13 6 18 5 21 0 17-5 16-7 18-13 19-18 21-26-13 47-20 65-22 65-22 58-17 38-19 38-16 28zM2642 731l-33-2-42-6-40-10-27-9-26-11-37-20-26-18-27-24-14-17-13-20-26-48-22-44-24-52-24-55-30-76-2-7 0-2 18 43 17 34 19 34 14 20 18 23 18 17 17 12 12 6 10 3-9 8-8 14 6 6 13 9 16 8 20 4 16 0 21-5 18-9 15-12 18-17 23-27 19 53 22 50 21 41 19 32 19 26 22 22 20 14 10 5 11 3-16 2z"/>
<path class="h24" d="M2786 666l7-18 1-20-4-20-7-18-16-23-23-24-16-14-24-16-22-13-32-15-31-12-36-10-31-6-30-3-40-1-18 1 17-23 24-41 19-38 19-43 20-53 18-52 22-72 13-49 2 2 21 59 19 44 11 24 26 50 17 29 23 31 19 22 20 17 11 6 13 6 18 5 21 0 17-5 16-7 18-13 19-18 21-26-13 47-15 50-19 59-18 49-22 54-18 38-24 42zM2659 725l-37 0-28-2-35-6-35-10-36-12-36-18-31-18-28-22-16-17-15-18-31-56-22-44-29-63-34-82-17-47 2 3 21 50 17 34 14 24 22 31 10 12 13 13 16 12 17 9-8 12-4 9 12 11 13 9 16 8 20 4 16 0 21-5 18-9 21-17 17-18 17-21 13 34 17 43 12 26 21 41 19 32 23 31 18 17 7 6 13 8 10 5z"/>
<path class="h25" d="M2791 659l5-13 3-15-1-16-3-12-4-11-10-20-15-20-20-20-23-18-26-17-29-15-32-13-36-12-31-7-29-5-35-2-32 0 14-21 18-32 22-45 20-46 19-52 15-43 22-72 13-49 2 2 21 59 19 44 11 24 26 50 17 29 23 31 19 22 20 17 11 6 13 6 18 5 21 0 17-5 16-7 18-13 19-18 21-26-13 47-15 50-19 59-18 49-18 43-18 41-20 37zM2656 721l-39-1-35-4-41-9-35-10-36-15-35-19-32-22-21-18-15-16-13-19-23-42-22-44-41-91-28-69-11-32 2 3 21 50 17 34 14 24 14 20 18 23 18 17 11 8 9 5-6 9-4 9 0 2 11 11 20 14 16 8 20 4 16 0 21-5 18-9 21-17 17-18 17-21 13 34 17 43 12 26 21 41 19 32 23 31 18 17 9 8 12 7z"/>
<path class="h26" d="M2796 651l6-17 1-17-2-15-6-20-8-14-6-10-15-18-19-19-21-16-26-17-30-15-30-13-27-9-36-10-35-6-28-2-34-1 15-24 13-23 19-40 20-46 19-52 15-43 22-72 13-49 2 2 21 59 19 44 11 24 26 50 17 29 23 31 19 22 20 17 11 6 13 6 18 5 21 0 17-5 16-7 18-13 19-18 21-26-13 47-15 50-19 59-18 49-18 43-18 41-15 28zM2645 716l-39-2-33-5-35-8-36-11-36-15-32-17-26-17-26-22-19-20-14-20-40-77-41-91-28-69-11-32 2 3 16 40 17 34 24 41 17 24 10 12 13 13 17 13-8 17 17 18 20 14 16 8 20 4 16 0 21-5 18-9 21-17 17-18 17-21 13 34 17 43 29 60 17 30 22 31 25 26 13 10z"/>
<path class="h27" d="M2802 643l5-21 0-18-5-22-9-19-10-15-12-16-21-20-24-18-25-16-27-14-26-11-30-11-31-9-38-7-30-3-32-1 18-32 15-29 18-41 13-33 20-55 16-47 16-53 13-49 2 2 21 59 19 44 11 24 26 50 17 29 23 31 19 22 20 17 11 6 13 6 18 5 21 0 17-5 16-7 18-13 19-18 21-26-13 47-15 50-19 59-18 49-29 68-19 38zM2649 711l-31-1-42-5-42-10-33-10-33-14-31-16-29-18-29-24-17-17-15-21-16-29-22-44-41-91-28-69-11-32 2 3 21 50 17 34 14 24 14 20 14 18 17 18 10 8-4 8-2 9 8 9 14 14 20 14 16 8 20 4 16 0 21-5 18-9 21-17 17-18 17-21 13 34 17 43 12 26 21 41 13 23 17 25 12 15z"/>
<path class="h28" d="M2808 633l4-21-1-18-6-22-8-17-8-13-14-17-22-22-23-18-34-20-26-14-28-11-25-9-32-8-35-7-28-3-26-1-3-1 12-21 19-38 19-43 14-38 30-86 16-53 13-49 2 2 21 59 19 44 11 24 26 50 17 29 23 31 19 22 20 17 11 6 13 6 18 5 21 0 17-5 16-7 18-13 19-18 21-26-13 47-15 50-29 87-30 75-18 38zM2642 705l-34-1-40-6-39-9-36-12-31-14-33-17-27-18-27-22-20-21-13-19-33-64-41-91-28-69-11-32 2 3 21 50 17 34 14 24 24 34 8 9 16 16-4 16 20 22 14 12 13 9 16 8 20 4 16 0 21-5 18-9 21-17 17-18 17-21 13 34 17 43 29 60 17 30 15 22 14 18z"/>
<path class="h29" d="M2813 623l3-15-1-23-6-21-7-16-9-14-15-18-21-21-24-18-23-15-34-18-28-12-30-11-35-9-23-5-29-4-32-2 28-56 30-74 30-86 16-53 13-49 2 2 21 59 19 44 11 24 26 50 17 29 23 31 19 22 20 17 11 6 13 6 18 5 21 0 17-5 16-7 18-13 19-18 21-26-13 47-15 50-29 87-30 75-14 30zM2638 701l-42-4-38-6-38-10-31-11-27-11-40-22-32-22-21-18-17-19-13-17-30-59-41-91-28-69-11-32 2 3 21 50 23 45 14 22 16 22 21 23-3 9-1 6 11 14 14 14 14 12 13 9 16 8 20 4 16 0 21-5 18-9 21-17 17-18 17-21 13 34 17 43 29 60 17 30 12 18 13 17z"/>
<path class="h30" d="M2818 615l3-19-1-15-3-13-9-24-12-19-15-19-20-19-17-14-22-14-22-14-32-15-32-13-29-9-36-9-33-5-33-3 25-52 17-40 16-43 27-82 26-91 2 2 21 59 19 44 11 24 26 50 17 29 23 31 19 22 20 17 11 6 13 6 18 5 21 0 17-5 16-7 18-13 19-18 21-26-13 47-15 50-27 80-28 71-18 41zM2632 695l-26-2-42-6-36-9-38-13-28-12-35-18-28-18-27-21-23-24-10-14-9-14-21-42-29-63-34-82-17-47 2 3 21 50 23 45 22 33 10 14 13 14-3 15 16 20 14 14 14 12 13 9 16 8 20 4 16 0 21-5 18-9 21-17 17-18 17-21 13 34 17 43 29 60 23 39 16 22z"/>
<path class="h31" d="M2822 606l3-14 0-14-2-9-4-15-9-21-15-23-14-15-15-15-21-17-17-12-25-14-34-17-34-13-30-10-24-6-28-5-25-3-16-1-2-1 28-61 28-73 27-81 23-83 2 2 21 59 19 44 11 24 26 50 17 29 23 31 19 22 20 17 11 6 13 6 18 5 21 0 17-5 16-7 18-13 19-18 21-26-20 71-31 96-30 76zM2626 689l-31-2-41-8-37-10-34-12-25-10-22-12-21-12-31-21-18-15-19-20-13-17-7-12-18-36-41-91-28-69-11-32 2 3 21 50 21 40 20 33 14 19 8 9-2 10 0 4 13 17 16 18 12 12 20 14 16 8 20 4 16 0 21-5 18-9 21-17 17-18 17-21 13 34 17 43 29 60 23 39z"/>
<path class="h32" d="M2828 595l1-25-3-15-6-17-11-20-19-26-19-19-31-24-24-16-21-11-24-11-30-12-33-11-33-8-35-6-25-2 23-52 28-73 27-81 23-83 2 2 21 59 19 44 11 24 26 50 17 29 23 31 19 22 20 17 11 6 13 6 18 5 21 0 17-5 16-7 18-13 19-18 21-26-20 71-27 85-30 79zM2622 684l-32-3-36-7-37-10-36-13-25-10-33-18-25-16-31-24-25-25-9-12-10-15-20-42-23-50-34-82-17-47 2 3 21 50 17 34 24 39 17 22-1 7 0 7 14 20 17 19 14 14 20 14 16 8 20 4 16 0 21-5 18-9 21-17 17-18 17-21 20 53 22 50 26 50 14 23 19 25z"/>
<path class="h33" d="M2832 587l1-7 0-17-2-9-6-20-8-17-9-15-18-22-19-18-23-18-24-16-28-16-23-11-28-11-28-9-30-8-38-8-30-3 24-53 28-77 26-82 19-67 2 2 21 59 19 44 11 24 26 50 17 29 23 31 19 22 20 17 11 6 13 6 18 5 21 0 17-5 16-7 18-13 19-18 21-26-20 71-27 85-30 79zM2617 678l-31-3-34-7-35-9-46-17-37-17-20-12-28-18-26-22-19-20-12-15-10-15-10-21-41-91-28-69-11-32 2 3 21 50 17 34 19 31 17 24-1 12 2 4 17 24 17 19 14 14 20 14 16 8 20 4 16 0 21-5 18-9 21-17 17-18 17-21 20 53 22 50 26 50 14 23z"/>
<path class="h34" d="M2836 577l1-21-4-18-6-16-10-19-10-15-10-12-19-19-28-22-18-13-24-14-27-13-34-14-30-10-30-8-38-8-25-3 23-53 24-67 26-82 19-67 2 2 21 59 19 44 11 24 26 50 17 29 23 31 19 22 20 17 11 6 13 6 18 5 21 0 17-5 16-7 18-13 19-18 21-26-20 71-27 85-18 49zM2612 672l-25-3-43-8-29-8-39-14-34-16-32-17-24-16-27-22-26-28-18-26-21-44-26-59-28-69-11-32 2 3 16 40 17 34 19 34 18 26-1 11 23 34 17 19 14 14 20 14 16 8 20 4 16 0 21-5 18-9 21-17 17-18 17-21 20 53 22 50 26 50z"/>
<path class="h35" d="M2840 568l1-18-4-18-7-20-9-16-10-16-17-19-20-19-22-17-22-14-22-13-30-15-29-12-32-10-27-8-33-6-28-4-1-1 19-43 24-67 26-82 19-67 2 2 21 59 19 44 11 24 26 50 17 29 23 31 19 22 20 17 11 6 13 6 18 5 21 0 17-5 16-7 18-13 19-18 21-26-20 71-27 85-18 49zM2608 666l-32-4-40-9-25-7-39-14-21-9-41-22-28-19-24-19-26-27-11-14-8-13-19-39-26-59-28-69-11-32 2 3 16 40 17 34 19 34 14 19-1 12 4 6 23 34 17 19 14 14 20 14 16 8 20 4 16 0 21-5 18-9 21-17 17-18 17-21 20 53 22 50 21 41 13 23 12 17z"/>
<path class="h36" d="M2844 559l1-14-4-20-6-17-11-22-9-13-15-17-20-19-23-19-26-17-26-15-22-11-29-12-35-12-33-8-54-10 19-46 20-55 26-82 19-67 2 2 21 59 19 44 11 24 26 50 17 29 23 31 19 22 20 17 11 6 13 6 18 5 21 0 17-5 16-7 18-13 19-18 21-26-20 71-27 85-18 49zM2604 661l-31-5-46-11-35-11-34-13-34-17-26-15-27-20-24-20-15-16-13-17-9-13-7-14-42-94-21-53-11-32 2 3 16 40 17 34 11 21 18 27-1 10 8 13 23 34 17 19 14 14 20 14 16 8 20 4 16 0 21-5 18-9 21-17 17-18 17-21 20 53 22 50 21 41z"/>
<path class="h37" d="M2848 549l0-16-3-15-8-22-8-16-13-18-11-12-23-23-25-20-25-16-19-11-25-13-34-14-33-11-21-6-33-7-31-5 15-37 20-55 26-82 19-67 2 2 21 59 19 44 11 24 26 50 17 29 23 31 19 22 20 17 11 6 13 6 18 5 21 0 17-5 16-7 18-13 19-18 21-26-13 47-20 65-24 72zM2600 655l-40-7-32-8-32-10-38-15-29-14-33-19-28-19-22-20-25-26-16-25-14-29-23-52-28-69-11-32 2 3 16 40 17 34 25 42 0 10 11 19 23 34 17 19 14 14 20 14 16 8 20 4 16 0 21-5 18-9 21-17 17-18 17-21 17 46 21 49 21 42z"/>
<path class="h38" d="M2852 539l-1-17-4-19-6-13-9-18-10-14-13-16-19-19-26-21-26-18-30-17-22-10-28-12-33-12-23-6-29-7-33-6 17-43 24-67 22-72 13-49 2 2 21 59 19 44 11 24 26 50 17 29 23 31 19 22 20 17 11 6 13 6 18 5 21 0 17-5 16-7 18-13 19-18 21-26-13 47-20 65-22 65zM2596 648l-24-3-44-10-38-12-32-13-33-16-32-19-27-19-24-20-21-22-9-12-11-17-16-35-24-55-21-53-11-32 2 3 16 40 16 31 12 24 10 14 0 12 28 44 16 21 18 19 14 12 13 9 16 8 20 4 16 0 8-1 18-6 22-13 12-11 12-12 22-27 17 46 21 49 21 42 16 28z"/>
<path class="h39" d="M2856 529l-1-16-4-14-6-16-10-19-12-18-10-12-20-19-26-22-21-14-32-19-20-10-33-14-28-10-32-9-57-12 19-49 18-52 22-72 13-49 2 2 21 59 19 44 11 24 26 50 17 29 23 31 19 22 20 17 11 6 13 6 18 5 21 0 17-5 16-7 18-13 19-18 21-26-13 47-20 65-22 65zM2592 642l-36-6-32-8-35-11-32-13-35-17-26-15-28-19-21-17-18-18-11-12-11-14-9-14-13-28-24-55-21-53-11-32 2 3 21 50 17 34 12 20 0 9 4 8 28 44 16 21 18 19 14 12 13 9 16 8 20 4 16 0 8-1 18-6 22-13 12-11 12-12 22-27 17 46 21 49 21 42z"/>
<path class="h40" d="M2860 521l-2-17-6-21-9-19-11-18-17-20-19-20-31-25-27-18-20-11-24-12-35-15-31-10-28-8-53-11 16-40 18-52 22-72 13-49 2 2 21 59 19 44 11 24 26 50 17 29 23 31 19 22 20 17 11 6 13 6 18 5 21 0 17-5 16-7 18-13 19-18 21-26-13 47-20 65-18 55zM2589 636l-31-5-30-8-40-12-32-13-36-17-20-12-30-19-27-22-15-14-13-14-14-19-7-12-9-19-28-66-28-74 2 3 21 50 17 34 8 13 1 10 13 23 15 25 17 24 17 19 14 14 20 14 8 4 14 6 14 2 16 0 13-2 19-8 22-16 18-17 22-27 13 34 17 43 12 26z"/>
<path class="h41" d="M2863 512l-2-20-6-17-8-17-10-18-19-23-18-18-30-24-17-12-25-16-34-17-25-11-55-18-38-10-25-4 20-55 16-47 16-53 13-49 2 2 21 59 19 44 11 24 26 50 17 29 23 31 19 22 20 17 11 6 13 6 18 5 21 0 17-5 16-7 18-13 19-18 21-26-13 47-20 65-18 55zM2585 630l-32-6-36-9-36-12-33-14-28-14-30-17-26-17-25-21-29-30-10-14-11-17-32-75-28-74 2 3 21 50 22 41 1 10 16 29 15 25 17 24 17 19 14 14 20 14 8 4 14 6 14 2 16 0 13-2 19-8 22-16 18-17 22-27 13 34 17 43 12 26 17 34 5 8z"/>
<path class="h42" d="M2867 502l-1-2-1-13-6-18-6-15-14-22-14-18-21-23-33-26-21-14-27-16-28-14-25-11-19-7-40-13-33-8-23-4 16-46 16-47 16-53 13-49 2 2 21 59 19 44 11 24 26 50 17 29 23 31 19 22 20 17 11 6 13 6 18 5 21 0 17-5 16-7 18-13 19-18 21-26-13 47-15 50-19 59zM2582 623l-28-4-38-10-34-12-30-12-32-15-26-15-30-20-24-18-29-29-14-18-9-15-8-16-23-55-28-74 2 3 21 50 19 36 0 7 20 37 15 25 17 24 17 19 14 14 20 14 8 4 14 6 14 2 16 0 13-2 19-8 22-16 18-17 22-27 13 34 17 43 12 26z"/>
<path class="h43" d="M2750 340l-26-15-28-14-44-18-44-14-50-11 29-83 16-53 13-49 2 2 13 38 19 47 19 42 18 36 10 19 20 32 18 23 15 17zM2870 493l-2-14-5-16-4-10-10-20-10-15-12-14-19-19-15-13 15 5 14 2 15-1 21-6 17-9 19-15 18-19 16-20-5 19-23 78zM2340 511l-13-11-21-22-11-15-12-19-26-60-26-65-2-7 0-2 18 43 20 38 0 8 15 29 15 25 16 25 13 17 14 15zM2578 617l-44-9-52-16-24-9-28-13-43-24 1-1 8 4 9 2 21 0 13-2 13-5 17-10 17-14 17-18 17-21 13 34 17 43z"/>
<path class="h44" d="M2732 319l-40-20-40-16-43-13-33-8-14-2-1-1 10-27 19-58 26-91 2 2 7 22 17 43 27 62 28 55 15 24 20 27zM2874 484l-4-18-5-14-10-21-19-28-17-19-7-6 18 1 14-2 14-5 12-6 12-8 12-10 18-19 16-20-5 19-23 78zM2321 489l-20-21-10-14-10-16-7-13-17-41-26-65-2-7 0-2 18 43 16 32 2 9 12 24 20 35 16 25 8 10zM2575 611l-40-8-50-16-40-16-40-20 21 0 8-1 13-4 18-9 15-12 18-17 22-27 25 64 17 39 13 26z"/>
<path class="h45" d="M2720 303l-32-15-37-15-51-15-35-8 25-76 26-91 2 2 7 22 17 43 27 62 26 50zM2877 475l-1-1-1-10-5-16-9-21-18-27-18-21 12-1 17-5 23-12 17-13 13-13 21-26-1 7-19 64zM2310 475l-11-13-14-18-15-28-30-74-11-28 0-4 18 43 14 27 1 8 23 46 15 24 11 16zM2572 605l-43-10-39-12-43-16-31-15 14-1 13-4 15-6 11-7 11-9 18-17 22-27 25 64 17 39 10 20z"/>
<path class="h46" d="M2710 288l-28-13-46-16-37-11-31-7 25-75 23-83 2 2 7 22 17 43 22 52 23 46 23 39zM2880 467l-1-8-6-21-10-21-14-21-14-18 11-2 12-4 12-6 12-8 12-10 13-13 21-26-1 7-19 64zM2300 459l-15-19-16-26-29-72-11-28 0-4 15 36 13 27 1 7 4 8 20 40 17 28zM2569 599l-25-6-39-10-48-18-31-14 8-1 13-4 11-5 16-10 12-11 12-12 22-27 25 64z"/>
<path class="h47" d="M2701 274l-33-14-37-13-42-11-18-4 22-66 23-83 2 2 21 59 19 44 29 60 14 24zM2883 457l-4-16-6-18-12-21-18-25 15-5 12-6 18-13 19-18 21-26-1 7-19 64zM2290 443l-14-19-10-18-26-64-11-28 0-4 12 30 13 26 3 11 20 41 12 22zM2566 592l-18-3-42-12-45-16-26-11 12-4 11-5 22-16 18-17 22-27 20 53z"/>
<path class="h48" d="M2694 261l-24-10-34-12-27-8-35-8 23-73 19-67 2 2 21 59 19 44 11 24 25 48zM2886 448l-3-14-7-18-10-20-15-22 19-8 18-13 19-18 21-26-1 7-19 64-13 41zM2284 431l-13-17-8-16-26-65-8-21 0-2 12 30 10 20 2 10 24 48 7 12zM2562 585l-12-2-42-11-30-10-35-14 15-7 22-16 18-17 22-27 20 53z"/>
<path class="h49" d="M2687 249l-23-10-31-10-28-8-28-7 20-64 19-67 2 2 13 38 19 47 19 42zM2889 439l-4-15-6-16-10-19-11-17 17-9 19-15 18-19 16-20-1 7-15 51zM2276 417l-11-16-8-16-26-66-2-7 0-2 18 42 4 12 25 52zM2560 579l-27-6-26-7-30-10-28-11 20-11 17-14 17-18 17-21 17 46z"/>
<path class="h50" d="M2680 236l-48-17-21-6-30-7-1-1 17-55 19-67 2 2 13 38 19 47 19 42 12 23zM2892 431l-3-11-7-20-9-18-9-13 13-8 17-13 18-19 16-20-1 7-15 51zM2270 405l-9-13-6-14-24-59-2-7 0-2 16 38 1 5 2 5 22 46zM2556 573l-24-6-26-7-30-10-20-8 13-8 17-14 17-18 17-21 17 46 18 41z"/>
<path class="h51" d="M2674 224l-44-15-47-13 20-64 13-49 2 2 7 22 17 43 16 38 17 35zM2895 421l-6-19-4-11-8-15-7-10 12-8 12-10 18-19 16-20-1 7-12 40zM2263 391l-6-9-7-15-21-53 0-4 12 28 3 10 18 39zM2554 566l-17-3-31-9-30-10-14-6 12-7 12-11 17-18 17-21 17 46z"/>
<path class="h52" d="M2668 212l-39-13-43-11 30-105 2 2 7 22 17 43 16 38 11 22zM2898 413l-9-26-13-25 12-9 19-18 21-26-1 7-12 40zM2257 379l-9-17-19-48 0-4 10 24 3 10 15 32zM2550 559l-26-6-21-6-33-11-2-2 12-9 18-17 22-27 17 46 13 29z"/>
<path class="h53" d="M2664 201l-34-12-40-10-1-1 27-95 2 2 7 22 17 43zM2900 404l-7-22-12-24 13-10 13-13 21-26-1 7-12 40zM2252 368l-8-16-15-38 0-4zM2548 553l-34-8-41-14 13-11 12-12 22-27 13 34z"/>
<path class="h54" d="M2658 189l-28-9-39-10 25-87 2 2 21 59zM2903 395l-5-17-11-24 20-19 21-26-5 19zM2234 326l-5-14 0-2 4 10zM2246 353l-9-20-1-4 10 23zM2545 547l-34-9-33-11 20-19 22-27 13 34 12 29z"/>
<path class="h55" d="M2654 178l-37-11-23-6 22-78 2 2 21 59zM2906 386l-5-16-10-20 21-21 16-20-5 19zM2231 317l-2-5 0-2 2 5zM2238 336l-2-5 0-2 3 5zM2240 341l-1-3 0-2 2 3zM2542 540l-34-9-25-8 20-21 17-21 13 34 9 22z"/>
<path class="h56" d="M2648 167l-51-15 19-69 2 2 21 59 10 21zM2908 377l-4-14-8-17 20-22 12-15-5 19zM2540 533l-30-7-22-8 15-16 17-21z"/>
<path class="h57" d="M2644 156l-45-13 17-60 2 2 7 22zM2911 369l-3-11-7-17 15-17 12-15-1 7zM2537 527l-20-5-24-8 14-16 13-17 9 25 8 18z"/>
<path class="h58" d="M2640 145l-38-11 14-51 2 2 7 22 14 33zM2914 360l-9-24 11-12 12-15-1 7zM2534 520l-12-3-25-7 23-29z"/>
<path class="h59" d="M2636 135l-32-9 12-43 2 2zM2916 351l-7-19 19-23-1 7zM2532 513l-31-8 19-24 12 31z"/>
<path class="h60" d="M2631 123l-24-6 9-34 2 2 13 35zM2919 342l-6-15 15-18-1 7zM2529 507l-24-7 15-19 9 22z"/>
<path class="h61" d="M2628 113l-16-4-3-1 7-25 2 2zM2922 333l-1-1-4-10 11-13 0 1zM2527 501l-18-5 11-15z"/>
<path class="h62" d="M2624 103l-12-4 4-16 2 2zM2924 325l-3-8 7-8 0 1zM2524 494l-11-4 7-9 5 11z"/>
<path class="h63" d="M2620 92l-6-2 2-7 2 2zM2926 316l-1-4 3-3zM2522 487l-5-1 3-5z"/></g>
<path class="ax" d="M1104.1 127.5L1104.1 374.0L1260.1 486.8L1464.3 400.3M1260.1 486.8l4.1 2.9M1260.1 486.8l-4.6 2.0M1362.2 443.6l4.1 2.9M1182.1 430.4l-4.6 2.0M1464.3 400.3l4.1 2.9M1104.1 374.0l-4.6 2.0M1104.1 374.0l-4.6 2.0M1104.1 291.8l-4.6 2.0M1104.1 209.7l-4.6 2.0M1104.1 127.5l-4.6 2.0"/>
<text transform="translate(1272.6 519.8) scale(0.850 1)" style="font-size:23.7px">-10</text>
<text transform="translate(1245.7 517.8) scale(0.850 1)" text-anchor="end" style="font-size:23.7px">-10</text>
<text transform="translate(1374.7 476.6) scale(0.850 1)" style="font-size:23.7px">0</text>
<text transform="translate(1167.7 461.4) scale(0.850 1)" text-anchor="end" style="font-size:23.7px">0</text>
<text transform="translate(1476.8 433.3) scale(0.850 1)" style="font-size:23.7px">10</text>
<text transform="translate(1089.7 405.0) scale(0.850 1)" text-anchor="end" style="font-size:23.7px">10</text>
<text transform="translate(1090.8 376.0) scale(0.850 1)" text-anchor="end" style="font-size:23.7px">0</text>
<text transform="translate(1090.8 293.8) scale(0.850 1)" text-anchor="end" style="font-size:23.7px">100</text>
<text transform="translate(1090.8 211.7) scale(0.850 1)" text-anchor="end" style="font-size:23.7px">200</text>
<text transform="translate(1090.8 129.5) scale(0.850 1)" text-anchor="end" style="font-size:23.7px">300</text>
<text transform="translate(1376.7 531.9) scale(0.850 1)" style="font-size:23.7px">x<tspan dy="15" style="font-size:21px">1</tspan></text>
<text transform="translate(1135.7 526.3) scale(0.850 1)" style="font-size:23.7px">x<tspan dy="17" style="font-size:21px">2</tspan></text>
<text transform="translate(1030.0 329.6) scale(0.830 1) rotate(-90)" style="font-size:27.0px">F25( x<tspan dy="9" style="font-size:21px">1</tspan><tspan dy="-9"> , x</tspan><tspan dy="9" style="font-size:21px">2</tspan><tspan dy="-9"> )</tspan></text>
<text transform="translate(1284.0 29.0) scale(0.927 1)" text-anchor="middle" style="font-size:25.8px;font-weight:bold;fill:#000">Parameter space</text></g>
<g id="F26"><path class="g3" d="M103.3 1139.8L103.3 892.8M460.7 1165.1L460.7 918.1M267.2 1253.3L103.3 1139.8M246.2 1251.8L460.7 1165.1M151.0 1120.5L151.0 873.5M424.3 1139.9L424.3 892.9M314.9 1234.0L151.0 1120.5M209.8 1226.6L424.3 1139.9M198.7 1101.2L198.7 854.2M387.9 1114.7L387.9 867.7M362.6 1214.8L198.7 1101.2M173.4 1201.3L387.9 1114.7M246.3 1082.0L246.3 835.0M351.4 1089.4L351.4 842.4M410.2 1195.5L246.3 1082.0M136.9 1176.1L351.4 1089.4M294.0 1062.7L294.0 815.7M315.0 1064.2L315.0 817.2M457.9 1176.2L294.0 1062.7M100.5 1150.9L315.0 1064.2M91.4 1144.6L305.9 1057.9M305.9 1057.9L469.8 1171.4M91.4 1076.7L305.9 990.0M305.9 990.0L469.8 1103.5M91.4 1008.8L305.9 922.1M305.9 922.1L469.8 1035.6M91.4 940.9L305.9 854.2M305.9 854.2L469.8 967.7M305.9 1057.9L305.9 810.9M469.8 1171.4L469.8 924.4"/>
<path class="g3" d="M91.4 1144.6L305.9 1057.9L469.8 1171.4"/>
<g class="ct" transform="scale(.5)"><path class="k7" d="M579 2488 577 2487 574 2486 571 2485 569 2484 566 2483 563 2482 560 2480 558 2479 555 2478 552 2477 549 2476 546 2475 543 2474 541 2473 538 2472 535 2470 532 2469 529 2468 526 2467 523 2466 520 2465 517 2464 514 2463 511 2462 508 2461 505 2460 501 2459 498 2458 495 2457 492 2457 489 2455 485 2455 482 2454 479 2453 475 2452 472 2451 468 2450 465 2449 461 2449 458 2448 454 2447 450 2446 447 2446 442 2445 439 2444 436 2444 430 2443 426 2442 422 2442 418 2441 415 2441 410 2441 405 2440 400 2440"/>
<path class="k7" d="M833 2269 832 2271 832 2274 832 2277 831 2281 832 2285 832 2289 832 2292 833 2296 834 2299 835 2302 836 2306 838 2310 839 2314 841 2318 843 2321 844 2324 846 2327 848 2330 850 2334 851 2336 853 2339 855 2341 857 2345 860 2348 861 2350 862 2352 864 2353 865 2355 866 2357 868 2358 869 2360 870 2362 872 2363 873 2365 875 2367 876 2368"/>
<path class="k7" d="M546 2142 549 2144 551 2145 554 2146 557 2147 559 2148 562 2149 565 2150 568 2152 570 2153 573 2154 576 2155 579 2156 582 2157 584 2158 587 2159 590 2160 593 2161 596 2163 599 2164 602 2165 605 2166 608 2167 610 2168 614 2169 617 2170 620 2171 623 2172 626 2173 629 2174 633 2175 636 2176 639 2177 642 2178 646 2178 649 2179 652 2180 656 2181 659 2182 663 2183 667 2184 670 2184 674 2185 678 2186 681 2187 685 2187 689 2188 693 2188 696 2189 701 2190 706 2190 710 2191 715 2191 719 2191 721 2191"/>
<path class="k7" d="M291 2364 292 2362 292 2359 293 2357 293 2354 293 2350 293 2346 293 2342 292 2339 292 2335 291 2332 290 2329 289 2325 288 2321 286 2317 284 2313 283 2310 281 2308 280 2304 278 2300 276 2298 274 2295 273 2293 271 2290 269 2287 267 2284 265 2282 263 2279 262 2277 261 2276 260 2274 258 2272 257 2270 256 2269 254 2267 253 2265 252 2264 250 2262"/>
<path class="k14" d="M560 2496 558 2495 555 2494 552 2493 549 2492 546 2491 543 2489 541 2488 538 2487 535 2486 532 2485 529 2484 527 2483 523 2482 520 2481 518 2480 514 2479 511 2478 508 2477 505 2476 502 2475 499 2474 496 2473 493 2472 489 2471 486 2470 483 2469 480 2468 476 2467 473 2466 470 2465 466 2464 463 2464 459 2463 456 2462 452 2461 449 2460 446 2460 441 2459 438 2458 434 2458 430 2457 426 2456 423 2456"/>
<path class="k14" d="M856 2285 856 2288 857 2291 858 2295 858 2298 859 2301 861 2305 862 2309 864 2313 865 2317 867 2320 869 2323 870 2326 872 2330 874 2333 875 2335 877 2338 879 2340 881 2343 882 2346 885 2349 886 2351 888 2353 889 2354 890 2356 891 2358 893 2359 894 2361"/>
<path class="k14" d="M564 2135 567 2136 570 2137 573 2138 576 2139 578 2141 581 2142 584 2143 587 2144 590 2145 593 2146 595 2147 598 2148 601 2149 604 2150 607 2151 610 2152 613 2153 616 2154 619 2155 622 2156 625 2157 628 2158 632 2159 635 2160 638 2161 640 2162 644 2163 648 2164 651 2165 654 2166 658 2167 661 2168 665 2169 668 2169 672 2170 674 2171 679 2172 682 2173 686 2173 690 2174 694 2175 698 2175 698 2175"/>
<path class="k14" d="M269 2349 268 2346 268 2342 267 2339 267 2336 266 2332 265 2328 264 2326 263 2322 261 2318 259 2314 258 2312 257 2309 255 2305 254 2303 252 2300 250 2296 248 2293 246 2291 244 2288 243 2285 240 2282 239 2280 236 2277 235 2275 234 2273 233 2271 231 2270"/>
<path class="k21" d="M548 2501 545 2500 542 2499 540 2498 537 2497 534 2496 531 2494 528 2493 525 2492 522 2491 519 2490 516 2489 513 2488 510 2487 507 2486 504 2485 501 2484 498 2483 496 2482 492 2481 489 2480 485 2479 482 2478 479 2477 476 2476 473 2476 469 2475 466 2474 462 2473 460 2472 456 2471 453 2470 449 2469 445 2469 441 2468 440 2468"/>
<path class="k21" d="M874 2297 874 2300 876 2304 877 2307 879 2311 880 2315 882 2319 883 2321 885 2324 887 2328 889 2331 890 2334 892 2336 893 2339 895 2341 897 2344 899 2347 901 2350 903 2353 904 2355 906 2356"/>
<path class="k21" d="M251 2337 251 2334 249 2330 248 2326 247 2322 245 2318 243 2314 242 2310 240 2307 238 2304 237 2301 235 2297 233 2294 231 2292 229 2289 228 2287 226 2284 224 2281 222 2278 219 2274"/>
<path class="k21" d="M576 2130 579 2131 582 2132 585 2133 588 2135 591 2136 593 2137 596 2138 599 2139 602 2140 605 2141 608 2142 611 2143 614 2144 617 2145 620 2146 623 2147 626 2148 629 2149 632 2150 635 2151 639 2152 642 2153 645 2154 648 2155 651 2156 655 2157 658 2158 661 2158 665 2160 667 2160 672 2161 675 2162 679 2163 680 2163"/>
<path class="k28" d="M539 2505 536 2504 533 2503 530 2501 527 2500 525 2499 522 2498 519 2497 516 2496 513 2495 510 2494 507 2493 504 2492 501 2491 498 2490 494 2489 491 2488 488 2487 485 2486 482 2485 479 2484 476 2483 472 2482 469 2481 466 2480 462 2480 459 2479 455 2478 455 2478"/>
<path class="k28" d="M889 2307 890 2311 892 2315 894 2319 895 2322 897 2325 898 2328 900 2332 902 2335 904 2337 905 2340 907 2342 909 2345 911 2348 913 2351 914 2353"/>
<path class="k28" d="M237 2326 236 2324 234 2320 233 2316 232 2314 230 2311 228 2307 226 2303 225 2300 223 2298 222 2296 220 2292 218 2290 216 2287 215 2285 213 2282 211 2279 210 2278"/>
<path class="k28" d="M585 2127 588 2128 591 2129 594 2130 597 2131 600 2132 603 2133 605 2134 608 2135 611 2136 614 2137 617 2138 620 2139 623 2140 626 2141 630 2142 633 2143 636 2144 639 2145 642 2146 645 2147 648 2148 651 2149 655 2150 658 2151 662 2152 665 2153 665 2153"/>
<path class="k35" d="M532 2508 529 2507 526 2506 523 2504 520 2503 517 2502 514 2501 511 2500 508 2499 505 2498 502 2497 499 2496 496 2495 493 2494 490 2493 487 2492 483 2491 480 2490 477 2489 474 2488 471 2487 468 2487"/>
<path class="k35" d="M902 2317 903 2319 905 2323 906 2326 908 2329 910 2332 912 2335 913 2338 915 2341 917 2343 919 2346 920 2348 922 2350"/>
<path class="k35" d="M224 2318 222 2314 220 2310 218 2306 217 2304 215 2301 213 2297 212 2294 210 2292 208 2289 207 2286 205 2284 203 2281"/>
<path class="k35" d="M593 2124 595 2125 598 2126 601 2127 603 2128 607 2129 610 2130 612 2131 616 2132 619 2133 622 2134 625 2135 628 2136 631 2137 634 2138 637 2139 640 2140 644 2141 647 2142 650 2143 652 2144"/>
<path class="k42" d="M525 2510 523 2509 520 2508 517 2507 514 2506 511 2505 508 2504 505 2503 502 2502 499 2501 496 2500 493 2499 489 2498 486 2497 483 2496 480 2495 480 2495"/>
<path class="k42" d="M914 2325 915 2328 917 2332 919 2335 921 2337 922 2340 924 2342 926 2345 928 2348"/>
<path class="k42" d="M212 2309 211 2307 210 2305 208 2302 206 2298 204 2295 203 2292 201 2290 199 2287 198 2285 197 2284"/>
<path class="k42" d="M599 2121 601 2122 604 2123 607 2124 610 2125 613 2126 616 2127 619 2129 622 2130 625 2131 628 2132 631 2133 634 2134 638 2135 640 2135"/>
<path class="k49" d="M520 2512 517 2511 514 2510 511 2509 508 2508 505 2507 502 2506 499 2505 496 2504 493 2503 490 2502"/>
<path class="k49" d="M925 2332 926 2335 928 2338 929 2340 931 2343 933 2346"/>
<path class="k49" d="M201 2302 199 2298 197 2295 196 2292 194 2289 192 2287 191 2286"/>
<path class="k49" d="M604 2119 607 2120 610 2121 612 2122 616 2123 619 2124 622 2125 625 2126 628 2127 629 2128"/>
<path class="k56" d="M515 2514 512 2513 509 2512 506 2511 503 2510 500 2509"/>
<path class="k56" d="M935 2340 936 2342 938 2344"/>
<path class="k56" d="M191 2295 190 2293 188 2290 187 2288"/>
<path class="k56" d="M609 2117 612 2118 614 2119 617 2120 619 2121"/></g>
<g class="sf" transform="scale(.5)"><path class="h0" d="M626 2463l-17-2-29-14-44-17-31-10-31-8-28-5-22-2-29 0-26 4-11-1-8-3-10-7-15-18-18-32-14-32-15-44-13-44-10-13-12-20-6-15-8-27-13-57-13-81-9-81-11-118 1-5 23 144 24 131 22 97 8 25 7 20 8 5 8 3 15 1 12-2 35-12 86-34 34-14 13-7 2-2 17-78 12-64 1 4 3 40 6 67 9-11 9-17 9-20 8-25 8-30 10-46 14-90 14-126 11-127 1 1 6 42 16 95 23 122 19 84 22 83 23 70 12 29 10 20 8 13 11 15 11 11 9 6 8 3 12 0 10-4 10-8 10-10 10-15 19-36 16-41 11-32 14-48 18-75 18-83-6 86-8 76-8 69-9 66-9 48-12 50-11 35-11 25-11 18-9 11-11 10-17 12-31 14-111 44-27 10z"/>
<path class="h1" d="M624 2463l-10-1-7-2-27-13-44-17-31-10-31-8-28-5-22-2-29 0-20 2 12-7 11-11 9-13 17-30 17-41 18-55 20-76 19-86 12-64 1 4 3 40 6 67 9-11 9-17 9-20 8-25 8-30 10-46 14-90 14-126 11-127 1 1 17 110 18 99 17 81 22 93 16 57 19 56 12 29 10 20 12 19-24 3-35 2-26-2-24-4-25-6-32-11-40-16-27-13 9 80 11 70 9 46 13 47 11 24 9 15 3 3 31 13zM326 2380l-4-4-10-18-19-42-15-44-13-44-14-19-12-23-9-28-7-26-12-66-11-78-10-94-6-83 19 121 20 114 22 101 8 36 8 25 7 20 2 2 11 5 13 2 29 33 16 24 7 13 5 15 0 18-2 10-8 14zM836 2377l-27-29-14-18-9-14-7-15-3-9-1-9 1-14 2-6 7-13 13-13 5 0 13-6 7-6 10-10 18-28 15-33 12-31 11-32 14-48 18-75 18-83-6 86-11 107-11 86-12 66-13 55-14 40-7 15-11 18-9 11z"/>
<path class="h2" d="M598 2455l-34-14-28-11-31-10-31-8-28-5-22-2-34 0-14 1 11-6 11-11 13-18 16-33 18-44 19-63 15-57 19-86 12-64 1 4 3 40 6 67 9-11 9-17 9-20 8-25 8-30 10-46 14-90 14-126 11-127 1 1 17 110 15 85 16 77 16 71 16 65 22 70 16 41 16 31-2 1-9 0-36 0-30-3-26-5-27-8-38-13-58-26 7 69 8 61 8 48 8 39 9 33 12 32 10 18 6 7zM317 2366l-1 0-9-18-18-42-11-34-13-44-14-19-12-23-9-28-7-26-12-66-11-78-10-94-6-83 19 121 17 96 20 98 18 74 10 28 4 3 8 4 27 33 14 20 5 11 5 16 2 17-2 11-6 12zM849 2364l-10-10-16-18-18-28-6-10-4-14-2-7 0-13 5-16 7-10 3-3 8-4 7-6 10-10 10-15 16-29 12-30 18-50 16-58 20-79 14-69-6 86-11 107-11 86-10 59-12 50-11 37-13 30z"/>
<path class="h3" d="M740 2182l-29 0-23-2-22-3-29-7-25-7-28-10-32-14-26-12 7-10 9-19 13-36 11-41 10-50 9-60 10-75 10-102 7-91 1 1 17 110 15 85 16 77 16 71 16 65 13 42 16 46zM310 2354l-9-20-15-38-13-41-8-27-14-19-12-23-9-28-7-26-12-66-11-78-10-94-6-83 13 85 19 111 21 104 16 72 8 25 7 20 13 14 21 28 11 21 6 18 2 9-1 13-3 12zM857 2353l-9-9-15-19-17-25-6-13-3-10-2-12 0-13 2-8 6-11 6-4 10-9 8-10 10-17 15-29 16-41 17-54 14-51 16-64 14-69-6 86-10 95-8 66-11 73-9 43-11 44-12 33-7 15zM598 2455l-26-11-34-13-25-9-37-10-43-7-17-2-33 0 4-3 11-11 15-21 14-30 18-44 19-63 15-57 19-86 12-65 8 91 10 95 10 74 9 53 10 40 13 40 6 12 7 12 6 7z"/>
<path class="h4" d="M734 2170l-19 0-28-3-29-5-19-5-23-6-32-12-28-11-23-11 14-30 12-37 10-41 11-62 11-77 7-66 14-161 1 1 6 42 22 132 17 85 16 73 13 51 16 57 15 46zM305 2342l-2-2-6-14-11-30-13-41-8-27-14-19-12-23-9-28-7-26-12-66-11-78-10-94-6-83 27 167 20 108 14 61 13 53 10 28 3 6 14 18 12 17 7 14 5 15 2 10 0 16-2 10zM863 2343l-24-29-17-28-7-20-2-9 1-14 5-14 14-14 18-28 15-33 12-31 17-54 14-51 16-64 14-69-4 63-10 99-8 69-9 66-9 48-12 50-11 35-7 17zM592 2451l-26-12-37-14-51-15-30-6-20-3-15-1-26 0 14-14 15-24 15-33 20-53 17-60 14-56 16-72 12-65 8 91 9 84 9 72 10 59 11 47 10 33 12 24z"/>
<path class="h5" d="M729 2159l-13 0-26-3-26-5-25-6-54-18-37-15-10-5 11-25 12-42 10-41 9-52 11-77 7-66 14-161 1 1 6 42 22 132 17 85 12 55 17 69 12 43 16 52 14 35zM300 2331l-11-25-11-34-13-44-10-13-12-20-11-31-9-32-12-66-11-78-10-94-6-83 27 167 12 68 18 86 12 51 12 39 6 14 11 14 9 14 10 24 3 11 1 14-2 11zM868 2333l-4-4-16-20-11-17-8-14-8-22 0-20 2-11 14-15 14-23 15-33 12-31 17-54 14-51 16-64 14-69-4 63-10 99-8 69-9 66-9 48-10 43-11 37zM587 2445l-57-22-47-15-41-9-29-3-21-1 6-6 9-13 17-30 13-30 14-40 17-60 14-56 16-72 12-65 8 91 9 84 7 58 9 55 7 37 11 42 12 32 8 14z"/>
<path class="h6" d="M725 2148l-15-1-26-3-42-9-50-16-50-21 13-36 8-30 10-46 10-56 8-60 7-66 14-161 1 1 6 42 22 132 17 85 12 55 17 69 12 43 16 52zM296 2320l-1 0-6-14-11-34-13-44-14-19-8-14-6-15-8-27-8-33-10-54-11-78-10-94-6-83 27 167 12 68 17 80 13 57 10 33 10 22 12 18 10 22 4 20-1 14zM872 2323l-8-9-16-21-15-26-4-11-2-12 0-18 2-7 4-4 10-15 16-29 12-30 18-50 14-48 12-49 14-58 10-51-4 63-10 99-14 117-8 48-10 45-9 35zM583 2440l-49-20-51-16-43-9-43-5 14-19 13-25 17-41 13-40 14-49 14-56 16-72 12-65 8 91 9 84 7 58 9 55 7 37 11 42 9 26z"/>
<path class="h7" d="M721 2137l-13 0-24-4-42-9-54-18-42-18 11-33 9-34 7-35 10-56 8-60 7-66 14-161 1 1 6 42 16 95 13 72 17 81 12 53 16 65 13 42zM292 2309l-3-3-11-34-13-44-17-24-11-24-8-27-8-33-10-54-11-78-10-94-6-83 27 167 26 133 12 56 12 41 9 25 15 26 6 16 2 13 0 14zM876 2314l-19-24-10-15-8-14-4-12-3-11 0-22 15-23 15-29 13-34 14-39 14-48 12-49 14-58 10-51-4 63-10 99-14 117-8 48-10 45-9 35zM579 2434l-41-17-50-16-40-10-27-4-20-1 12-18 14-30 14-33 16-49 14-52 15-61 12-55 12-65 8 91 9 84 7 58 9 55 7 37 11 42 9 26z"/>
<path class="h8" d="M717 2127l-39-5-41-10-46-15-42-18 8-24 9-34 7-35 10-56 8-60 7-66 14-161 1 1 6 42 16 95 13 72 17 81 24 103 14 47zM288 2300l-15-45-8-30-18-23-10-22-8-27-8-33-10-54-11-78-10-94-6-83 27 167 26 133 12 56 12 41 9 25 11 21 6 16 2 10 0 16zM879 2305l-20-26-14-23-8-22-1-7 0-16 15-24 11-23 13-34 14-39 14-48 12-49 14-58 10-51-2 39-8 83-14 125-7 50-9 48-10 43zM575 2427l-38-15-53-17-49-11-31-4 12-18 15-33 14-35 14-44 12-46 15-61 12-55 12-65 14 151 14 109 9 53 10 40 8 28z"/>
<path class="h9" d="M713 2117l-31-4-44-11-44-15-42-17 7-20 10-41 7-38 9-60 14-113 13-155 1 1 6 42 16 95 26 135 26 111 16 57 10 31zM284 2289l-11-34-9-32-9-14-12-14-6-15-8-27-11-46-10-59-9-71-10-98-5-68 23 144 24 131 16 70 11 44 7 22 12 24 5 14 3 14 0 14zM882 2296l-5-5-12-16-16-28-8-21-1-8 0-14 11-17 11-23 13-34 14-39 14-48 12-49 14-58 10-51-2 39-8 83-14 125-7 50-9 48-10 43zM572 2421l-36-14-53-18-37-8-38-6 8-13 15-33 14-35 14-44 12-46 15-61 12-55 12-65 14 151 14 109 14 74 9 33z"/>
<path class="h10" d="M710 2107l-25-4-43-10-41-13-46-18 8-30 10-46 14-90 14-126 11-127 1 1 6 42 16 95 26 135 26 111 12 43 11 35zM280 2279l-11-35-6-24-9-14-13-18-4-8-8-27-11-46-10-59-9-71-10-98-5-68 23 144 24 131 14 61 10 43 8 26 15 36 3 19zM885 2287l-16-19-10-17-7-13-7-21-2-18 8-12 15-33 12-31 13-41 24-88 14-58 10-51-2 39-8 83-14 125-14 91-8 34zM570 2415l-39-16-43-14-31-8-46-7 13-24 13-30 22-66 12-46 15-61 12-55 12-65 14 151 14 109 14 74 9 33z"/>
<path class="h11" d="M706 2097l-26-4-43-11-40-13-39-16 15-67 14-90 14-126 11-127 1 1 6 42 16 95 23 122 19 84 12 50 17 55zM278 2268l-1 0-4-13-10-37-10-17-16-21-8-27-11-46-10-59-9-71-10-98-5-68 23 144 24 131 14 61 10 43 8 26 12 31 2 10zM887 2279l-20-28-12-22-6-17-2-18 12-23 12-30 24-72 24-89 20-95-2 39-8 83-14 125-14 91-8 34zM567 2408l-47-18-38-12-36-9-32-5 10-18 13-30 14-40 13-45 22-88 12-55 12-65 11 125 15 122 14 78 7 28z"/>
<path class="h12" d="M704 2087l-30-5-34-9-40-13-40-16 6-23 7-35 14-90 14-126 11-127 1 1 6 42 16 95 23 122 19 84 12 50zM274 2259l-13-46-15-25-11-14-6-21-11-46-10-59-9-71-10-98-5-68 23 144 24 131 22 97 8 25 12 34 2 12zM890 2270l-19-24-12-23-8-21-1-14 9-17 12-30 24-72 24-89 20-95-8 108-14 123-13 89-7 37zM564 2401l-35-14-41-13-33-9-28-5-9-1-1-1 10-20 14-33 10-29 13-45 22-88 12-55 12-65 11 125 14 112 12 76 10 40z"/>
<path class="h13" d="M700 2077l-28-5-42-11-37-13-30-12 13-65 15-101 10-100 11-127 1 1 6 42 16 95 23 122 19 84 14 57 10 31zM271 2248l-11-40-11-19-16-21-4-15-11-46-10-59-9-71-10-98-5-68 19 121 21 117 25 118 9 33 11 32 2 11zM892 2261l-12-15-17-27-8-21-2-16 9-18 9-23 24-72 24-89 20-95-8 108-14 123-13 89-7 37zM562 2395l-39-16-33-10-35-10-35-6 7-15 14-33 10-29 13-45 22-88 12-55 12-65 11 125 13 108 13 80 10 40z"/>
<path class="h14" d="M698 2067l-26-4-38-10-34-12-35-14 8-41 7-39 11-77 10-100 11-127 1 1 6 42 16 95 23 122 19 84zM268 2239l-9-34-10-19-18-24-13-55-10-59-9-71-10-98-5-68 19 121 20 114 24 110 11 44 9 25 2 11zM894 2253l-19-25-10-18-7-20-2-9 0-5 10-22 12-31 21-68 22-87 18-83-8 108-12 107-12 90-8 40zM560 2387l-39-14-33-11-30-8-35-7 8-18 14-35 12-38 11-40 23-97 19-96 11 119 11 99 14 88 6 28 8 29z"/>
<path class="h15" d="M695 2058l-27-5-32-9-41-14-29-12 10-47 15-101 10-100 11-127 1 1 6 42 16 95 23 122 19 84zM258 2200l-13-24-16-23-11-46-10-59-9-71-10-98-5-68 19 121 17 96 20 98 13 57 5 15zM896 2245l-17-24-13-23-5-15-2-13 7-16 12-31 21-68 22-87 18-83-8 108-12 107-11 82-7 41zM558 2381l-24-10-43-14-41-11-24-4 19-48 12-38 11-40 23-97 19-96 11 119 11 99 12 77 8 39 6 21zM265 2227l-6-23 0-2 6 18z"/>
<path class="h16" d="M692 2048l-24-5-34-9-30-10-36-14 5-24 7-39 11-77 10-100 11-127 1 1 17 110 18 99 22 105zM256 2195l-12-24-17-23-9-41-10-59-9-71-10-98-5-68 19 121 17 96 20 98 9 41 8 26zM898 2236l-10-12-13-20-10-24-3-9-1-7 17-41 11-32 14-48 18-75 18-83-6 86-11 107-11 86zM556 2374l-30-12-34-11-26-8-37-7 12-31 10-29 20-72 20-85 19-96 11 119 11 99 12 77zM262 2217l-3-13 0-2 4 12z"/>
<path class="h17" d="M690 2039l-15-3-42-11-35-12-28-11 13-72 11-88 11-108 7-91 1 1 17 110 18 99 22 105zM254 2188l-9-20-20-28-7-33-10-59-9-71-10-98-5-68 19 121 17 96 17 83 12 56 6 19zM899 2227l-10-13-13-21-9-19-3-12 0-4 14-35 11-32 14-48 18-75 18-83-6 86-11 107-11 86-8 48-3 14zM554 2367l-35-14-31-10-29-8-28-5 10-25 10-29 20-72 20-85 19-96 11 119 11 99 11 70z"/>
<path class="h18" d="M687 2029l-51-12-39-14-26-10 5-22 7-41 11-88 11-108 7-91 1 1 17 110 18 99 17 81 12 53 10 41zM253 2183l-10-22-19-27-8-38-8-48-9-71-10-98-5-68 13 85 19 111 21 104zM901 2219l-13-17-11-18-6-15-5-16 13-34 12-37 12-39 18-75 18-83-6 86-11 107-11 86zM552 2360l-28-11-32-11-40-11-19-3 18-48 20-72 20-85 19-96 8 91 10 95 10 74 8 46 7 29z"/>
<path class="h19" d="M685 2020l-21-5-33-9-45-16-13-6 10-54 11-88 11-108 7-91 1 1 17 110 18 99 17 81zM251 2175l-11-23-18-26-6-30-8-48-9-71-10-98-5-68 13 85 19 111 15 79 20 87zM902 2211l-15-21-7-13-7-16-4-15 9-23 11-32 14-48 18-75 18-83-6 86-11 107-11 86zM551 2353l-60-22-37-10-18-3 18-53 17-61 20-85 19-96 8 91 10 95 10 74z"/>
<path class="h20" d="M682 2011l-25-6-29-9-53-20 10-65 10-75 10-102 7-91 1 1 17 110 18 99 17 81 18 75zM250 2170l-3-7-8-16-18-28-5-23-8-48-9-71-10-98-5-68 13 85 19 111 15 79 18 78zM904 2202l-7-9-13-20-9-18-4-12 0-3 18-49 16-58 20-79 14-69-6 86-11 107-11 86-6 37zM550 2346l-18-7-44-15-37-10-12-2-1-1 16-46 17-61 20-85 19-96 8 91 10 95 10 74z"/>
<path class="h21" d="M680 2001l-50-13-32-11-22-9 9-57 10-75 10-102 7-91 1 1 17 110 18 99 17 81zM248 2164l-3-10-7-14-19-28-3-16-8-48-9-71-10-98-5-68 13 85 19 111 15 79 18 76zM905 2194l-20-31-8-17-4-12 16-43 16-58 20-79 14-69-6 86-10 95-8 66-7 50-2 11zM548 2339l-54-20-53-14 18-55 20-76 19-86 12-65 8 91 10 95 10 74 10 53z"/>
<path class="h22" d="M678 1992l-47-13-29-10-25-9 8-49 10-75 10-102 7-91 1 1 17 110 15 85 16 77zM246 2155l-9-21-18-28-3-10-8-48-9-71-10-98-5-68 13 85 19 111 15 79 16 67zM907 2186l-12-17-9-15-9-19-1-8 15-45 18-64 16-64 14-69-4 63-10 99-10 85zM546 2331l-56-20-47-12 16-49 20-76 19-86 12-65 8 91 9 84 9 72z"/>
<path class="h23" d="M676 1983l-40-11-28-9-29-11 12-82 7-66 14-161 1 1 17 110 15 85 16 77zM244 2147l-10-23-17-26-2-9-8-50-8-62-10-98-5-68 27 167 20 108 14 58zM908 2177l-6-7-14-23-8-17-2-8 13-40 18-64 16-64 14-69-4 63-10 99-8 69zM545 2325l-23-10-32-10-45-12 14-43 20-76 19-86 12-65 8 91 9 84 9 72 9 52z"/>
<path class="h24" d="M674 1973l-40-10-24-8-30-12 7-47 10-79 8-83 7-91 1 1 6 42 22 132 17 85zM243 2141l-6-15-6-11-16-26-8-50-8-62-10-98-5-68 27 167 12 68 14 65 6 27zM910 2169l-6-7-13-20-8-18-3-8 15-47 14-51 16-64 14-69-4 63-10 99-8 69zM544 2317l-42-15-55-16 12-36 20-76 19-86 12-65 8 91 9 84 7 58z"/>
<path class="h25" d="M671 1964l-41-11-49-18 10-65 7-66 14-161 1 1 6 42 22 132 17 85 13 59zM241 2132l-10-22-16-25-2-7-10-63-8-68-8-91-3-45 27 167 20 108 10 44zM910 2161l-16-25-7-12-5-14 13-41 14-51 16-64 14-69-4 63-10 99-10 85-4 28zM542 2310l-44-16-49-14 15-49 15-57 19-86 12-65 8 91 9 84 7 58z"/>
<path class="h26" d="M669 1955l-13-3-28-9-40-14-5-3 8-56 7-66 14-161 1 1 6 42 22 132zM239 2123l-9-20-17-25-1-4-9-59-8-68-8-91-3-45 27 167 20 108 8 34zM912 2153l-17-26-11-23 11-35 14-51 16-64 14-69-4 63-10 99-8 69zM541 2303l-49-18-41-11 13-43 15-57 19-86 12-65 14 151 8 67 9 59z"/>
<path class="h27" d="M667 1946l-33-9-30-10-20-9 7-48 7-66 14-161 1 1 6 42 22 132 17 85 9 41zM238 2116l-9-19-18-28 0-3-8-51-8-68-8-91-3-45 27 167zM913 2145l-17-26-9-18 0-5 12-41 16-61 14-58 10-51-4 63-10 99-8 69zM540 2295l-41-14-46-13 11-37 18-71 16-72 12-65 14 151 8 67 8 51z"/>
<path class="h28" d="M665 1937l-31-9-49-18 14-112 13-155 1 1 6 42 16 95zM236 2107l-9-19-17-27-7-46-8-68-8-91-3-45 23 144 16 91 13 59zM914 2137l-17-26-8-18 0-4 10-34 16-61 14-58 10-51-2 39-8 83-7 71zM539 2289l-22-9-28-9-34-10 13-45 14-56 16-72 12-65 14 151 8 67z"/>
<path class="h29" d="M663 1927l-23-6-54-19 5-32 8-72 13-155 1 1 6 42 16 95zM234 2098l-9-18-16-25 0-3-9-64-6-54-7-78-3-45 23 144 16 91 11 50zM915 2128l-16-24-7-14-1-7 12-40 12-49 14-58 10-51-2 39-8 83-10 93-3 26zM538 2281l-46-16-35-10 11-39 14-56 16-72 12-65 14 151z"/>
<path class="h30" d="M661 1919l-46-14-28-11 7-52 7-72 11-127 1 1 6 42 16 95 13 72 13 63zM232 2089l-9-19-14-22-2-4-13-110-7-78-3-45 23 144 16 91 9 40zM916 2121l-13-20-11-23 11-35 12-49 14-58 10-51-2 39-8 83-7 71zM536 2274l-42-15-35-11 12-44 15-61 12-55 12-65 11 125 11 93 5 29z"/>
<path class="h31" d="M659 1909l-20-5-28-9-22-9 12-116 11-127 1 1 6 42 16 95 13 72 11 53zM230 2079l-7-13-16-27-13-105-7-78-3-45 23 144 13 73 10 48zM917 2112l-16-26-7-14 9-29 12-49 14-58 10-51-2 39-8 83-7 71-4 33zM536 2267l-43-16-32-9 10-38 15-61 12-55 12-65 11 125z"/>
<path class="h32" d="M658 1901l-44-14-25-9 12-108 11-127 1 1 6 42 16 95zM228 2072l-8-18-14-21-1-3-13-116-8-103 19 121 17 96 9 42zM918 2104l-12-18-10-21 19-71 14-58 10-51-8 108-8 73zM534 2259l-40-14-31-9 23-93 12-55 12-65 11 125z"/>
<path class="h33" d="M656 1891l-32-9-33-12 10-100 11-127 1 1 6 42 16 95zM226 2063l-6-14-15-25-13-110-8-103 19 121 17 96 7 32zM919 2095l-13-19-7-14-1-4 7-25 14-53 20-95-8 108-9 85-2 16zM534 2252l-46-16-24-7 7-25 15-61 12-55 12-65 11 125z"/>
<path class="h34" d="M654 1883l-33-10-30-11 10-92 11-127 1 1 3 26 17 100 15 83 6 27zM225 2055l-11-22-10-15-1-3-13-121-6-83 19 121zM920 2088l-13-21-7-13 0-4 5-17 14-53 20-95-8 108zM532 2245l-15-6-51-17 20-79 12-55 12-65 11 119z"/>
<path class="h35" d="M652 1873l-26-7-33-12 12-120 7-91 1 1 17 110 15 85 7 31zM223 2045l-8-15-12-20-13-116-6-83 19 121 13 75 7 35zM921 2079l-12-17-8-16 8-28 12-50 18-83-8 108-9 85zM532 2237l-38-13-26-8 23-97 19-96 11 119z"/>
<path class="h36" d="M650 1865l-26-8-31-12 12-111 7-91 1 1 3 26 17 100zM222 2037l-10-19-10-14-12-110-6-83 19 121zM922 2072l-11-18-8-14 0-2 18-70 18-83-6 86zM530 2230l-15-6-46-14 10-36 12-55 19-96 11 119 10 84z"/>
<path class="h37" d="M648 1856l-27-9-27-10 7-67 11-127 1 1 17 110 18 96zM220 2028l-9-18-9-12-1-4-11-100-6-83 13 85 14 82 9 47zM923 2063l-14-22-4-7 0-3 16-63 18-83-6 86zM530 2223l-22-8-37-12 20-84 19-96 11 119z"/>
<path class="h38" d="M647 1847l-29-9-23-9 10-95 7-91 1 1 17 110zM218 2018l-7-12-11-18-10-94-6-83 19 121 15 82zM924 2055l-11-17-6-12 14-58 18-83-6 86-8 76zM529 2215l-56-19 18-77 19-96 11 119z"/>
<path class="h39" d="M645 1838l-29-9-20-8 9-87 7-91 1 1 3 26 17 100 12 66zM216 2010l-6-12-10-16-1-5-10-98-5-68 13 85 19 108zM925 2047l-14-21-2-5 0-3 16-64 14-69-6 86zM528 2208l-53-18 16-71 19-96 8 91 10 90z"/>
<path class="h40" d="M643 1829l-30-10-16-6 8-79 7-91 1 1 17 110 13 71zM215 2002l-7-14-9-14-1-3-9-92-5-68 13 85zM926 2039l-11-15-5-11 15-59 14-69-6 86zM527 2201l-51-18 15-64 19-96 8 91z"/>
<path class="h41" d="M642 1820l-22-7-23-8 8-71 7-91 1 1 6 42zM213 1992l-16-27-8-86-5-68 19 121 10 57zM926 2031l-11-18-3-5 0-3 13-51 14-69-6 86zM526 2193l-21-8-27-8 20-89 12-65 8 91z"/>
<path class="h42" d="M640 1811l-41-14 13-154 1 1 6 42zM212 1984l-15-25-10-103-3-45 13 85 15 86zM927 2023l-10-16-4-7 12-46 14-69-6 86-5 49zM525 2186l-9-4-37-12 16-70 15-77 11 119 4 38z"/>
<path class="h43" d="M638 1803l-39-14 13-146 1 1 17 110 9 46zM210 1976l-3-8-11-16-9-96-3-45zM928 2015l-12-19-1-5 10-37 14-69-6 86-4 43zM524 2179l-9-4-34-11 14-64 15-77 8 91 7 60z"/>
<path class="h44" d="M637 1794l-37-13 12-138 1 1 6 42zM208 1966l-12-20-1-6-8-84-3-45 13 85 12 67zM929 2007l-11-17-1-4 12-50 10-51-2 39zM524 2171l-41-14 15-69 12-65z"/>
<path class="h45" d="M635 1785l-34-12 11-130 1 1 6 42 16 96zM207 1958l-7-13-5-7-1-4-7-78-3-45zM930 1999l-12-19 11-44 10-51-2 39zM523 2163l-39-13 14-62 12-65z"/>
<path class="h46" d="M634 1776l-23-7-10-5 4-30 7-91 1 1zM206 1949l-12-19-1-2-8-96-1-21zM930 1991l-10-16 0-3 9-36 10-51-2 39zM522 2156l-37-12 13-56 12-65z"/>
<path class="h47" d="M632 1767l-28-9-2-2 3-22 7-91 1 1 3 26zM204 1939l-11-18-8-89-1-21 13 85 7 40zM931 1983l-8-13-2-4 8-30 10-51-2 39zM521 2149l-34-12 23-114 11 119z"/>
<path class="h48" d="M631 1759l-28-10 9-106 1 1 6 42zM202 1931l-10-17-8-103 19 117zM932 1975l-9-15 6-24 10-51-2 39zM520 2141l-31-11 21-107 11 112z"/>
<path class="h49" d="M629 1750l-25-9 8-98 1 1 6 42 10 61zM201 1923l-10-16-7-96zM932 1967l-7-12 0-4 14-66-2 39zM520 2134l-30-10 20-101 10 105z"/>
<path class="h50" d="M628 1741l-23-8 7-90 1 1zM200 1914l-9-14-7-89zM933 1959l-6-9-1-5 13-60-2 39zM519 2127l-28-10 7-29 12-65 9 98z"/>
<path class="h51" d="M626 1732l-21-7 7-82 1 1zM198 1906l-8-14-6-81zM934 1951l-6-9-1-3 12-54-2 39zM518 2119l-25-9 17-87 9 91z"/>
<path class="h52" d="M625 1723l-19-6 6-74 1 1zM196 1896l-7-11-5-74 13 81zM934 1943l-5-10 10-48-2 39zM518 2111l-23-7 15-81z"/>
<path class="h53" d="M623 1715l-16-6 5-66 1 1 3 26 7 41zM195 1887l-6-9-5-67 11 73zM935 1935l-5-8 9-42-2 39zM517 2104l-21-7 14-74z"/>
<path class="h54" d="M622 1706l-15-5 5-58 1 1 9 59zM194 1879l-6-9-4-59 9 60zM936 1927l-5-7 8-35-2 39zM516 2097l-19-7 13-67 7 69z"/>
<path class="h55" d="M620 1697l-12-4 4-50 1 1zM192 1871l-5-9-3-51 9 56zM936 1919l-3-5 0-3 6-26-2 30zM516 2089l-17-6 11-60 6 61z"/>
<path class="h56" d="M619 1689l-10-4 3-42 1 1zM191 1862l-4-7-3-44 7 43zM937 1911l-2-3 0-3 4-20zM515 2082l-15-6 10-53 5 53z"/>
<path class="h57" d="M618 1680l-9-3 3-34 1 1zM190 1853l-4-5-2-37 6 39zM938 1903l-2-2 0-3 3-13zM514 2074l-13-4 9-47 5 46z"/>
<path class="h58" d="M616 1671l-6-2 2-26 1 1zM188 1845l-3-5-1-29 5 31zM938 1895l-1-3 2-7zM514 2067l-11-4 7-40 3 29z"/>
<path class="h59" d="M615 1663l-5-2 2-18 1 1zM187 1836l-2-4-1-21 3 22zM513 2059l-9-3 6-33 3 29z"/>
<path class="h60" d="M614 1654l-3-1 1-10zM186 1827l-2-3 0-13 2 13zM512 2052l-7-3 5-26 3 21z"/>
<path class="h61" d="M184 1819l-1-3 1-5zM512 2045l-5-3 3-19z"/>
<path class="h62" d="M512 2037l-4-1 2-13z"/>
<path class="h63" d="M511 2029l-2 0 1-6z"/></g>
<path class="ax" d="M91.4 897.6L91.4 1144.6L255.3 1258.1L469.8 1171.4M267.2 1253.3l4.1 2.8M246.2 1251.8l-4.6 1.9M314.9 1234.0l4.1 2.8M209.8 1226.6l-4.6 1.9M362.6 1214.8l4.1 2.8M173.4 1201.3l-4.6 1.9M410.2 1195.5l4.1 2.8M136.9 1176.1l-4.6 1.9M457.9 1176.2l4.1 2.8M100.5 1150.9l-4.6 1.9M91.4 1144.6l-4.6 1.9M91.4 1076.7l-4.6 1.9M91.4 1008.8l-4.6 1.9M91.4 940.9l-4.6 1.9"/>
<text transform="translate(279.7 1286.3) scale(0.850 1)" style="font-size:23.7px">-4</text>
<text transform="translate(231.8 1282.8) scale(0.850 1)" text-anchor="end" style="font-size:23.7px">-4</text>
<text transform="translate(327.4 1267.0) scale(0.850 1)" style="font-size:23.7px">-2</text>
<text transform="translate(195.4 1257.6) scale(0.850 1)" text-anchor="end" style="font-size:23.7px">-2</text>
<text transform="translate(375.1 1247.8) scale(0.850 1)" style="font-size:23.7px">0</text>
<text transform="translate(159.0 1232.3) scale(0.850 1)" text-anchor="end" style="font-size:23.7px">0</text>
<text transform="translate(422.7 1228.5) scale(0.850 1)" style="font-size:23.7px">2</text>
<text transform="translate(122.5 1207.1) scale(0.850 1)" text-anchor="end" style="font-size:23.7px">2</text>
<text transform="translate(470.4 1209.2) scale(0.850 1)" style="font-size:23.7px">4</text>
<text transform="translate(86.1 1181.9) scale(0.850 1)" text-anchor="end" style="font-size:23.7px">4</text>
<text transform="translate(78.1 1146.6) scale(0.850 1)" text-anchor="end" style="font-size:23.7px">0</text>
<text transform="translate(78.1 1078.7) scale(0.850 1)" text-anchor="end" style="font-size:23.7px">5</text>
<text transform="translate(78.1 1010.8) scale(0.850 1)" text-anchor="end" style="font-size:23.7px">10</text>
<text transform="translate(78.1 942.9) scale(0.850 1)" text-anchor="end" style="font-size:23.7px">15</text>
<text transform="translate(363.0 1307.3) scale(0.850 1)" style="font-size:23.7px">x<tspan dy="15" style="font-size:21px">1</tspan></text>
<text transform="translate(140.3 1301.8) scale(0.850 1)" style="font-size:23.7px">x<tspan dy="17" style="font-size:21px">2</tspan></text>
<text transform="translate(30.0 1103.5) scale(0.830 1) rotate(-90)" style="font-size:27.0px">F26( x<tspan dy="9" style="font-size:21px">1</tspan><tspan dy="-9"> , x</tspan><tspan dy="9" style="font-size:21px">2</tspan><tspan dy="-9"> )</tspan></text>
<text transform="translate(33.0 864.5) scale(0.850 1)" style="font-size:25.8px">&#215;10<tspan dy="-0.56em" style="font-size:0.75em">4</tspan></text>
<text transform="translate(280.5 800.0) scale(0.927 1)" text-anchor="middle" style="font-size:25.8px;font-weight:bold;fill:#000">Parameter space</text></g>
<g id="F28"><path class="g3" d="M1107.5 1145.3L1107.5 896.7M1469.8 1171.7L1469.8 923.1M1264.3 1258.1L1107.5 1145.3M1264.3 1258.1L1469.8 1171.7M1210.2 1102.1L1210.2 853.5M1391.4 1115.3L1391.4 866.7M1367.0 1214.9L1210.2 1102.1M1185.9 1201.7L1391.4 1115.3M1313.0 1058.9L1313.0 810.3M1313.0 1058.9L1313.0 810.3M1469.8 1171.7L1313.0 1058.9M1107.5 1145.3L1313.0 1058.9M1107.5 1145.3L1313.0 1058.9M1313.0 1058.9L1469.8 1171.7M1107.5 1021.0L1313.0 934.6M1313.0 934.6L1469.8 1047.4M1107.5 896.7L1313.0 810.3M1313.0 810.3L1469.8 923.1M1313.0 1058.9L1313.0 810.3M1469.8 1171.7L1469.8 923.1"/>
<path class="g3" d="M1107.5 1145.3L1313.0 1058.9L1469.8 1171.7"/>
<g class="ct" transform="scale(.5)"><path class="k6" d="M2714 2181 2714 2186 2714 2190 2714 2193 2713 2197 2713 2201 2713 2204 2712 2209 2712 2212 2712 2214 2711 2217 2711 2220 2711 2223 2710 2225 2710 2228 2710 2231 2709 2233 2709 2236 2709 2239 2708 2241 2708 2244 2707 2247 2707 2249 2707 2252 2706 2255 2706 2257 2705 2260 2705 2262 2704 2265 2704 2268 2704 2270 2703 2273 2703 2275 2702 2278 2702 2281 2701 2283 2701 2286 2700 2288 2700 2291 2699 2293 2699 2296 2698 2298 2697 2301 2697 2304 2696 2306 2696 2309 2695 2311 2695 2314 2694 2316 2693 2319 2693 2321 2692 2324 2692 2326 2691 2329 2690 2331 2690 2334 2689 2336 2689 2338 2688 2341 2687 2343 2687 2346 2686 2348 2685 2351 2685 2353 2684 2356 2683 2358 2683 2361 2682 2363 2681 2365 2680 2368 2680 2370 2679 2373 2678 2375 2678 2377 2677 2380 2676 2382 2675 2385 2675 2387 2674 2389 2673 2392 2672 2394 2671 2396 2671 2399 2670 2401 2669 2404 2668 2406 2667 2408 2667 2411 2666 2413 2665 2415 2664 2418 2663 2420 2662 2422 2662 2425 2661 2427 2660 2429 2659 2431 2658 2434 2657 2436 2656 2438 2656 2441 2655 2443 2654 2445 2653 2447 2652 2450 2651 2452 2650 2454 2649 2456 2648 2459 2647 2461 2646 2463 2645 2465 2644 2468"/>
<path class="k6" d="M2440 2453 2441 2448 2441 2444 2441 2441 2441 2437 2442 2433 2442 2430 2442 2425 2443 2422 2443 2420 2443 2417 2444 2414 2444 2411 2444 2409 2445 2406 2445 2403 2445 2401 2446 2398 2446 2395 2446 2393 2447 2390 2447 2387 2448 2385 2448 2382 2448 2379 2449 2377 2449 2374 2450 2372 2450 2369 2451 2366 2451 2364 2452 2361 2452 2359 2452 2356 2453 2353 2453 2351 2454 2348 2454 2346 2455 2343 2456 2341 2456 2338 2457 2336 2457 2333 2458 2330 2458 2328 2459 2325 2459 2323 2460 2320 2461 2318 2461 2315 2462 2313 2462 2310 2463 2308 2464 2305 2464 2303 2465 2300 2465 2298 2466 2296 2467 2293 2467 2291 2468 2288 2469 2286 2469 2283 2470 2281 2471 2278 2471 2276 2472 2273 2473 2271 2473 2269 2474 2266 2475 2264 2476 2261 2476 2259 2477 2257 2478 2254 2479 2252 2479 2249 2480 2247 2481 2245 2482 2242 2482 2240 2483 2238 2484 2235 2485 2233 2486 2230 2486 2228 2487 2226 2488 2223 2489 2221 2490 2219 2490 2216 2491 2214 2492 2212 2493 2209 2494 2207 2495 2205 2496 2203 2496 2200 2497 2198 2498 2196 2499 2193 2500 2191 2501 2189 2502 2187 2503 2184 2504 2182 2505 2180 2506 2178 2506 2175 2507 2173 2508 2171 2509 2169 2510 2166"/>
<path class="k12" d="M2762 2215 2761 2218 2761 2221 2760 2223 2760 2226 2760 2229 2759 2231 2759 2234 2758 2236 2758 2239 2757 2242 2757 2244 2757 2247 2756 2249 2756 2252 2755 2255 2755 2257 2754 2260 2754 2262 2753 2265 2753 2268 2752 2270 2752 2273 2751 2275 2751 2278 2750 2280 2750 2283 2749 2285 2749 2288 2748 2291 2748 2293 2747 2296 2746 2298 2746 2301 2745 2303 2745 2306 2744 2308 2744 2311 2743 2313 2742 2316 2742 2318 2741 2321 2741 2323 2740 2326 2739 2328 2739 2331 2738 2333 2738 2336 2737 2338 2736 2341 2736 2343 2735 2346 2734 2348 2734 2351 2733 2353 2733 2355 2732 2358 2731 2360 2731 2363 2730 2365 2729 2368 2729 2370 2728 2373 2727 2375 2726 2377 2726 2380 2725 2382 2724 2385 2724 2387 2723 2390 2722 2392 2721 2394 2721 2397 2720 2399 2719 2402 2719 2404 2718 2406 2717 2409 2716 2411 2716 2414 2715 2416 2714 2418 2713 2421 2713 2423 2712 2425 2711 2428 2710 2430 2709 2433 2709 2435 2708 2437 2707 2440 2706 2441"/>
<path class="k12" d="M2393 2419 2393 2416 2394 2413 2394 2411 2395 2408 2395 2405 2395 2403 2396 2400 2396 2398 2397 2395 2397 2392 2398 2390 2398 2387 2399 2385 2399 2382 2399 2379 2400 2377 2400 2374 2401 2372 2401 2369 2402 2366 2402 2364 2403 2361 2403 2359 2404 2356 2404 2354 2405 2351 2405 2349 2406 2346 2407 2343 2407 2341 2408 2338 2408 2336 2409 2333 2409 2331 2410 2328 2410 2326 2411 2323 2412 2321 2412 2318 2413 2316 2413 2313 2414 2311 2415 2308 2415 2306 2416 2303 2416 2301 2417 2298 2418 2296 2418 2293 2419 2291 2420 2288 2420 2286 2421 2283 2421 2281 2422 2279 2423 2276 2423 2274 2424 2271 2425 2269 2425 2266 2426 2264 2427 2261 2427 2259 2428 2257 2429 2254 2430 2252 2430 2249 2431 2247 2432 2244 2432 2242 2433 2240 2434 2237 2435 2235 2435 2232 2436 2230 2437 2228 2438 2225 2438 2223 2439 2220 2440 2218 2441 2216 2441 2213 2442 2211 2443 2209 2444 2206 2444 2204 2445 2201 2446 2199 2447 2197 2448 2194 2448 2193"/>
<path class="k19" d="M2795 2240 2795 2242 2794 2245 2794 2247 2793 2250 2793 2253 2792 2255 2792 2258 2791 2260 2791 2263 2790 2265 2790 2268 2789 2270 2789 2273 2788 2276 2788 2278 2787 2281 2787 2283 2786 2286 2786 2288 2785 2291 2785 2293 2784 2296 2783 2298 2783 2301 2782 2303 2782 2306 2781 2308 2781 2311 2780 2314 2779 2316 2779 2319 2778 2321 2778 2324 2777 2326 2776 2329 2776 2331 2775 2333 2775 2336 2774 2338 2773 2341 2773 2343 2772 2346 2772 2348 2771 2351 2770 2353 2770 2356 2769 2358 2768 2361 2768 2363 2767 2366 2766 2368 2766 2371 2765 2373 2764 2375 2764 2378 2763 2380 2762 2383 2762 2385 2761 2388 2760 2390 2760 2392 2759 2395 2758 2397 2757 2400 2757 2402 2756 2405 2755 2407 2755 2409 2754 2412 2753 2414 2752 2417 2752 2419 2751 2421 2751 2423"/>
<path class="k19" d="M2359 2394 2360 2392 2360 2389 2361 2387 2361 2384 2362 2381 2362 2379 2363 2376 2363 2374 2364 2371 2364 2369 2365 2366 2365 2364 2366 2361 2366 2358 2367 2356 2367 2353 2368 2351 2368 2348 2369 2346 2369 2343 2370 2341 2371 2338 2371 2336 2372 2333 2372 2331 2373 2328 2373 2326 2374 2323 2375 2320 2375 2318 2376 2315 2376 2313 2377 2310 2378 2308 2378 2305 2379 2303 2379 2301 2380 2298 2381 2296 2381 2293 2382 2291 2382 2288 2383 2286 2384 2283 2384 2281 2385 2278 2386 2276 2386 2273 2387 2271 2388 2268 2388 2266 2389 2263 2390 2261 2390 2259 2391 2256 2392 2254 2392 2251 2393 2249 2394 2246 2394 2244 2395 2242 2396 2239 2396 2237 2397 2234 2398 2232 2399 2229 2399 2227 2400 2225 2401 2222 2401 2220 2402 2217 2403 2215 2404 2213 2404 2211"/>
<path class="k25" d="M2823 2259 2822 2262 2822 2265 2821 2267 2821 2270 2820 2272 2820 2275 2819 2277 2819 2280 2818 2282 2818 2285 2817 2287 2817 2290 2816 2293 2815 2295 2815 2298 2814 2300 2814 2302 2813 2305 2813 2307 2812 2310 2812 2312 2811 2315 2810 2317 2810 2320 2809 2322 2809 2325 2808 2327 2807 2330 2807 2332 2806 2335 2806 2337 2805 2340 2804 2342 2804 2345 2803 2347 2802 2350 2802 2352 2801 2355 2801 2357 2800 2360 2799 2362 2799 2365 2798 2367 2797 2370 2797 2372 2796 2375 2795 2377 2795 2380 2794 2382 2793 2385 2793 2387 2792 2389 2791 2392 2791 2394 2790 2397 2789 2399 2788 2402 2788 2404 2787 2406 2787 2408"/>
<path class="k25" d="M2332 2375 2332 2372 2333 2369 2333 2367 2334 2364 2334 2362 2335 2359 2335 2357 2336 2354 2336 2352 2337 2349 2337 2347 2338 2344 2339 2341 2339 2339 2340 2336 2340 2334 2341 2332 2341 2329 2342 2327 2343 2324 2343 2322 2344 2319 2344 2317 2345 2314 2345 2312 2346 2309 2347 2307 2347 2304 2348 2302 2348 2299 2349 2297 2350 2294 2350 2292 2351 2289 2352 2287 2352 2284 2353 2282 2353 2279 2354 2277 2355 2274 2355 2272 2356 2269 2357 2267 2357 2264 2358 2262 2359 2259 2359 2257 2360 2254 2361 2252 2361 2249 2362 2247 2363 2245 2363 2242 2364 2240 2365 2237 2365 2235 2366 2232 2367 2230 2368 2228 2368 2226"/>
<path class="k32" d="M2847 2277 2846 2279 2846 2282 2845 2284 2845 2287 2844 2289 2844 2292 2843 2294 2843 2297 2842 2300 2841 2302 2841 2304 2840 2307 2840 2309 2839 2312 2839 2314 2838 2317 2837 2319 2837 2322 2836 2324 2836 2327 2835 2329 2834 2332 2834 2334 2833 2337 2833 2339 2832 2342 2831 2344 2831 2347 2830 2349 2829 2352 2829 2354 2828 2357 2828 2359 2827 2362 2826 2364 2826 2367 2825 2369 2824 2372 2824 2374 2823 2377 2822 2379 2822 2382 2821 2384 2820 2386 2820 2389 2819 2391 2818 2394 2818 2394"/>
<path class="k32" d="M2308 2357 2308 2355 2309 2352 2309 2350 2310 2347 2310 2345 2311 2342 2311 2340 2312 2337 2313 2334 2313 2332 2314 2330 2314 2327 2315 2325 2315 2322 2316 2320 2317 2317 2317 2315 2318 2312 2318 2310 2319 2307 2320 2305 2320 2302 2321 2300 2321 2297 2322 2295 2323 2292 2323 2290 2324 2287 2324 2285 2325 2282 2326 2280 2326 2277 2327 2275 2328 2272 2328 2270 2329 2267 2330 2265 2330 2262 2331 2260 2332 2257 2332 2255 2333 2252 2334 2250 2334 2248 2335 2245 2336 2243 2336 2240 2336 2240"/>
<path class="k38" d="M2868 2292 2868 2295 2867 2297 2867 2300 2866 2302 2866 2305 2865 2307 2864 2310 2864 2312 2863 2315 2863 2317 2862 2320 2862 2322 2861 2325 2860 2327 2860 2330 2859 2332 2859 2335 2858 2337 2857 2340 2857 2342 2856 2345 2856 2347 2855 2350 2854 2352 2854 2355 2853 2357 2852 2360 2852 2362 2851 2365 2850 2367 2850 2370 2849 2372 2849 2375 2848 2377 2847 2379 2847 2382 2846 2383"/>
<path class="k38" d="M2286 2342 2287 2339 2287 2337 2288 2334 2288 2332 2289 2329 2290 2327 2290 2324 2291 2322 2291 2319 2292 2317 2292 2314 2293 2312 2294 2309 2294 2307 2295 2304 2295 2302 2296 2299 2297 2297 2297 2294 2298 2292 2298 2289 2299 2287 2300 2284 2300 2282 2301 2279 2302 2277 2302 2274 2303 2272 2303 2269 2304 2267 2305 2264 2305 2262 2306 2259 2307 2257 2307 2255 2308 2252 2308 2251"/>
<path class="k44" d="M2888 2306 2888 2309 2887 2311 2886 2314 2886 2316 2885 2319 2885 2321 2884 2324 2883 2326 2883 2329 2882 2331 2882 2334 2881 2336 2880 2339 2880 2341 2879 2344 2879 2346 2878 2349 2877 2351 2877 2354 2876 2356 2876 2359 2875 2361 2874 2364 2874 2366 2873 2369 2872 2371 2872 2372"/>
<path class="k44" d="M2266 2328 2267 2325 2268 2323 2268 2320 2269 2318 2269 2315 2270 2313 2271 2310 2271 2308 2272 2305 2272 2303 2273 2300 2274 2298 2274 2295 2275 2293 2275 2290 2276 2288 2277 2285 2277 2283 2278 2280 2278 2278 2279 2275 2280 2273 2280 2270 2281 2268 2282 2265 2282 2263 2282 2262"/>
<path class="k51" d="M2906 2320 2906 2322 2905 2325 2905 2327 2904 2330 2903 2332 2903 2335 2902 2337 2902 2340 2901 2342 2900 2344 2900 2347 2899 2349 2899 2352 2898 2354 2897 2357 2897 2359 2896 2362"/>
<path class="k51" d="M2248 2314 2249 2312 2249 2309 2250 2307 2251 2304 2251 2302 2252 2299 2252 2297 2253 2294 2254 2292 2254 2290 2255 2287 2255 2285 2256 2282 2257 2280 2257 2277 2258 2275 2258 2272"/>
<path class="k57" d="M2923 2332 2923 2334 2922 2337 2922 2339 2921 2342 2920 2344 2920 2347 2919 2349 2919 2352 2918 2352"/>
<path class="k57" d="M2231 2302 2232 2300 2232 2297 2233 2295 2234 2292 2234 2290 2235 2287 2235 2285 2236 2282 2236 2282"/></g>
<g class="sf" transform="scale(.5)"><path class="h0" d="M2530 2496l-2 0-10-6-21-17-20-21-24-30-19-28-22-38-25-48-13-28-21-48-20-51-38-108-26-83-24-82-28-104-1-8 33 63 43 71 37 52 36 42 27 27 15 14 17 13 23 15 21 10 14 6 23 7 21 3 31 0 21-3 26-8 22-10 22 16 14 8 18 7 14 2 20 1 13-2 21-7 16-8 27-20 22-22 16-20 24-34 16-26 24-44 20-41 22-50-17 49-28 73-25 61-33 76-28 59-22 42-23 42-27 44-26 39-24 32-25 30-27 27-25 22-27 19-30 16z"/>
<path class="h1" d="M2530 2496l-2 0-10-6-21-17-20-21-24-30-19-28-22-38-25-48-13-28-21-48-20-51-38-108-26-83-24-82-28-104-1-8 33 63 43 71 37 52 36 42 27 27 15 14 17 13 23 15 21 10 14 6 23 7 21 3 31 0 21-3 26-8 22-10 22 16 14 8 18 7 14 2 20 1 13-2 21-7 16-8 27-20 22-22 16-20 24-34 16-26 24-44 20-41 22-50-17 49-28 73-25 61-33 76-28 59-22 42-23 42-27 44-26 39-24 32-25 30-27 27-25 22-27 19-30 16zM2550 2434l5-1 12-8 12-12 13-20 9-17 10-24 8-24 6-23 4-21 2-22 1-27-1-15-3-12-5-13-7-8-7-2-5 0-5 1-10 6-12 12-13 19-12 23-7 16-8 26-6 22-5 24-3 22 0 29 1 14 5 18 4 9 9 7z"/>
<path class="h2" d="M2530 2496l-2 0-10-6-21-17-20-21-24-30-19-28-22-38-25-48-13-28-21-48-20-51-38-108-26-83-24-82-28-104-1-8 33 63 43 71 37 52 36 42 27 27 15 14 17 13 23 15 21 10 14 6 23 7 21 3 31 0 21-3 26-8 22-10 22 16 14 8 18 7 14 2 20 1 13-2 21-7 16-8 27-20 22-22 16-20 24-34 16-26 24-44 20-41 22-50-17 49-28 73-25 61-33 76-28 59-22 42-23 42-27 44-26 39-24 32-25 30-27 27-25 22-27 19-30 16zM2541 2477l11-4 11-8 12-11 8-10 14-23 12-21 14-33 12-37 8-31 7-35 3-27 2-22-2-35-4-21-7-18-8-10-9-5-13 0-11 5-7 4-17 17-16 23-18 35-11 26-10 28-11 40-6 34-4 35-1 33 3 26 5 20 8 15 6 6 5 3 4 1z"/>
<path class="h3" d="M2488 2463l-15-16-20-25-14-21-18-29-34-64-34-76-34-91-36-105-38-128-28-104-1-8 22 42 22 40 40 64 17 24 28 36 20 22 27 27 22 19 21 15 17 10 30 14 23 7 21 3 20 1 27-3-6 7-14 22-20 41-18 44-9 29-9 33-8 44-6 47 0 36 1 20zM2584 2469l-1 0 0-1 11-15 14-24 18-38 16-43 14-48 11-54 4-44 0-46-4-32 1 0 18 6 14 2 14 0 13-2 14-4 19-9 14-9 17-13 22-22 16-20 16-22 16-25 20-33 20-39 16-34 18-43 0 2-10 28-29 78-47 113-45 98-22 42-23 42-41 66-23 32-25 32-21 24-27 26-23 19z"/>
<path class="h4" d="M2468 2441l-15-19-14-21-18-29-20-36-27-56-34-82-37-101-29-91-35-122-22-80-1-8 22 42 22 40 40 64 17 24 28 36 20 22 27 27 22 19 17 13 21 12 16 8 14 6 23 7 21 3 22 1-5 7-14 28-16 38-13 38-14 50-10 49-5 38-3 40zM2608 2451l-1 0 6-10 14-29 17-40 15-44 11-43 8-39 6-44 3-42-1-30 14 2 20-1 15-3 13-5 16-8 18-13 31-29 16-20 16-22 32-52 32-61 26-61 0 2-10 28-29 78-47 113-32 70-44 86-41 70-41 59-21 27-21 24-19 18z"/>
<path class="h5" d="M2455 2424l-24-36-30-52-35-74-33-81-30-84-34-107-30-106-22-80-1-8 33 63 43 71 37 52 36 42 27 27 15 14 17 13 23 15 21 10 24 10 20 4 18 3-14 29-17 43-14 43-9 35-8 36-8 48-3 32zM2626 2436l-1-1 19-41 11-28 14-45 10-37 8-34 7-44 4-37 1-37 15 0 13-2 14-4 19-9 14-9 17-13 26-27 28-37 32-52 32-61 26-61 0 4-29 78-41 102-42 95-41 82-40 70-39 60-21 27-20 24-13 15z"/>
<path class="h6" d="M2444 2408l-26-41-31-59-27-60-31-78-27-77-33-103-30-106-22-80-1-8 33 63 43 71 37 52 36 42 38 37 21 17 16 11 12 6 25 12 20 7 18 4-16 38-10 29-11 33-14 53-13 65-5 44-1 27zM2640 2422l1-3 16-39 12-34 13-42 8-32 8-37 6-35 5-47 1-20 4-2 13-1 14-4 23-11 27-20 22-22 11-13 29-41 28-46 28-55 26-61 0 4-29 78-41 102-37 85-40 81-34 61-36 58-23 32-18 24-20 23z"/>
<path class="h7" d="M2434 2394l-22-38-31-60-28-64-28-74-30-85-30-96-32-115-17-64 0-2 33 63 37 61 31 46 22 29 19 22 34 34 22 19 17 13 21 12 16 8 14 6 21 7-15 36-15 44-18 68-13 65zM2653 2409l0-2 12-31 15-42 18-65 15-73 4-34 3-31 15-3 13-5 16-8 10-7 17-13 22-22 16-20 24-34 28-46 28-55 26-61 0 4-29 78-37 94-30 69-37 78-35 66-42 70-34 47-21 27z"/>
<path class="h8" d="M2426 2379l-25-43-27-56-21-48-31-82-27-77-30-96-32-115-17-64 0-2 30 57 35 60 36 53 36 46 39 39 32 27 28 17 16 8 23 9-13 36-11 34-17 59-8 35-8 42-7 47 0 13zM2664 2396l0-2 9-21 16-47 17-63 13-60 6-43 4-30 12-4 19-9 22-15 31-29 16-20 24-34 28-46 28-55 26-61 0 4-29 78-37 94-30 69-37 78-35 66-35 58-37 54z"/>
<path class="h9" d="M2418 2366l-1 0-16-30-35-74-26-64-25-66-27-82-23-73-32-115-17-64 0-2 30 57 35 60 36 53 28 36 20 22 27 27 22 19 17 13 16 10 21 10 13 6-12 32-10 33-18 65-16 75zM2674 2384l21-62 18-62 14-68 7-43 2-21 12-5 16-8 22-16 27-26 24-31 24-36 24-42 28-56 22-51 0 4-17 46-40 103-39 92-35 74-31 58-31 54-36 55z"/>
<path class="h10" d="M2411 2354l-24-46-27-60-27-67-22-63-28-82-24-82-31-110-12-46 0-2 30 57 35 60 36 53 28 36 20 22 27 27 15 14 33 24 12 6 20 10-21 60-19 71-13 61zM2684 2371l0-1 7-18 16-50 14-54 15-70 7-53 21-10 27-20 22-22 24-31 24-36 24-42 28-56 22-51 0 4-17 46-40 103-29 68-32 70-29 59-34 61-36 58-23 32z"/>
<path class="h11" d="M2404 2341l-17-33-27-60-27-67-22-63-28-82-24-82-31-110-12-46 0-2 30 57 32 55 29 44 32 43 26 29 38 37 32 24 28 16-17 50-19 67-14 68zM2692 2361l21-65 16-57 13-63 7-40 1-14 24-14 17-13 26-27 28-37 24-38 24-44 20-41 22-51 0 4-17 46-40 103-29 68-32 70-29 59-34 61-29 48z"/>
<path class="h12" d="M2398 2329l-21-42-24-55-24-62-26-73-20-61-24-82-31-110-12-46 0-2 30 57 27 46 27 43 34 46 31 36 27 27 32 27 31 19-18 52-18 69-13 60zM2701 2349l20-62 15-58 13-59 8-51 17-11 17-13 26-27 28-37 24-38 24-44 20-41 22-51 0 4-17 46-40 103-29 68-32 70-29 59-29 53-34 56z"/>
<path class="h13" d="M2392 2317l-18-37-21-48-24-62-26-73-20-61-24-82-31-110-12-46 0-2 30 57 27 46 27 43 29 40 29 35 34 34 32 27 23 14-17 52-17 64-14 62zM2709 2338l20-64 15-59 10-47 9-52 23-17 27-26 16-20 16-22 24-38 24-44 20-41 22-51 0 4-17 46-40 103-29 68-26 58-21 44-35 66-35 58z"/>
<path class="h14" d="M2386 2304l-20-42-26-64-38-105-19-57-24-82-31-110-12-46 0-2 30 57 27 46 27 43 29 40 29 35 34 34 22 19 25 18-16 49-18 68-12 59zM2717 2327l0-2 18-57 15-60 12-56 7-40 22-17 22-22 16-20 24-34 16-26 24-44 20-41 22-51 0 2-10 28-35 93-25 61-37 85-26 54-29 54-31 54z"/>
<path class="h15" d="M2380 2293l-20-45-20-50-25-66-20-59-26-83-24-82-28-104-1-8 30 57 27 46 27 43 29 40 29 35 34 34 22 19 18 13-12 37-21 77-13 63zM2724 2317l15-52 16-61 14-63 5-33 17-13 22-22 16-20 24-34 16-26 24-44 20-41 22-51 0 2-10 28-35 93-25 61-33 76-28 59-27 51-23 41z"/>
<path class="h16" d="M2375 2281l-22-49-20-51-38-108-26-83-24-82-28-104-1-8 22 42 27 48 27 44 25 36 22 29 26 29 27 27 33 27-17 55-13 51-10 42zM2731 2305l0-1 10-31 18-67 12-53 8-49 12-9 26-27 20-26 21-30 23-39 20-39 16-34 18-43 0 2-10 28-35 93-25 61-33 76-28 59-22 42-28 50z"/>
<path class="h17" d="M2370 2269l-17-37-20-51-38-108-26-83-24-82-28-104-1-8 22 42 27 48 27 44 25 36 22 29 26 29 27 27 26 22-16 53-12 46-10 44zM2738 2295l-1-2 15-47 14-54 11-48 8-44 6-5 22-22 11-13 17-22 20-32 20-33 20-39 16-34 18-43 0 2-10 28-35 93-25 61-26 61-22 46-29 59-29 53z"/>
<path class="h18" d="M2365 2259l-12-27-24-62-18-52-23-68-23-73-20-69-28-104-1-8 22 42 27 48 27 44 25 36 22 29 26 29 27 27 19 17-13 45-16 62-11 49zM2744 2284l0-2 16-53 13-50 10-49 6-34 24-23 11-13 17-22 20-32 20-33 20-39 16-34 18-43 0 2-10 28-35 93-25 61-26 61-22 46-29 59-21 39z"/>
<path class="h19" d="M2360 2247l-7-15-24-62-18-52-23-68-23-73-20-69-28-104-1-8 22 42 22 40 21 35 26 39 27 36 24 29 34 34 13 12-12 42-16 59-11 52zM2751 2273l0-3 10-32 16-61 9-41 8-44 19-19 16-20 16-22 16-25 20-33 20-39 16-34 18-43 0 2-10 28-29 78-47 113-26 58-21 44-29 54z"/>
<path class="h20" d="M2356 2236l-16-38-18-48-39-114-38-128-28-104-1-8 22 42 22 40 21 35 26 39 22 30 24 30 31 32 15 14-13 44-14 55zM2756 2264l0-2 9-27 15-58 13-56 6-33 18-20 20-26 16-23 16-26 32-59 16-34 18-43 0 2-10 28-29 78-47 113-26 58-21 44-25 47z"/>
<path class="h21" d="M2351 2225l-18-44-18-49-32-96-38-128-28-104-1-8 22 42 22 40 21 35 26 39 22 30 24 30 12 12 28 28-14 48-12 50zM2763 2252l0-2 10-33 16-63 10-48 4-24 14-14 20-26 16-23 16-26 32-59 16-34 18-43 0 2-10 28-29 78-47 113-45 98-22 42z"/>
<path class="h22" d="M2346 2213l-31-81-38-118-38-130-22-80-1-8 22 42 22 40 40 64 17 24 28 36 20 22 22 23-24 89-10 44-6 32zM2768 2243l0-2 9-31 14-51 17-81 16-18 13-18 16-23 16-26 32-59 16-34 18-43 0 2-10 28-29 78-47 113-45 98z"/>
<path class="h23" d="M2342 2203l-31-85-34-104-38-130-22-80-1-8 22 42 22 40 40 64 17 24 28 36 20 22 17 18-9 31-14 51zM2774 2233l-1-1 10-31 14-57 15-70 17-21 16-22 32-52 32-61 26-61 0 2-10 28-29 78-47 113-45 98z"/>
<path class="h24" d="M2338 2192l-5-11-22-63-34-104-38-130-22-80-1-8 22 42 22 40 40 64 39 53 19 22 19 19-8 26-15 57zM2780 2222l0-4 7-24 14-55 11-47 4-23 13-16 16-22 32-52 32-61 26-61 0 4-29 78-41 102-42 95-21 44z"/>
<path class="h25" d="M2334 2181l-31-84-29-91-35-122-22-80-1-8 33 63 43 71 25 36 17 22 19 24 18 18-19 70-13 55-4 25zM2785 2212l0-4 8-27 14-55 14-63 8-10 16-22 32-52 32-61 26-61 0 4-29 78-41 102-42 95z"/>
<path class="h26" d="M2330 2171l-27-74-34-107-30-106-22-80-1-8 33 63 43 71 37 52 36 43-18 68-12 55-4 22zM2790 2202l0-2 6-20 15-57 14-65 12-16 16-23 28-46 28-55 26-61 0 4-29 78-41 102-37 85z"/>
<path class="h27" d="M2326 2160l-1-2-22-61-34-107-30-106-22-80-1-8 33 63 43 71 37 52 32 38-21 77zM2796 2191l-1-2 7-22 14-55 12-57 25-36 28-46 28-55 26-61 0 4-29 78-41 102-37 85z"/>
<path class="h28" d="M2322 2150l-27-77-30-96-32-115-17-64 0-2 33 63 37 61 31 46 22 29 16 19-20 76zM2800 2182l0-2 5-14 14-58 13-59 26-37 27-48 28-56 22-51 0 4-29 78-37 94-37 84z"/>
<path class="h29" d="M2318 2139l-23-66-30-96-32-115-17-64 0-2 30 57 35 60 36 53 34 42-18 65zM2806 2171l-1-2 8-27 12-46 11-52 25-38 24-42 28-56 22-51 0 4-29 78-37 94-37 84z"/>
<path class="h30" d="M2315 2129l-20-56-30-96-32-115-17-64 0-2 30 57 35 60 36 53 29 37-18 67zM2810 2162l1-7 17-63 11-52 22-34 24-42 28-56 22-51 0 4-17 46-40 103-39 92z"/>
<path class="h31" d="M2311 2119l-23-69-29-96-31-110-12-46 0-2 30 57 32 55 29 44 34 45-15 56zM2815 2153l0-3 18-70 10-47 18-27 24-42 28-56 22-51 0 4-17 46-40 103-29 68z"/>
<path class="h32" d="M2308 2109l-25-73-24-82-31-110-12-46 0-2 30 57 32 55 29 44 30 39-17 62zM2820 2143l1-7 16-64 10-44 22-35 24-44 20-41 22-51 0 4-17 46-40 103-29 68z"/>
<path class="h33" d="M2304 2097l-1 0-15-47-29-96-31-110-12-46 0-2 30 57 27 46 34 53 25 33-15 57zM2824 2133l0-2 19-75 7-32 19-31 24-44 20-41 22-51 0 4-17 46-40 103-29 68z"/>
<path class="h34" d="M2300 2087l-17-51-24-82-31-110-12-46 0-2 30 57 27 46 27 43 27 37-17 67-9 40zM2829 2123l0-3 10-38 15-65 15-24 24-44 20-41 22-51 0 2-10 28-35 93-25 61z"/>
<path class="h35" d="M2297 2077l-38-123-31-110-12-46 0-2 30 57 27 46 27 43 23 31zM2833 2114l0-2 16-60 8-40 20-33 16-30 20-41 22-51 0 2-10 28-35 93-25 61z"/>
<path class="h36" d="M2294 2067l-35-113-31-110-12-46 0-2 22 42 27 48 27 44 27 38-5 15-15 59-4 24zM2838 2104l-1-2 14-50 10-45 20-34 20-39 16-34 18-43 0 2-10 28-35 93-25 61z"/>
<path class="h37" d="M2290 2057l-21-67-24-82-28-104-1-8 22 42 27 48 27 44 22 31-14 55-9 40zM2842 2093l0-2 13-51 9-39 17-28 20-39 16-34 18-43 0 2-10 28-35 93-25 61z"/>
<path class="h38" d="M2288 2046l-1 0-13-40-29-98-28-104-1-8 22 42 27 48 27 44 18 26-15 56zM2846 2085l0-3 13-48 8-38 14-23 20-39 16-34 18-43 0 2-10 28-29 78-27 68z"/>
<path class="h39" d="M2284 2037l-15-47-24-82-28-104-1-8 22 42 22 40 21 35 24 36zM2850 2075l0-1 15-57 5-26 11-18 20-39 16-34 18-43 0 2-10 28-29 78-27 68z"/>
<path class="h40" d="M2281 2027l-36-119-28-104-1-8 22 42 22 40 21 35 20 30zM2854 2066l0-2 12-45 7-34 8-12 20-39 16-34 18-43 0 2-10 28-29 78z"/>
<path class="h41" d="M2278 2017l-33-109-28-104-1-8 22 42 22 40 21 35 16 24zM2859 2055l0-2 18-73 16-31 16-31 26-61 0 4-29 78-28 71z"/>
<path class="h42" d="M2275 2007l-10-30-20-69-28-104-1-8 33 63 24 40 20 32zM2862 2047l0-1 11-40 6-31 30-57 26-61 0 4-29 78z"/>
<path class="h43" d="M2272 1997l-33-113-22-80-1-8 33 63 24 40 16 26zM2867 2036l0-2 7-27 9-39 26-50 26-61 0 4-29 78z"/>
<path class="h44" d="M2269 1987l-4-10-26-93-22-80-1-8 33 63 24 40 12 19zM2871 2027l0-3 8-32 6-28 24-46 26-61 0 4-29 78z"/>
<path class="h45" d="M2266 1977l-33-115-17-64 0-2 33 63 32 53zM2875 2017l0-3 14-57 24-49 22-51 0 4-29 78z"/>
<path class="h46" d="M2263 1967l-30-105-17-64 0-2 30 57 32 54zM2878 2009l0-2 14-57 21-42 22-51 0 4-17 46z"/>
<path class="h47" d="M2260 1957l-1-3-20-70-22-80-1-8 30 57 28 47zM2882 1999l0-3 5-16 7-33 19-39 22-51 0 4-17 46z"/>
<path class="h48" d="M2257 1947l-29-103-12-46 0-2 30 57 24 41zM2886 1989l0-3 11-46 20-40 18-43 0 4-17 46z"/>
<path class="h49" d="M2254 1938l-26-94-12-46 0-2 22 42 29 50zM2890 1981l-1-3 12-45 16-33 18-43 0 4-17 46z"/>
<path class="h50" d="M2252 1928l-24-84-12-46 0-2 22 42 25 44zM2894 1970l-1-2 10-40 14-28 18-43 0 4-17 46z"/>
<path class="h51" d="M2249 1917l-1 0-15-55-17-64 0-2 22 42 21 38zM2897 1961l9-39 11-22 18-43 0 2-10 28z"/>
<path class="h52" d="M2246 1908l-25-89-5-21 0-2 22 42 17 31-6 27zM2901 1951l0-2 8-33 8-16 18-43 0 2-10 28z"/>
<path class="h53" d="M2243 1898l-22-79-5-21 0-2 17 32 19 35-8 34zM2904 1943l0-3 7-29 24-54 0 2-4 11z"/>
<path class="h54" d="M2240 1889l-23-85-1-8 17 32 16 29-8 31zM2908 1934l-1-2 7-27 21-48 0 4z"/>
<path class="h55" d="M2238 1879l-21-75-1-8 29 54-4 17zM2911 1925l6-26 18-42 0 4z"/>
<path class="h56" d="M2235 1869l-18-65-1-8 25 48-4 19zM2915 1914l0-2 4-19 16-36 0 4z"/>
<path class="h57" d="M2233 1859l-1 0-4-15-12-46 0-2 22 42zM2918 1905l0-2 4-16 13-30 0 4z"/>
<path class="h58" d="M2230 1850l-2-6-11-40-1-8 19 35zM2922 1894l0-3 3-10 10-24 0 4z"/>
<path class="h59" d="M2228 1841l-11-37-1-8 15 29zM2925 1887l0-2 2-8 8-20 0 2z"/>
<path class="h60" d="M2225 1831l-9-33 0-2 12 22zM2928 1878l1-8 6-13 0 2z"/>
<path class="h61" d="M2222 1821l-6-23 0-2 9 16zM2932 1869l-1-3 4-9 0 2z"/>
<path class="h62" d="M2220 1811l-4-13 0-2 5 10z"/>
<path class="h63" d="M2218 1802l-2-4 0-2 2 3z"/></g>
<path class="ax" d="M1107.5 896.7L1107.5 1145.3L1264.3 1258.1L1469.8 1171.7M1264.3 1258.1l4.1 2.9M1264.3 1258.1l-4.6 1.9M1367.0 1214.9l4.1 2.9M1185.9 1201.7l-4.6 1.9M1469.8 1171.7l4.1 2.9M1107.5 1145.3l-4.6 1.9M1107.5 1145.3l-4.6 1.9M1107.5 1021.0l-4.6 1.9M1107.5 896.7l-4.6 1.9"/>
<text transform="translate(1276.8 1291.1) scale(0.850 1)" style="font-size:23.7px">-10</text>
<text transform="translate(1249.9 1289.1) scale(0.850 1)" text-anchor="end" style="font-size:23.7px">-10</text>
<text transform="translate(1379.5 1247.9) scale(0.850 1)" style="font-size:23.7px">0</text>
<text transform="translate(1171.5 1232.7) scale(0.850 1)" text-anchor="end" style="font-size:23.7px">0</text>
<text transform="translate(1482.3 1204.7) scale(0.850 1)" style="font-size:23.7px">10</text>
<text transform="translate(1093.1 1176.3) scale(0.850 1)" text-anchor="end" style="font-size:23.7px">10</text>
<text transform="translate(1094.2 1147.3) scale(0.850 1)" text-anchor="end" style="font-size:23.7px">0</text>
<text transform="translate(1094.2 1023.0) scale(0.850 1)" text-anchor="end" style="font-size:23.7px">50</text>
<text transform="translate(1094.2 898.7) scale(0.850 1)" text-anchor="end" style="font-size:23.7px">100</text>
<text transform="translate(1376.7 1303.2) scale(0.850 1)" style="font-size:23.7px">x<tspan dy="15" style="font-size:21px">1</tspan></text>
<text transform="translate(1135.7 1297.6) scale(0.850 1)" style="font-size:23.7px">x<tspan dy="17" style="font-size:21px">2</tspan></text>
<text transform="translate(1030.0 1100.9) scale(0.830 1) rotate(-90)" style="font-size:27.0px">F28( x<tspan dy="9" style="font-size:21px">1</tspan><tspan dy="-9"> , x</tspan><tspan dy="9" style="font-size:21px">2</tspan><tspan dy="-9"> )</tspan></text>
<text transform="translate(1288.6 800.0) scale(0.927 1)" text-anchor="middle" style="font-size:25.8px;font-weight:bold;fill:#000">Parameter space</text></g>
<g id="F29"><path class="g3" d="M99.9 1957.1L99.9 1707.8M467.8 1982.4L467.8 1733.1M258.7 2070.6L99.9 1957.1M258.7 2070.6L467.8 1982.4M204.5 1913.0L204.5 1663.7M388.4 1925.7L388.4 1676.4M363.2 2026.5L204.5 1913.0M179.3 2013.8L388.4 1925.7M309.0 1868.9L309.0 1619.6M309.0 1868.9L309.0 1619.6M467.8 1982.4L309.0 1868.9M99.9 1957.1L309.0 1868.9M99.9 1915.9L309.0 1827.7M309.0 1827.7L467.8 1941.2M99.9 1874.7L309.0 1786.5M309.0 1786.5L467.8 1900.0M99.9 1833.5L309.0 1745.3M309.0 1745.3L467.8 1858.8M99.9 1792.3L309.0 1704.1M309.0 1704.1L467.8 1817.6M99.9 1751.1L309.0 1662.9M309.0 1662.9L467.8 1776.4M99.9 1709.9L309.0 1621.7M309.0 1621.7L467.8 1735.2M309.0 1868.9L309.0 1619.6M467.8 1982.4L467.8 1733.1"/>
<path class="g3" d="M99.9 1957.1L309.0 1868.9L467.8 1982.4"/>
<g class="ct" transform="scale(.5)"><path class="k10" d="M894 3935 892 3936 889 3937 886 3938 883 3939 881 3940 878 3941 875 3942 872 3943 870 3944 867 3945 864 3946 861 3947 859 3948 856 3949 853 3950 850 3951 848 3952 845 3953 842 3954 839 3955 837 3956 834 3957 831 3958 828 3959 826 3960 823 3961 820 3962 817 3963 814 3964 812 3965 809 3966 806 3967 803 3968 801 3969 798 3970 795 3971 792 3972 790 3973 787 3974 784 3975 781 3976 779 3977 776 3978 773 3979 770 3980 768 3981 765 3982 762 3983 759 3984 757 3985 754 3986 751 3987 748 3988 746 3989 743 3990 740 3991 737 3992 735 3993 732 3994 729 3995 726 3996 724 3997 721 3998 718 3999 715 4000 713 4001 710 4002 707 4003 704 4004 701 4005 699 4006 696 4007 693 4008 690 4009 688 4010 685 4011 682 4012 679 4013 677 4014 674 4015 671 4016 668 4017 666 4018 663 4019 660 4020 657 4021 655 4022 652 4023 649 4024 646 4025 643 4026 641 4027 638 4028 635 4029 632 4030 630 4031 627 4032 624 4033 621 4034 619 4035 616 4036 613 4037 610 4038 608 4039 605 4040 602 4041 599 4042 596 4043 594 4044 591 4045 588 4046 585 4047 583 4048 580 4049 577 4050 574 4051 572 4052 569 4053 566 4054 563 4055 560 4056 558 4057 555 4058 552 4059 549 4060 547 4061 544 4062 541 4063 538 4064 535 4065 533 4066 530 4067 527 4068 524 4069 522 4070 519 4071 516 4072 513 4073 511 4074 508 4075 505 4076 502 4077 499 4078 497 4079 494 4080 491 4081 488 4082 486 4083 483 4084 480 4085 477 4086 474 4087 472 4088 469 4089 466 4090 463 4091 460 4092 458 4093 455 4094 452 4095"/>
<path class="k10" d="M265 3961 267 3960 270 3958 272 3957 275 3956 277 3955 280 3953 282 3952 285 3951 287 3950 290 3949 292 3947 294 3946 297 3945 299 3944 302 3943 304 3941 307 3940 309 3939 312 3938 314 3936 316 3935 319 3934 321 3933 324 3932 326 3930 329 3929 331 3928 334 3927 336 3925 339 3924 341 3923 343 3922 346 3921 348 3919 351 3918 353 3917 356 3916 358 3915 361 3913 363 3912 366 3911 368 3910 370 3908 373 3907 375 3906 378 3905 380 3904 383 3902 385 3901 388 3900 390 3899 393 3898 395 3896 397 3895 400 3894 402 3893 405 3891 407 3890 410 3889 412 3888 415 3887 417 3885 420 3884 422 3883 425 3882 427 3881 429 3879 432 3878 434 3877 437 3876 439 3874 442 3873 444 3872 447 3871 449 3870 452 3868 454 3867 457 3866 459 3865 462 3864 464 3862 466 3861 469 3860 471 3859 474 3858 476 3856 479 3855 481 3854 484 3853 486 3852 489 3850 491 3849 494 3848 496 3847 499 3845 501 3844 503 3843 506 3842 508 3841 511 3839 513 3838 516 3837 518 3836 521 3835 523 3833 526 3832 528 3831 531 3830 533 3829 536 3827 538 3826 541 3825 543 3824 545 3823 548 3821 550 3820 553 3819 555 3818 558 3817 560 3815 563 3814 565 3813 568 3812 570 3811 573 3809 575 3808 578 3807 580 3806 583 3805 585 3803 588 3802 590 3801 592 3800 595 3799 597 3797 600 3796 602 3795 605 3794 607 3793 610 3791 612 3790 615 3789 617 3788 620 3787 622 3785 625 3784 627 3783 630 3782 632 3781 635 3779 637 3778 640 3777 642 3776 644 3775 647 3773 649 3772 652 3771 654 3770 657 3769 659 3767"/>
<path class="k21" d="M913 3948 910 3949 907 3950 905 3951 902 3953 899 3954 896 3955 894 3956 891 3956 888 3958 885 3959 883 3960 880 3961 877 3962 874 3963 872 3964 869 3965 866 3966 864 3967 861 3968 858 3969 855 3970 853 3971 850 3972 847 3973 844 3974 842 3975 839 3976 836 3977 833 3978 831 3979 828 3980 825 3981 823 3982 820 3983 817 3984 814 3985 812 3986 809 3987 806 3988 803 3989 801 3990 798 3991 795 3992 792 3993 790 3994 787 3995 784 3996 782 3997 779 3998 776 3999 773 4000 771 4001 768 4002 765 4003 762 4004 760 4005 757 4006 754 4007 751 4008 749 4009 746 4010 743 4011 741 4013 738 4014 735 4015 732 4016 730 4017 727 4018 724 4019 721 4020 719 4021 716 4022 713 4023 711 4024 708 4025 705 4026 702 4027 699 4028 697 4029 694 4030 691 4031 688 4032 686 4033 683 4034 680 4035 678 4036 675 4037 672 4038 669 4039 667 4040 664 4041 661 4042 658 4043 656 4044 653 4045 650 4046 647 4047 645 4048 642 4049 639 4050 636 4051 634 4052 631 4053 628 4054 625 4055 623 4056 620 4057 617 4058 615 4059 612 4060 609 4061 606 4062 604 4063 601 4064 598 4065 595 4066 593 4067 590 4068 587 4069 584 4070 582 4071 579 4072 576 4073 573 4074 571 4075 568 4076 565 4077 562 4078 560 4079 557 4080 554 4081 551 4082 549 4083 546 4084 543 4085 541 4086 538 4087 535 4088 532 4089 529 4090 527 4091 524 4092 521 4093 518 4094 516 4095 513 4096 510 4097 507 4098 505 4099 502 4100 499 4101 496 4102 494 4103 491 4104 488 4105 485 4106 483 4107 480 4108 477 4110 474 4111"/>
<path class="k21" d="M243 3945 245 3944 248 3942 250 3941 253 3940 255 3939 258 3938 260 3936 263 3935 265 3934 268 3933 270 3932 272 3930 275 3929 277 3928 280 3927 282 3926 285 3925 287 3923 290 3922 292 3921 295 3920 297 3919 300 3917 302 3916 305 3915 307 3914 310 3913 312 3911 315 3910 317 3909 320 3908 322 3907 325 3905 327 3904 330 3903 332 3902 335 3901 337 3899 339 3898 342 3897 344 3896 347 3895 349 3893 352 3892 354 3891 357 3890 359 3889 362 3887 364 3886 367 3885 369 3884 372 3883 374 3881 377 3880 379 3879 382 3878 384 3877 387 3875 389 3874 392 3873 394 3872 397 3871 399 3870 402 3868 404 3867 407 3866 409 3865 412 3864 414 3862 417 3861 419 3860 422 3859 424 3858 426 3856 429 3855 431 3854 434 3853 436 3852 439 3850 441 3849 444 3848 446 3847 449 3846 451 3844 454 3843 456 3842 459 3841 461 3840 464 3839 466 3837 469 3836 471 3835 474 3834 476 3833 479 3831 481 3830 484 3829 486 3828 489 3827 491 3825 494 3824 496 3823 499 3822 501 3821 504 3819 506 3818 509 3817 511 3816 514 3815 516 3814 519 3812 521 3811 524 3810 526 3809 529 3808 531 3806 534 3805 536 3804 539 3803 541 3802 544 3800 546 3799 549 3798 551 3797 554 3796 556 3795 559 3793 561 3792 564 3791 566 3790 569 3789 571 3787 573 3786 576 3785 578 3784 581 3783 583 3781 586 3780 588 3779 591 3778 593 3777 596 3776 598 3774 601 3773 603 3772 606 3771 608 3770 611 3768 613 3767 616 3766 618 3765 621 3764 623 3762 626 3761 628 3760 631 3759 633 3758 636 3757 638 3755 641 3754"/>
<path class="k31" d="M925 3957 923 3958 920 3959 917 3961 914 3962 912 3963 909 3964 906 3965 904 3966 901 3967 898 3968 895 3969 893 3970 890 3971 887 3972 884 3973 882 3974 879 3975 876 3976 874 3977 871 3978 868 3979 865 3980 863 3981 860 3982 857 3983 855 3984 852 3985 849 3986 846 3987 844 3988 841 3989 838 3990 836 3991 833 3992 830 3993 827 3994 825 3995 822 3996 819 3997 816 3998 814 3999 811 4001 808 4002 806 4003 803 4004 800 4005 797 4006 795 4007 792 4008 789 4009 786 4010 784 4011 781 4012 778 4013 776 4014 773 4015 770 4016 767 4017 765 4018 762 4019 759 4020 757 4021 754 4022 751 4023 748 4024 746 4025 743 4026 740 4027 737 4028 735 4029 732 4030 729 4031 727 4032 724 4033 721 4034 718 4035 716 4036 713 4037 710 4038 707 4039 705 4040 702 4041 699 4042 697 4043 694 4044 691 4046 688 4047 686 4048 683 4049 680 4050 677 4051 675 4052 672 4053 669 4054 667 4055 664 4056 661 4057 658 4058 656 4059 653 4060 650 4061 647 4062 645 4063 642 4064 639 4065 637 4066 634 4067 631 4068 628 4069 626 4070 623 4071 620 4072 617 4073 615 4074 612 4075 609 4076 607 4077 604 4078 601 4079 598 4080 596 4081 593 4082 590 4083 587 4084 585 4085 582 4086 579 4087 576 4088 574 4089 571 4090 568 4091 566 4092 563 4093 560 4094 557 4095 555 4097 552 4098 549 4099 546 4100 544 4101 541 4102 538 4103 535 4104 533 4105 530 4106 527 4107 525 4108 522 4109 519 4110 516 4111 514 4112 511 4113 508 4114 505 4115 503 4116 500 4117 497 4118 494 4119 492 4120 489 4121"/>
<path class="k31" d="M228 3934 231 3933 233 3932 236 3931 238 3930 240 3929 243 3927 246 3926 248 3925 251 3924 253 3923 256 3921 258 3920 261 3919 263 3918 266 3917 268 3915 271 3914 273 3913 276 3912 278 3911 281 3910 283 3908 286 3907 288 3906 291 3905 293 3904 296 3902 298 3901 301 3900 303 3899 306 3898 308 3896 311 3895 313 3894 315 3893 318 3892 320 3891 323 3889 325 3888 328 3887 330 3886 333 3885 335 3883 338 3882 340 3881 343 3880 345 3879 348 3878 350 3876 353 3875 355 3874 358 3873 360 3872 363 3870 365 3869 368 3868 370 3867 373 3866 375 3864 378 3863 380 3862 383 3861 385 3860 388 3859 390 3857 393 3856 395 3855 398 3854 400 3853 403 3851 405 3850 408 3849 410 3848 413 3847 415 3846 418 3844 420 3843 423 3842 425 3841 428 3840 430 3838 433 3837 435 3836 438 3835 440 3834 443 3833 445 3831 448 3830 450 3829 453 3828 455 3827 458 3825 460 3824 463 3823 465 3822 468 3821 470 3820 473 3818 475 3817 478 3816 480 3815 483 3814 485 3812 488 3811 491 3810 493 3809 496 3808 498 3807 501 3805 503 3804 506 3803 508 3802 511 3801 513 3799 516 3798 518 3797 521 3796 523 3795 526 3794 528 3792 531 3791 533 3790 536 3789 538 3788 541 3786 543 3785 546 3784 548 3783 551 3782 553 3781 556 3779 558 3778 561 3777 563 3776 566 3775 568 3773 571 3772 573 3771 576 3770 578 3769 581 3768 583 3766 586 3765 588 3764 590 3763 593 3762 596 3760 598 3759 601 3758 603 3757 606 3756 608 3755 611 3753 613 3752 616 3751 618 3750 621 3749 623 3748 626 3746 628 3745"/>
<path class="k42" d="M935 3964 932 3966 930 3967 927 3968 924 3969 922 3970 919 3971 916 3972 913 3973 911 3974 908 3975 905 3976 903 3977 900 3978 897 3979 894 3980 892 3981 889 3982 886 3983 884 3984 881 3985 878 3986 875 3987 873 3988 870 3989 867 3990 865 3991 862 3992 859 3993 856 3994 854 3995 851 3996 848 3997 846 3998 843 4000 840 4001 837 4002 835 4003 832 4004 829 4005 827 4006 824 4007 821 4008 818 4009 816 4010 813 4011 810 4012 808 4013 805 4014 802 4015 799 4016 797 4017 794 4018 791 4019 789 4020 786 4021 783 4022 780 4023 778 4024 775 4025 772 4026 770 4027 767 4028 764 4029 761 4030 759 4031 756 4032 753 4033 750 4034 748 4036 745 4037 742 4038 740 4039 737 4040 734 4041 731 4042 729 4043 726 4044 723 4045 721 4046 718 4047 715 4048 712 4049 710 4050 707 4051 704 4052 702 4053 699 4054 696 4055 693 4056 691 4057 688 4058 685 4059 683 4060 680 4061 677 4062 674 4063 672 4064 669 4065 666 4066 663 4067 661 4068 658 4069 655 4070 653 4071 650 4073 647 4074 644 4075 642 4076 639 4077 636 4078 634 4079 631 4080 628 4081 625 4082 623 4083 620 4084 617 4085 615 4086 612 4087 609 4088 606 4089 604 4090 601 4091 598 4092 595 4093 593 4094 590 4095 587 4096 585 4097 582 4098 579 4099 576 4100 574 4101 571 4102 568 4103 566 4104 563 4105 560 4106 557 4107 555 4108 552 4109 549 4110 546 4111 544 4112 541 4114 538 4115 536 4116 533 4117 530 4118 527 4119 525 4120 522 4121 519 4122 516 4123 514 4124 511 4125 508 4126 506 4127 503 4128 500 4129"/>
<path class="k42" d="M217 3927 220 3925 222 3924 225 3923 227 3922 230 3921 232 3919 235 3918 237 3917 240 3916 242 3915 245 3914 247 3912 250 3911 252 3910 255 3909 257 3908 260 3906 262 3905 265 3904 267 3903 270 3902 272 3901 275 3899 277 3898 280 3897 282 3896 285 3895 287 3893 290 3892 292 3891 295 3890 297 3889 300 3888 302 3886 305 3885 307 3884 310 3883 312 3882 315 3880 317 3879 320 3878 322 3877 325 3876 327 3875 330 3873 332 3872 335 3871 337 3870 340 3869 342 3868 345 3866 347 3865 350 3864 352 3863 355 3862 357 3860 360 3859 362 3858 365 3857 367 3856 370 3855 372 3853 375 3852 377 3851 380 3850 382 3849 385 3847 387 3846 390 3845 392 3844 395 3843 397 3842 400 3840 402 3839 405 3838 407 3837 410 3836 413 3835 415 3833 418 3832 420 3831 423 3830 425 3829 428 3827 430 3826 433 3825 435 3824 438 3823 440 3822 443 3820 445 3819 448 3818 450 3817 453 3816 455 3815 458 3813 460 3812 463 3811 465 3810 468 3809 470 3807 473 3806 475 3805 478 3804 480 3803 483 3802 485 3800 488 3799 490 3798 493 3797 495 3796 498 3795 500 3793 503 3792 505 3791 508 3790 510 3789 513 3787 515 3786 518 3785 520 3784 523 3783 525 3782 528 3780 530 3779 533 3778 536 3777 538 3776 541 3775 543 3773 546 3772 548 3771 551 3770 553 3769 556 3767 558 3766 561 3765 563 3764 566 3763 568 3762 571 3760 573 3759 576 3758 578 3757 581 3756 583 3755 586 3753 588 3752 591 3751 593 3750 596 3749 598 3748 601 3746 603 3745 606 3744 608 3743 611 3742 613 3740 616 3739 618 3738"/>
<path class="k52" d="M727 4053 724 4054 721 4055 718 4056 716 4057 713 4058 710 4059 707 4060 705 4061 702 4062 699 4063 697 4064 694 4065 691 4066 688 4067 686 4068 683 4069 680 4071 678 4072 675 4073 673 4073 670 4075 667 4076 664 4077 661 4078 659 4079 656 4080 653 4081 650 4082 648 4083 645 4084 642 4085 640 4086 637 4087 634 4088 631 4089 629 4090 626 4091 623 4092 621 4093 618 4094 615 4095 612 4096 610 4097 607 4098 604 4099 602 4100 599 4101 596 4102 593 4103 591 4105 588 4106 585 4107 583 4108 580 4109 577 4110 574 4111 572 4112 569 4113 567 4114 564 4115 561 4116 558 4117 555 4118 553 4119 550 4120 547 4121 545 4122 542 4123 539 4124 536 4125 534 4126 531 4127 528 4128 526 4129 523 4130 520 4131 517 4132 515 4133 512 4134 509 4135"/>
<path class="k52" d="M208 3920 210 3919 213 3918 215 3916 218 3915 221 3914 223 3913 226 3912 228 3911 231 3909 233 3908 236 3907 238 3906 241 3905 243 3904 246 3902 248 3901 251 3900 253 3899 256 3898 258 3896 261 3895 263 3894 266 3893 268 3892 271 3891 273 3889 276 3888 278 3887 281 3886 283 3885 286 3884 288 3882 291 3881 293 3880 296 3879 298 3878 301 3877 303 3875 306 3874 308 3873 311 3872 313 3871 316 3869 318 3868 321 3867 323 3866 326 3865 328 3864 331 3862 334 3861 336 3860 339 3859 341 3858 344 3857 346 3855 349 3854 351 3853 354 3852 356 3851 359 3849 361 3848 364 3847 366 3846 369 3845 371 3844 374 3842 376 3841 379 3840 381 3839 384 3838 386 3837 389 3835 391 3834 394 3833 396 3832 399 3831 401 3830 404 3828 406 3827 409 3826 409 3826"/></g>
<g class="sf" transform="scale(.5)"><path class="h0" d="M414 4047l-11 0-7-2-21-10-26-18-25-23-15-17-15-24-13-27-10-26-10-36-8-33-11-53-10-62-11-85-8-72-13-143 119 0 99-2 116-5 84-5 15 136 8 50 9 53 134-4 98-4 44-4 9 1-7 62-9 56-9 48-9 36-7 20-9 21-8 12-6 6-6 4-255 87-162 53z"/>
<path class="h1" d="M414 4047l-11 0-7-2-6-3 32-8 21-6 8-12 6-13 10-30 10-35 6-34-5 3-74 42-46 28-30 21-17-18-14-22-16-32-14-41-14-54-11-53-10-62-11-85-12-105-9-110 119 0 99-2 116-5 84-5 15 136 8 50 9 53 134-4 98-4 44-4 9 1-7 62-9 56-9 48-9 36-7 20-9 21-8 12-6 6-6 4-255 87-162 53z"/>
<path class="h2" d="M414 4047l-6 0 24-7 5-4 9-12 11-21 14-44 10-39 7-40-5 1-77 42-96 54-9-13-16-28-14-38-16-58-12-55-11-69-11-85-12-105-9-110 119 0 99-2 116-5 84-5 15 136 8 50 9 53 134-4 98-4 44-4 9 1-7 62-9 56-9 48-9 36-7 20-9 21-8 12-6 6-6 4-255 87-162 53z"/>
<path class="h3" d="M427 4044l-2 0 10-7 11-13 8-15 7-18 6-18 10-35 8-38 6-39-1 0-14 7-59 31-115 62-2 1-1-1-18-35-14-41-14-54-11-53-14-90-9-74-12-116-7-76 0-7 119 1 99-2 116-5 84-5 15 136 8 50 9 53 134-4 98-4 44-4 9 1-4 42-8 56-7 38-8 38-7 28-10 27-10 21-10 11-35 13-178 61z"/>
<path class="h4" d="M430 4043l-2-1 7-5 6-7 10-14 8-20 8-23 14-53 13-76-88 45-105 56-8 4-2-1-16-37-12-40-10-40-13-65-12-78-9-74-12-116-7-76 0-7 119 1 99-2 116-5 84-5 15 136 8 50 9 53 134-4 98-4 44-4 9 1-4 42-8 56-7 38-8 38-7 28-10 27-10 21-7 8-230 81z"/>
<path class="h5" d="M433 4040l-1 0 11-12 8-12 8-20 8-23 14-53 8-42 7-48-98 49-112 58-15-37-10-36-12-52-13-70-11-74-10-90-11-110-4-46 0-7 119 1 99-2 116-5 84-5 15 136 8 50 9 53 134-4 98-4 44-4 9 1-11 89-14 77-8 32-8 24-9 21-7 10-234 83z"/>
<path class="h6" d="M437 4036l0-1 9-11 8-15 7-18 10-32 14-59 13-84-1 0-68 34-147 75-1-1-14-39-12-45-10-44-11-66-9-62-12-109-11-113-2-31 119 1 99-2 116-5 84-5 15 136 8 50 9 53 134-4 98-4 44-4 9 1-11 89-14 77-8 32-8 24-9 21-4 5-215 77z"/>
<path class="h7" d="M443 4031l-2-1 10-14 10-25 6-18 10-35 12-60 10-74-1-1-24 12-175 89-21 11-1-1-10-29-12-45-10-44-11-66-9-62-12-109-11-113-2-31 119 1 99-2 116-5 84-5 15 136 8 50 9 53 134-4 98-4 44-4 9 1-11 89-12 67-11 46-7 20-9 20-217 78z"/>
<path class="h8" d="M446 4026l-1-1 9-16 7-18 6-18 10-35 12-60 12-87-1 0-15 7-211 106-1-1-10-32-10-40-11-53-10-62-11-85-8-72-11-113-2-31 119 1 99-2 116-5 84-5 15 136 8 50 9 53 134-4 98-4 44-4 9 1-11 89-12 67-11 46-7 20-6 15-243 87z"/>
<path class="h9" d="M449 4021l-1-1 9-17 10-30 12-44 12-67 12-83-1 0-16 7-55 27-161 81-1-1-8-29-12-52-17-96-11-85-8-72-11-113-2-31 119 1 99-2 116-5 84-5 15 136 8 50 9 53 134-4 98-4 44-4 9 1-7 62-12 74-12 54-10 32-4 9-241 87z"/>
<path class="h10" d="M452 4015l-1 0 8-19 8-23 14-53 12-71 11-82-237 117-12-44-10-44-9-54-8-54-15-129-11-113-2-31 119 1 99-2 116-5 84-5 15 136 8 50 9 53 134-4 98-4 44-4 9 1-7 62-12 74-12 54-10 32-2 3-199 72z"/>
<path class="h11" d="M455 4009l-1-1 7-17 10-32 14-59 10-64 10-80-107 51-133 67-2-1-8-33-10-44-9-54-8-54-15-129-11-113-2-31 119 1 99-2 116-5 84-5 15 136 8 50 9 53 134-4 98-4 44-4 9 1-7 62-12 74-12 54-8 26-2 3-248 90z"/>
<path class="h12" d="M458 4003l-1-1 4-11 10-32 14-59 14-92 8-64-140 68-105 53-1-1-8-33-10-46-15-97-15-129-11-113-2-31 119 1 99-2 116-5 84-5 15 136 8 50 9 53 134-4 98-4 44-4 9 1-7 62-11 67-9 45-7 28-4 10-194 71z"/>
<path class="h13" d="M460 3997l-1 0 8-24 10-35 12-60 10-70 9-74-12 5-217 106-19 10-1-1-6-23-11-53-17-110-16-142-9-104 0-7 119 1 99-2 116-5 84-5 15 136 8 50 9 53 134-4 98-4 44-4 9 1-7 62-9 56-9 48-6 24-5 16z"/>
<path class="h14" d="M462 3991l-1-1 6-17 10-35 12-60 10-70 10-86-253 123-7-33-9-46-15-98-16-142-9-104 0-7 119 1 99-2 116-5 84-5 15 136 8 50 9 53 134-4 98-4 44-4 9 1-7 62-9 56-9 48-9 33-215 80z"/>
<path class="h15" d="M464 3985l-1-1 4-11 10-35 12-60 10-70 12-96-257 124-5-24-9-46-15-98-16-142-9-104 0-7 119 1 99-2 116-5 84-5 15 136 8 50 9 53 134-4 98-4 44-4 9 1-7 62-9 56-9 48-7 27-227 84z"/>
<path class="h16" d="M467 3979l-2-1 6-19 8-30 12-67 10-70 10-90-1-1-30 15-228 111-3-15-9-46-15-98-16-142-9-104 0-7 119 1 99-2 116-5 84-5 15 136 8 50 8 43-1 3-14 7 132-3 104-5 56-4 9 1-7 62-9 56-9 48-5 19-1 2z"/>
<path class="h17" d="M468 3973l-1-2 4-12 10-39 12-71 12-89 8-69-75 35-188 91-5-21-9-54-15-111-14-133-7-76 0-7 119 1 99-2 116-5 84-5 15 136 8 50 6 36-33 17 47 0 105-3 104-5 56-4 9 1-4 42-8 56-11 58-5 21-1 3z"/>
<path class="h18" d="M470 3966l-1-2 12-44 12-71 12-89 9-80-266 129-14-79-13-99-14-133-7-76 0-7 119 1 99-2 116-5 84-5 14 126 13 87-52 26 68 0 85-2 98-4 82-6 9 1-4 42-8 56-7 38-8 37z"/>
<path class="h19" d="M473 3959l-2 0 0-2 6-19 8-38 10-64 12-87 8-79-269 129-12-69-13-99-14-133-7-76 0-7 119 1 99-2 116-5 84-5 14 126 12 78-71 35 88 0 85-2 98-4 82-6 9 1-4 42-8 56-7 38-6 30-1 1z"/>
<path class="h20" d="M473 3953l12-53 10-64 10-76 11-100-1 0-46 22-224 108-2-5-9-55-13-99-14-133-7-76 0-7 119 1 99-2 116-5 84-5 14 126 11 69-90 44 108 0 63-2 92-3 110-7 9 1-4 42-8 56-7 38-4 20-2 4z"/>
<path class="h21" d="M475 3947l-1-1 7-26 8-42 10-70 12-95 6-63-274 131-11-65-11-85-14-133-7-76 0-7 119 1 99-2 116-5 84-5 14 126 9 60-101 49-7 4 128 0 63-2 92-3 110-7 9 1-11 89-12 64z"/>
<path class="h22" d="M242 3773l-10-57-11-85-14-133-7-76 0-7 119 1 75-1 112-4 112-7 9 83 13 95-210 99zM476 3940l13-62 10-70 8-59 11-106 143 0 63-2 92-3 110-7 9 1-11 89-10 57z"/>
<path class="h23" d="M241 3763l-2-1-5-32-13-99-14-133-7-76 0-7 119 1 75-1 112-4 112-7 9 83 11 86-186 88zM478 3933l-1-1 12-54 10-70 8-59 11-106 143 0 63-2 92-3 110-7 9 1-8 66-12 73z"/>
<path class="h24" d="M239 3755l-1-1-6-38-13-102-12-116-7-76 0-7 119 1 75-1 112-4 112-7 9 83 10 78-210 99zM480 3927l-1-1 10-48 10-70 8-59 11-106 143 0 63-2 92-3 110-7 9 1-11 89-7 40-1 4z"/>
<path class="h25" d="M237 3746l-12-78-10-90-11-110-4-46 0-7 119 1 75-1 112-4 112-7 7 72 11 80-192 91zM481 3920l0-3 8-39 10-70 8-59 11-106 143 0 63-2 92-3 110-7 9 1-7 62-10 63z"/>
<path class="h26" d="M236 3737l-11-69-10-90-11-110-4-46 0-7 119 1 75-1 112-4 112-7 7 72 9 71-218 104zM484 3913l-2-1 0-2 9-48 10-70 17-149 143 0 63-2 92-3 110-7 9 1-8 66-8 52-1 1z"/>
<path class="h27" d="M235 3728l-1 0-1-3-5-37-13-110-11-110-4-46 0-7 119 1 75-1 112-4 112-7 7 72 8 59 0 3-1 1-177 84zM484 3906l-1 0 0-2 8-42 10-70 17-149 143 0 63-2 92-3 110-7 9 1-8 66-6 44-2 2z"/>
<path class="h28" d="M234 3719l-1 0-1-3-4-28-13-110-11-110-4-46 0-7 119 1 75-1 112-4 112-7 7 72 7 49 0 5-1 1-207 97zM485 3899l0-3 6-34 10-70 17-149 143 0 63-2 92-3 110-7 9 1-7 62-7 43z"/>
<path class="h29" d="M232 3711l-1-1 0-3-6-39-10-90-11-110-4-46 0-7 119 1 75-1 112-4 112-7 7 72 6 44-1 2-184 87zM486 3893l0-4 5-27 10-70 17-149 143 0 63-2 92-3 110-7 9 1-7 62-5 35-1 1z"/>
<path class="h30" d="M231 3702l-1 0-5-34-12-109-11-113-2-31 119 1 75-1 112-4 112-7 7 72 5 33 0 3-1 1zM488 3885l-1 0 0-3 8-46 10-76 13-117 143 0 63-2 92-3 110-7 9 1-7 62-4 27-1 2z"/>
<path class="h31" d="M230 3693l-1 0-4-25-12-109-11-113-2-31 119 1 75-1 112-4 112-7 7 72 4 28-1 1zM489 3879l-1-1 7-42 10-76 13-117 143 0 63-2 92-3 110-7 9 1-7 62-3 18-1 4z"/>
<path class="h32" d="M229 3685l-2-2-2-15-12-109-11-113-2-31 119 1 75-1 112-4 112-7 10 92-254 119zM490 3872l15-112 13-117 143 0 63-2 92-3 110-7 9 1-7 62-3 15z"/>
<path class="h33" d="M228 3676l-1 0-2-8-12-109-11-113-2-31 119 1 75-1 112-4 112-7 9 78 0 5-1 1-224 105zM492 3865l-1-1 0-2 8-54 8-59 11-106 143 0 63-2 92-3 110-7 9 1-4 42-5 27z"/>
<path class="h34" d="M226 3668l-13-109-11-113-2-31 119 1 75-1 112-4 112-7 8 72-1 3-233 110zM494 3857l-2 0 0-3 3-18 10-76 13-117 143 0 63-2 92-3 110-7 9 1-4 42-3 20-1 1z"/>
<path class="h35" d="M226 3659l-2-1-11-99-11-113-2-31 119 1 75-1 112-4 112-7 7 60-1 7zM494 3851l-1-1 6-42 8-59 11-106 143 0 63-2 92-3 110-7 9 1-6 52 0 3-2 1z"/>
<path class="h36" d="M224 3651l-5-37-10-88-9-104 0-7 119 1 75-1 112-4 112-7 6 58-231 108zM494 3844l0-4 5-32 8-59 11-106 143 0 63-2 92-3 110-7 9 1-4 42-1 4-2 3z"/>
<path class="h37" d="M223 3642l-1 0-1-11-8-72-11-113-2-31 119 1 75-1 112-4 112-7 5 49-219 103zM496 3837l-1-1 4-28 8-59 11-106 143 0 63-2 92-3 110-7 9 1-4 36 0 4-3 2z"/>
<path class="h38" d="M222 3633l-1-2-8-72-11-113-2-31 119 1 75-1 112-4 112-7 4 36 0 5-232 108zM498 3829l-2 0 0-2 11-78 11-106 143 0 63-2 92-3 110-7 9 1-3 31-1 3-1 1z"/>
<path class="h39" d="M222 3625l-2-1-7-65-11-113-2-31 119 1 75-1 112-4 112-7 3 33-244 114zM498 3823l-1-1 10-73 11-106 143 0 63-2 92-3 110-7 9 1-2 26-2 1z"/>
<path class="h40" d="M220 3617l-11-91-9-104 0-7 119 1 75-1 112-4 112-7 2 24-269 126zM499 3815l-1 0 0-2 9-64 11-106 143 0 63-2 92-3 110-7 9 1-1 15-2 5z"/>
<path class="h41" d="M219 3608l-1 0-9-82-9-104 0-7 119 1 75-1 112-4 112-7 1 16-193 90zM501 3808l-2 0 0-5 8-54 11-106 143 0 63-2 92-3 110-7 9 1-1 13z"/>
<path class="h42" d="M218 3599l-1 0 0-3-8-70-9-104 0-7 119 1 75-1 112-4 112-7 1 7-9 4-189 88zM500 3801l0-3 7-49 11-106 143 0 63-2 92-3 110-7 9 1 0 5-5 2z"/>
<path class="h43" d="M218 3591l-2-1-7-64-9-104 0-7 119 1 75-1 112-4 98-6 9 0zM502 3794l-1-1 6-44 11-106 143 0 63-2 92-3 115-6z"/>
<path class="h44" d="M216 3583l-9-85-7-76 0-7 119 1 75-1 82-3 106-6 9 0zM504 3787l-2-1 0-4 5-33 11-106 143 0 63-2 92-3 93-5z"/>
<path class="h45" d="M216 3574l-1 0-1-3-5-45-9-104 0-7 163 0 95-2 101-6 11 1zM503 3780l15-137 178-1 105-3 87-5z"/>
<path class="h46" d="M215 3565l-2 0-4-39-9-104 0-7 163 0 95-2 91-5zM504 3773l-1-1 4-23 11-106 178-1 170-6z"/>
<path class="h47" d="M213 3557l-9-89-4-46 0-7 163 0 165-5zM506 3765l-1 0 0-4 6-48 7-70 143 0 105-3 65-3 14 0z"/>
<path class="h48" d="M213 3549l-1-1-1-2-4-48-7-76 0-7 119 1 99-2 74-3 15 0zM506 3759l-1-4 6-42 7-70 143 0 164-5z"/>
<path class="h49" d="M213 3540l-2-1-9-93-2-31 119 1 167-4zM507 3751l-1-1 12-107 143 0 144-5z"/>
<path class="h50" d="M211 3532l-1 0-3-34-7-76 0-7 119 1 147-4zM508 3744l-1 0 11-101 143 0 106-4 16 1z"/>
<path class="h51" d="M210 3524l-8-78-2-31 119 1 127-3zM509 3737l-1-1 0-4 10-89 143 0 102-3z"/>
<path class="h52" d="M209 3515l-7-69-2-31 119 1 107-2zM510 3729l-1 0 0-3 9-83 143 0 63-2 19 0z"/>
<path class="h53" d="M209 3507l-2-3 0-6-7-76 0-7 119 1 87-2zM510 3723l8-80 205-1z"/>
<path class="h54" d="M208 3499l-1-1-5-52-2-31 119 1 67-1zM510 3715l8-72 143 0 43-1z"/>
<path class="h55" d="M206 3491l-6-69 0-7 119 1 48-1zM512 3708l-1-1 7-64 166-1z"/>
<path class="h56" d="M206 3482l-1 0-1-14-4-46 0-7 147 1zM512 3701l0-7 6-51 148-1z"/>
<path class="h57" d="M206 3473l-1 0-1-5-4-46 0-7 129 1zM514 3693l-1 0 0-5 5-45 127 0z"/>
<path class="h58" d="M204 3465l-4-43 0-7 109 1zM514 3686l-1 0 0-5 5-38 109 0z"/>
<path class="h59" d="M204 3457l-1-1 0-3-3-31 0-7 91 1zM516 3679l-2-1 0-3 4-32 91 0z"/>
<path class="h60" d="M203 3449l-3-27 0-7 72 1zM516 3671l-1 0 0-3 3-25 72 0z"/>
<path class="h61" d="M203 3440l-2-2-1-23 53 1zM516 3665l2-22 54 0z"/>
<path class="h62" d="M202 3432l-2-10 0-7 35 1zM516 3657l2-14 35 0z"/>
<path class="h63" d="M202 3423l-1 0-1-1 0-7 17 1zM517 3650l1-7 17 0z"/></g>
<path class="ax" d="M99.9 1707.8L99.9 1957.1L258.7 2070.6L467.8 1982.4M258.7 2070.6l4.1 2.9M258.7 2070.6l-4.6 1.9M363.2 2026.5l4.1 2.9M179.3 2013.8l-4.6 1.9M467.8 1982.4l4.1 2.9M99.9 1957.1l-4.6 1.9M99.9 1915.9l-4.6 1.9M99.9 1874.7l-4.6 1.9M99.9 1833.5l-4.6 1.9M99.9 1792.3l-4.6 1.9M99.9 1751.1l-4.6 1.9M99.9 1709.9l-4.6 1.9"/>
<text transform="translate(271.2 2103.6) scale(0.850 1)" style="font-size:23.7px">-10</text>
<text transform="translate(244.3 2101.6) scale(0.850 1)" text-anchor="end" style="font-size:23.7px">-10</text>
<text transform="translate(375.8 2059.5) scale(0.850 1)" style="font-size:23.7px">0</text>
<text transform="translate(164.9 2044.8) scale(0.850 1)" text-anchor="end" style="font-size:23.7px">0</text>
<text transform="translate(480.3 2015.4) scale(0.850 1)" style="font-size:23.7px">10</text>
<text transform="translate(85.5 1988.1) scale(0.850 1)" text-anchor="end" style="font-size:23.7px">10</text>
<text transform="translate(86.6 1917.9) scale(0.850 1)" text-anchor="end" style="font-size:23.7px">2</text>
<text transform="translate(86.6 1876.7) scale(0.850 1)" text-anchor="end" style="font-size:23.7px">4</text>
<text transform="translate(86.6 1835.5) scale(0.850 1)" text-anchor="end" style="font-size:23.7px">6</text>
<text transform="translate(86.6 1794.3) scale(0.850 1)" text-anchor="end" style="font-size:23.7px">8</text>
<text transform="translate(86.6 1753.1) scale(0.850 1)" text-anchor="end" style="font-size:23.7px">10</text>
<text transform="translate(86.6 1711.9) scale(0.850 1)" text-anchor="end" style="font-size:23.7px">12</text>
<text transform="translate(376.8 2117.1) scale(0.850 1)" style="font-size:23.7px">x<tspan dy="15" style="font-size:21px">1</tspan></text>
<text transform="translate(132.0 2111.6) scale(0.850 1)" style="font-size:23.7px">x<tspan dy="17" style="font-size:21px">2</tspan></text>
<text transform="translate(38.3 1916.1) scale(0.830 1) rotate(-90)" style="font-size:27.0px">F29( x<tspan dy="9" style="font-size:21px">1</tspan><tspan dy="-9"> , x</tspan><tspan dy="9" style="font-size:21px">2</tspan><tspan dy="-9"> )</tspan></text>
<text transform="translate(41.3 1677.0) scale(0.850 1)" style="font-size:25.8px">&#215;10<tspan dy="-0.56em" style="font-size:0.75em">5</tspan></text>
<text transform="translate(283.3 1611.0) scale(0.927 1)" text-anchor="middle" style="font-size:25.8px;font-weight:bold;fill:#000">Parameter space</text></g>
<g id="F31"><path class="g3" d="M1088.9 1956.9L1088.9 1710.6M1447.1 1983.1L1447.1 1736.8M1244.3 2069.9L1088.9 1956.9M1244.3 2069.9L1447.1 1983.1M1190.3 1913.5L1190.3 1667.2M1369.4 1926.6L1369.4 1680.3M1345.7 2026.5L1190.3 1913.5M1166.6 2013.4L1369.4 1926.6M1291.7 1870.1L1291.7 1623.8M1291.7 1870.1L1291.7 1623.8M1447.1 1983.1L1291.7 1870.1M1088.9 1956.9L1291.7 1870.1M1088.9 1874.8L1291.7 1788.0M1291.7 1788.0L1447.1 1901.0M1088.9 1792.7L1291.7 1705.9M1291.7 1705.9L1447.1 1818.9M1088.9 1710.6L1291.7 1623.8M1291.7 1623.8L1447.1 1736.8M1291.7 1870.1L1291.7 1623.8M1447.1 1983.1L1447.1 1736.8"/>
<path class="g3" d="M1088.9 1956.9L1291.7 1870.1L1447.1 1983.1"/>
<g class="ct" transform="scale(.5)"><path class="k10" d="M2342 3877 2344 3877 2347 3876 2350 3875 2353 3874 2355 3873 2358 3872 2361 3872 2364 3871 2367 3870 2370 3869 2373 3869 2376 3868 2380 3867 2382 3867 2386 3866 2389 3865 2392 3865 2396 3864 2399 3864 2402 3863 2406 3863 2409 3862 2412 3862 2416 3861 2419 3861 2423 3860 2426 3860 2430 3860 2433 3859 2437 3859 2440 3859 2443 3858 2448 3858 2451 3858 2455 3858 2459 3857 2462 3857 2466 3857 2470 3857 2474 3857 2478 3857 2482 3857 2485 3856 2490 3856 2493 3856 2497 3856 2501 3856 2506 3856 2510 3856 2514 3857 2518 3857 2521 3857 2526 3857 2531 3857 2535 3857 2539 3857 2544 3858 2548 3858 2552 3858 2557 3859 2561 3859 2566 3859 2571 3860 2575 3860 2580 3861 2584 3861 2588 3862 2592 3862 2596 3863 2599 3863 2604 3864 2608 3864 2612 3865 2616 3865 2619 3866 2624 3867 2627 3867 2631 3868 2635 3869 2638 3869 2642 3870 2646 3871 2649 3871 2652 3872 2656 3873 2660 3874 2663 3874 2666 3875 2670 3876 2673 3877 2676 3878 2679 3879 2682 3879 2686 3880 2689 3881 2692 3882 2695 3883 2698 3884 2701 3885 2704 3886 2707 3887 2710 3888 2713 3889 2715 3890 2718 3891 2721 3892 2724 3893 2726 3894 2729 3896 2732 3897 2734 3898 2737 3899 2739 3900 2742 3901 2744 3903 2746 3904 2749 3905 2751 3906 2753 3907 2755 3909 2758 3910 2760 3912 2762 3913 2764 3914 2766 3916 2768 3917 2769 3919 2771 3920 2773 3922 2775 3923 2776 3925 2778 3926 2779 3928 2781 3930 2782 3931 2784 3935 2786 3937 2787 3940 2789 3944 2790 3948 2790 3952 2790 3957 2789 3960 2788 3962 2787 3965 2786 3967 2785 3969 2783 3971 2782 3972 2780 3974 2779 3976 2777 3978 2775 3979 2773 3981 2771 3982 2769 3984 2767 3985 2765 3987 2763 3988 2761 3989 2759 3990 2756 3992 2754 3993 2751 3994 2749 3995 2747 3996 2744 3998 2741 3999 2739 4000 2736 4001 2733 4002 2731 4003 2728 4003 2725 4004 2722 4005 2719 4006 2717 4007 2714 4008 2711 4008 2708 4009 2705 4010 2702 4011 2699 4011 2696 4012 2692 4013 2690 4013 2686 4014 2683 4015 2680 4015 2676 4016 2673 4016 2670 4017 2666 4017 2663 4018 2660 4018 2656 4019 2653 4019 2649 4020 2646 4020 2642 4020 2639 4021 2635 4021 2632 4021 2629 4022 2624 4022 2621 4022 2617 4022 2613 4023 2610 4023 2606 4023 2602 4023 2598 4023 2594 4023 2590 4023 2587 4024 2582 4024 2579 4024 2575 4024 2571 4024 2566 4024 2562 4024 2558 4023 2554 4023 2551 4023 2546 4023 2541 4023 2537 4023 2533 4023 2528 4022 2524 4022 2520 4022 2515 4021 2511 4021 2506 4021 2501 4020 2497 4020 2492 4019 2488 4019 2484 4018 2480 4018 2476 4017 2473 4017 2468 4016 2464 4016 2460 4015 2456 4015 2453 4014 2448 4013 2445 4013 2441 4012 2437 4011 2434 4011 2430 4010 2426 4009 2423 4009 2420 4008 2416 4007 2412 4006 2409 4006 2406 4005 2402 4004 2399 4003 2396 4002 2393 4001 2390 4001 2386 4000 2383 3999 2380 3998 2377 3997 2374 3996 2371 3995 2368 3994 2365 3993 2362 3992 2359 3991 2357 3990 2354 3989 2351 3988 2348 3987 2346 3986 2343 3984 2340 3983 2338 3982 2335 3981 2333 3980 2330 3979 2328 3977 2326 3976 2323 3975 2321 3974 2319 3973 2317 3971 2314 3970 2312 3968 2310 3967 2308 3966 2306 3964 2304 3963 2303 3961 2301 3960 2299 3958 2297 3957 2296 3955 2294 3954 2293 3952 2291 3950 2290 3949 2288 3945 2286 3943 2285 3940 2283 3936 2282 3932 2282 3928 2282 3923 2283 3920 2284 3918 2285 3915 2286 3913 2287 3911 2289 3909 2290 3908 2292 3906 2293 3904 2295 3902 2297 3901 2299 3899 2301 3898 2303 3896 2305 3895 2307 3893 2309 3892 2311 3891 2313 3890 2316 3888 2318 3887 2321 3886 2323 3885 2325 3884 2328 3882 2331 3881 2333 3880 2336 3879 2339 3878 2341 3877 2342 3877"/>
<path class="k21" d="M2691 4053 2688 4053 2684 4054 2681 4054 2678 4054 2674 4055 2670 4055 2666 4055 2663 4056 2659 4056 2655 4056 2652 4056 2648 4057 2644 4057 2641 4057 2637 4057 2633 4057 2629 4058 2625 4058 2621 4058 2618 4058 2614 4058 2610 4058 2606 4058 2602 4058 2598 4058 2594 4058 2590 4058 2586 4058 2582 4058 2578 4058 2574 4058 2570 4058 2565 4058 2561 4058 2557 4058 2553 4058 2550 4058 2545 4057 2540 4057 2536 4057 2531 4057 2527 4057 2523 4056 2518 4056 2514 4056 2509 4055 2505 4055 2500 4055 2496 4054 2491 4054 2487 4054 2482 4053 2477 4053 2473 4052 2469 4052 2465 4051 2461 4051 2457 4050 2454 4050 2449 4049 2444 4049 2440 4048 2437 4048 2434 4047 2429 4047 2425 4046 2421 4045 2417 4045 2413 4044 2410 4043 2406 4043 2403 4042 2399 4041 2395 4041 2392 4040 2388 4039 2384 4039 2381 4038 2377 4037 2373 4037 2370 4036 2366 4035 2364 4034 2360 4033 2356 4033 2353 4032 2350 4031 2346 4030 2343 4029 2340 4029 2336 4028 2333 4027"/>
<path class="k21" d="M2381 3827 2384 3827 2388 3826 2391 3826 2394 3826 2398 3825 2402 3825 2406 3825 2409 3824 2413 3824 2417 3824 2420 3824 2424 3823 2428 3823 2431 3823 2435 3823 2439 3823 2443 3822 2447 3822 2451 3822 2454 3822 2458 3822 2462 3822 2466 3822 2470 3822 2474 3822 2478 3822 2482 3822 2486 3822 2490 3822 2494 3822 2498 3822 2502 3822 2507 3822 2511 3822 2515 3822 2519 3822 2522 3822 2527 3823 2532 3823 2536 3823 2541 3823 2545 3823 2549 3824 2554 3824 2558 3824 2563 3825 2567 3825 2572 3825 2576 3826 2581 3826 2585 3826 2590 3827 2595 3827 2599 3828 2603 3828 2607 3829 2611 3829 2615 3830 2618 3830 2623 3831 2628 3831 2632 3832 2635 3832 2638 3833 2643 3833 2647 3834 2651 3835 2655 3835 2659 3836 2662 3837 2666 3837 2669 3838 2673 3839 2677 3839 2680 3840 2684 3841 2688 3841 2691 3842 2695 3843 2699 3843 2702 3844 2706 3845 2708 3846 2712 3847 2716 3847 2719 3848 2722 3849 2726 3850 2729 3851 2732 3851 2736 3852 2739 3853"/>
<path class="k32" d="M2617 4085 2612 4085 2606 4085 2602 4085 2598 4085 2594 4085 2591 4085 2586 4085 2582 4085 2578 4085 2574 4085 2571 4085 2566 4084 2561 4084 2557 4084 2553 4084 2549 4084 2544 4084 2541 4084 2537 4083 2532 4083 2527 4083 2523 4083 2518 4082 2514 4082 2509 4082 2505 4081 2501 4081 2496 4081 2492 4080 2487 4080 2482 4080 2478 4079 2474 4079 2469 4078 2465 4078 2461 4078 2457 4077 2453 4077 2450 4076 2445 4076 2440 4075 2436 4075 2432 4074 2428 4074 2424 4073 2421 4073 2416 4072 2412 4072 2408 4071 2405 4071 2400 4070 2397 4069 2393 4069 2390 4068"/>
<path class="k32" d="M2455 3795 2460 3795 2466 3795 2470 3795 2474 3795 2478 3795 2481 3795 2486 3795 2490 3795 2494 3795 2498 3795 2501 3795 2506 3796 2511 3796 2515 3796 2519 3796 2523 3796 2528 3796 2531 3796 2535 3797 2540 3797 2545 3797 2549 3797 2554 3798 2558 3798 2563 3798 2567 3799 2571 3799 2576 3799 2580 3800 2585 3800 2590 3800 2594 3801 2598 3801 2603 3802 2607 3802 2611 3802 2615 3803 2619 3803 2622 3804 2627 3804 2632 3805 2636 3805 2640 3806 2644 3806 2648 3807 2651 3807 2656 3808 2660 3808 2664 3809 2667 3809 2672 3810 2675 3811 2679 3811 2682 3812"/>
<path class="k42" d="M2566 4107 2561 4106 2556 4106 2551 4106 2547 4106 2542 4106 2538 4106 2534 4105 2530 4105 2525 4105 2521 4105 2516 4104 2512 4104 2508 4104 2503 4104 2500 4103 2496 4103 2491 4103 2487 4102 2483 4102 2478 4102 2474 4101 2470 4101 2465 4100 2462 4100 2458 4100 2453 4099 2448 4099 2444 4098 2440 4098 2436 4097 2432 4097 2429 4097"/>
<path class="k42" d="M2506 3773 2511 3774 2516 3774 2521 3774 2525 3774 2530 3774 2534 3774 2538 3775 2542 3775 2547 3775 2551 3775 2556 3776 2560 3776 2564 3776 2569 3776 2572 3777 2576 3777 2581 3777 2585 3778 2589 3778 2594 3778 2598 3779 2602 3779 2607 3780 2610 3780 2614 3780 2619 3781 2624 3781 2628 3782 2632 3782 2636 3783 2640 3783 2643 3783"/>
<path class="k53" d="M2525 4124 2520 4124 2515 4124 2511 4124 2506 4123 2502 4123 2497 4123 2493 4122 2488 4122 2484 4122 2479 4121 2475 4121 2470 4121 2466 4120 2462 4120 2461 4120"/>
<path class="k53" d="M2547 3756 2552 3756 2557 3756 2561 3756 2566 3757 2570 3757 2575 3757 2579 3758 2584 3758 2588 3758 2593 3759 2597 3759 2602 3759 2606 3760 2610 3760 2611 3760"/></g>
<g class="sf" transform="scale(.5)"><path class="h0" d="M2570 3961l-30 0-33-2-26-4-32-8-34-10-19-8-29-12-26-14-29-16-26-18-26-18-18-14-14-15-20-24-17-25-13-23 2 0 6 3 19 4 11 2 19 0 26-5 19-7 24-12 27-20 28-27 19-22 25-33 25-37 26-45 25-49 26-55 28-64 31-81 19-53 1 0 19 75 19 65 21 67 18 53 18 51 19 46 21 45 21 41 25 39 14 19 21 23 16 14 19 11 17 6 12 2 12 0 12-2 3-1 2 0-18 22-20 20-18 15-39 27-29 16-25 13-49 21-37 11-45 9z"/>
<path class="h1" d="M2570 3961l-30 0-33-2-26-4-32-8-34-10-19-8-29-12-26-14-29-16-26-18-26-18-18-14-14-15-20-24-17-25-13-23 2 0 6 3 19 4 11 2 19 0 26-5 19-7 24-12 27-20 28-27 19-22 25-33 25-37 26-45 25-49 26-55 28-64 31-81 19-53 1 0 19 75 19 65 21 67 18 53 18 51 19 46 21 45 21 41 25 39 14 19 21 23 16 14 19 11 17 6 12 2 12 0 12-2 3-1 2 0-18 22-20 20-18 15-39 27-29 16-25 13-49 21-37 11-45 9z"/>
<path class="h2" d="M2570 3961l-30 0-33-2-26-4-32-8-34-10-19-8-29-12-26-14-29-16-26-18-26-18-18-14-14-15-20-24-17-25-13-23 2 0 6 3 19 4 11 2 19 0 26-5 19-7 24-12 27-20 28-27 19-22 25-33 25-37 26-45 25-49 26-55 28-64 31-81 19-53 1 0 19 75 19 65 21 67 18 53 18 51 19 46 21 45 21 41 25 39 14 19 21 23 16 14 19 11 17 6 12 2 12 0 12-2 3-1 2 0-18 22-20 20-18 15-39 27-29 16-25 13-49 21-37 11-45 9z"/>
<path class="h3" d="M2570 3961l-28 0-35-2-26-4-32-8-34-10-19-8-29-12-26-14-29-16-26-18-26-18-18-14-14-15-20-24-17-25-13-23 2 0 6 3 19 4 11 2 19 0 26-5 19-7 24-12 27-20 28-27 19-22 25-33 25-37 26-45 25-49 26-55 28-64 31-81 19-53 1 0 19 75 19 65 21 67 18 53 18 51 19 46 21 45 21 41 25 39 14 19 21 23 16 14 19 11 17 6 12 2 12 0 12-2 3-1 2 0-18 22-20 20-18 15-39 27-29 16-25 13-49 21-37 11-45 9z"/>
<path class="h4" d="M2567 3961l-35-1-30-3-30-4-23-6-34-10-19-8-29-12-26-14-29-16-26-18-26-18-18-14-14-15-20-24-17-25-13-23 2 0 6 3 19 4 11 2 19 0 26-5 19-7 24-12 27-20 28-27 19-22 25-33 25-37 26-45 25-49 26-55 28-64 31-81 19-53 1 0 19 75 19 65 21 67 18 53 18 51 19 46 21 45 21 41 25 39 14 19 21 23 16 14 19 11 17 6 12 2 12 0 12-2 3-1 2 0-18 22-20 20-18 15-39 27-29 16-25 13-49 21-37 11-22 5-24 4z"/>
<path class="h5" d="M2582 3959l-42 0-22-2-34-4-29-5-26-7-21-7-32-13-26-13-50-29-38-26-20-16-14-15-20-24-17-25-13-23 2 0 6 3 19 4 11 2 19 0 26-5 19-7 24-12 27-20 28-27 19-22 25-33 25-37 26-45 25-49 26-55 28-64 31-81 19-53 1 0 19 75 19 65 21 67 18 53 18 51 19 46 21 45 21 41 25 39 14 19 21 23 16 14 19 11 17 6 12 2 12 0 12-2 3-1 2 0-18 22-20 20-18 15-39 27-40 22-24 12-28 12-40 13-40 9zM2701 3892l-9-8-10-7-19-8-16-5 25 16 18 9 10 3z"/>
<path class="h6" d="M2579 3957l-30 0-35-2-34-4-33-6-26-7-25-9-46-21-50-29-38-26-20-16-14-15-20-24-17-25-13-23 2 0 6 3 19 4 11 2 19 0 26-5 19-7 24-12 27-20 28-27 19-22 25-33 25-37 26-45 25-49 26-55 28-64 31-81 19-53 1 0 19 75 19 65 21 67 18 53 18 51 19 46 21 45 21 41 25 39 14 19 21 23 16 14 19 11 17 6 12 2 12 0 12-2 3-1 2 0-18 22-20 20-18 15-39 27-29 16-25 13-49 21-33 10-43 7zM2725 3897l-3-8-10-11-18-11-24-11-18-6-22-6-8-1 14 13 14 11 22 13 10 5 18 7 16 4z"/>
<path class="h7" d="M2582 3954l-31 0-37-2-26-3-34-5-30-7-28-8-20-8-26-13-50-29-38-26-20-16-14-15-20-24-17-25-13-23 2 0 6 3 19 4 11 2 19 0 26-5 19-7 24-12 27-20 28-27 19-22 25-33 25-37 26-45 25-49 26-55 28-64 31-81 19-53 1 0 19 75 19 65 21 67 18 53 18 51 19 46 21 45 21 41 25 39 14 19 21 23 16 14 19 11 17 6 12 2 12 0 12-2 3-1 2 0-18 22-20 20-18 15-39 27-29 16-25 13-44 19-31 9-40 7zM2742 3898l-1-8-2-5-6-9-9-8-14-9-20-10-22-8-38-10-21-4-3 0 8 9 22 20 14 11 22 13 15 7 17 6 20 4zM2336 3862l18-9 13-9 8-7-9 3-16 8-7 5-7 7z"/>
<path class="h8" d="M2594 3951l-65-1-26-2-37-5-22-4-32-7-26-8-24-10-27-14-35-21-38-26-20-16-14-15-20-24-17-25-13-23 2 0 6 3 19 4 11 2 19 0 26-5 19-7 24-12 27-20 28-27 19-22 25-33 25-37 26-45 25-49 26-55 28-64 31-81 19-53 1 0 11 45 27 95 21 67 18 53 18 51 19 46 21 45 21 41 25 39 14 19 21 23 16 14 19 11 17 6 12 2 12 0 12-2 3-1 2 0-18 22-20 20-18 15-39 27-29 16-25 13-35 15-33 10-40 6zM2747 3898l7-1 1-1 1-10-4-11-10-12-20-14-24-12-39-12-39-9-27-4 21 24 22 20 14 11 22 13 18 9 22 6 20 3zM2321 3866l15-4 18-9 22-16 19-20-15 3-18 6-14 6-11 6-8 6-6 6-4 6-3 10z"/>
<path class="h9" d="M2597 3947l-68 0-33-3-31-4-30-5-33-8-28-9-21-9-27-14-26-16-38-26-20-16-14-15-20-24-17-25-13-23 2 0 6 3 19 4 11 2 19 0 26-5 19-7 24-12 27-20 28-27 19-22 25-33 25-37 26-45 25-49 26-55 28-64 31-81 19-53 1 0 11 45 27 95 21 67 18 53 18 51 19 46 21 45 21 41 25 39 14 19 21 23 16 14 19 11 17 6 12 2 12 0 12-2 3-1 2 0-18 22-20 20-18 15-39 27-29 16-25 13-32 13-33 9-33 5zM2747 3898l19-3 3-9 0-8-1-5-7-11-10-11-17-11-12-7-21-8-36-12-43-9-36-5-4 0 19 23 25 25 24 20 17 10 15 8 22 8 20 4zM2315 3866l12-1 9-3 13-6 13-8 14-11 13-14 18-21-17 2-26 7-22 8-18 10-12 9-6 8-3 7 0 13z"/>
<path class="h10" d="M2594 3944l-44 0-28-1-61-7-37-7-27-6-32-10-21-9-18-9-26-16-38-26-20-16-14-15-20-24-17-25-13-23 2 0 6 3 19 4 11 2 19 0 26-5 19-7 24-12 27-20 28-27 19-22 25-33 25-37 26-45 25-49 26-55 28-64 31-81 19-53 1 0 11 45 27 95 21 67 18 53 18 51 19 46 21 45 21 41 25 39 14 19 21 23 16 14 19 11 17 6 12 2 12 0 12-2 3-1 2 0-18 22-20 20-18 15-39 27-29 16-23 12-30 12-33 8-47 6zM2747 3898l12-1 17-4 3-6 3-9-1-10-4-10-13-14-12-9-28-15-19-7-30-10-52-11-37-5-15-1 20 25 23 25 22 20 24 17 22 12 22 8 20 4zM2315 3866l15-2 12-5 12-6 13-9 9-7 19-20 22-29-3-1-21 4-37 8-24 9-14 7-10 7-10 9-5 8-3 9 0 6 1 6 3 5 9 2z"/>
<path class="h11" d="M2604 3940l-74-1-41-3-39-5-35-7-29-7-28-9-24-10-18-9-30-20-26-18-18-14-14-15-20-24-17-25-13-23 2 0 6 3 19 4 11 2 19 0 26-5 19-7 24-12 27-20 28-27 19-22 25-33 25-37 26-45 25-49 26-55 28-64 31-81 19-53 1 0 11 45 27 95 21 67 18 53 18 51 19 46 21 45 21 41 25 39 14 19 21 23 16 14 19 11 17 6 12 2 12 0 12-2 3-1 2 0-18 22-20 20-18 15-39 27-29 16-20 10-29 10-31 8-47 6zM2747 3898l22-3 15-5 5-6 4-7 1-13-4-12-7-10-15-13-16-10-20-9-18-7-35-11-57-12-39-5-20-1 19 26 19 22 25 25 24 20 22 13 10 5 18 7 24 5zM2315 3866l15-2 12-5 12-6 17-12 18-18 9-10 15-20 12-19-13 1-29 5-38 9-23 9-15 7-13 9-8 8-7 12-1 6 1 12 3 6 4 5 17 4z"/>
<path class="h12" d="M2580 3937l-37-1-41-3-66-8-32-7-33-9-24-8-23-9-18-9-20-14-26-18-18-14-14-15-20-24-17-25-13-23 2 0 6 3 19 4 11 2 19 0 26-5 19-7 24-12 27-20 28-27 19-22 25-33 25-37 26-45 25-49 26-55 28-64 31-81 19-53 1 0 19 75 19 65 21 67 18 53 18 51 19 46 21 45 21 41 25 39 14 19 21 23 16 14 19 11 17 6 12 2 12 0 12-2 3-1 2 0-18 22-20 20-18 15-39 27-23 13-19 9-35 12-43 8-48 6zM2747 3898l22-3 24-8 10-13 2-9 0-9-2-7-4-9-7-8-14-11-16-10-22-11-34-13-26-7-40-9-24-4-32-4-30-2 23 33 24 28 25 25 24 20 22 13 10 5 18 7 24 5zM2315 3866l15-2 12-5 20-11 14-11 13-14 17-20 27-41-31 3-24 4-39 9-16 5-19 8-10 6-14 10-8 10-5 10 0 12 4 13 4 6 5 3 18 5z"/>
<path class="h13" d="M2608 3932l-77-1-42-3-41-5-34-6-36-9-50-17-28-13-10-6-28-19-20-16-14-15-20-24-17-25-13-23 2 0 6 3 19 4 11 2 19 0 26-5 19-7 24-12 27-20 28-27 19-22 25-33 25-37 26-45 25-49 26-55 28-64 31-81 19-53 1 0 11 45 27 95 21 67 18 53 18 51 19 46 21 45 21 41 25 39 14 19 21 23 16 14 19 11 17 6 12 2 12 0 12-2 3-1 2 0-18 22-31 30-15 11-26 17-19 12-14 7-30 11-42 10-43 6zM2315 3866l15-2 12-5 20-11 14-11 13-14 19-23 17-25 15-25-18 1-32 4-33 6-19 4-21 7-19 8-12 6-13 9-11 12-5 11-2 7 1 8 5 11 4 7 7 6 8 4 18 5zM2747 3898l22-3 24-8 8-4 7-7 7-12 2-12-2-10-4-8-7-8-16-14-22-13-23-11-30-11-23-6-38-9-36-6-38-5-24-2-7 1 18 28 31 38 30 31 24 20 22 13 10 5 18 7 24 5z"/>
<path class="h14" d="M2604 3928l-51 0-55-3-54-7-43-8-46-12-37-13-30-15-23-16 1 0 14 7 11 4 12 2 12 0 21-5 18-9 22-16 13-14 17-20 23-33 14-26 3-6-18 1-36 4-50 9-36 11-14 6-19 10-10 7-9 9-5 7-4 10 0 12 2 7 5 9 11 13-21-16-23-25-20-28-21-34 2 0 6 3 19 4 11 2 19 0 26-5 19-7 24-12 27-20 28-27 19-22 25-33 25-37 26-45 25-49 26-55 28-64 31-81 19-53 1 0 11 45 27 95 21 67 18 53 18 51 19 46 21 45 21 41 25 39 14 19 21 23 16 14 19 11 17 6 12 2 12 0 12-2 3-1 2 0-18 22-27 26-19 15-21 13 9-9 7-10 3-8-1-14-5-11-5-8-14-12-21-14-20-10-23-10-27-8-33-9-33-7-39-6-67-6 6 11 20 30 17 22 19 22 13 14 22 20 14 11 22 13 18 9 22 6 20 3 14 0 13-1 17-4 17-6 14-8 1 1-14 9-20 10-18 6-24 7-28 6-25 4-38 4z"/>
<path class="h15" d="M2591 3924l-47-1-50-3-49-6-47-9-40-10-38-12-34-16-21-13 1 0 14 7 11 4 12 2 12 0 21-5 13-6 13-8 14-11 13-14 19-23 27-40 17-34-51 4-25 3-32 6-24 6-20 7-20 8-11 6-14 9-9 9-6 8-5 11 0 10 2 11 6 9 9 11-10-7-14-15-14-16-17-24-19-32 2 0 6 3 19 4 11 2 19 0 26-5 19-7 24-12 27-20 28-27 19-22 25-33 25-37 26-45 25-49 26-55 28-64 31-81 19-53 1 0 11 45 27 95 21 67 18 53 18 51 19 46 21 45 21 41 25 39 14 19 21 23 16 14 19 11 17 6 12 2 12 0 12-2 3-1 2 0-18 22-20 20-18 15-17 12 13-16 4-10 0-10-2-10-9-14-10-11-18-12-15-9-23-11-32-11-22-7-34-8-35-6-38-6-67-5 0 1 13 21 20 30 17 22 19 22 13 14 22 20 14 11 22 13 18 9 22 6 20 3 14 0 13-1 17-4 17-6 14-8 1 1-18 10-18 7-24 8-24 6-34 6-28 3-33 3z"/>
<path class="h16" d="M2604 3919l-46 0-51-2-50-6-35-5-39-8-40-11-39-14-29-13 2-1 11 5 10 2 22 0 10-2 12-5 20-11 14-11 13-14 17-20 19-28 22-38 11-22-43 2-44 6-35 6-30 8-16 6-2 0 16-8 27-20 12-11 23-24 20-24 17-23 17-25 20-32 33-62 38-79 40-97 32-89 1 0 11 45 24 84 24 78 29 84 26 66 28 60 28 49 14 21 14 18 11 12 16 15-1 0-11-7-17-9-21-8-31-11-38-10-42-9-36-5-44-5-42-2 8 15 23 36 31 41 26 29 22 20 14 11 17 10 15 8 14 6 16 4 20 3 14 0 26-4-37 11-36 6-38 5zM2236 3831l-13-14-15-19-17-25-13-23 20 6 18 3 26-1 27-6-13 7-11 8-11 11-6 9-3 13 0 8 3 9 9 13zM2832 3864l-1 0 8-10 6-9 2-7 0-8-1-8-5-10-8-12-9-8 19 9 15 4 18 1 12-2 3-1 2 0-18 22-20 20z"/>
<path class="h17" d="M2610 3915l-55 0-30-2-41-3-56-7-38-8-38-9-38-12-23-9 12 2 12 0 21-5 18-9 22-16 22-24 15-20 12-18 22-38 16-32 0-1-11 0-55 4-35 5-34 7-3 0 18-16 16-16 32-38 29-42 34-57 35-69 30-67 35-86 29-80 1 0 23 87 30 103 24 70 23 63 28 65 21 41 21 37 14 21 14 17 0 1-2-1-24-10-25-8-38-10-29-6-26-4-46-6-40-4-33-1 26 44 32 46 24 28 31 30 28 21 27 14 13 5 16 4 16 2 13 0-22 5-34 6-40 4zM2220 3813l-23-31-19-32 27 7 30 2-8 7-5 6-6 14-1 12zM2844 3855l-1-1 8-10 4-7 2-8-1-12-5-13 13 2 12 0 17-3-1 2-17 20z"/>
<path class="h18" d="M2613 3910l-58 0-30-1-35-3-40-5-38-6-39-8-33-8-35-12 10 0 12-2 22-9 18-12 22-21 19-23 21-30 18-33 22-43-1-1-21 0-40 3-35 4-31 5 18-17 12-13 32-42 25-37 35-62 32-64 30-68 29-73 29-80 1 0 19 75 28 94 24 76 21 57 22 55 21 45 24 45 11 19 14 20-1 1-29-10-34-9-65-13-67-8-43-3-16 1 21 36 31 48 31 38 30 31 24 20 17 10 15 8 22 8 16 4 11 1-20 3-37 5zM2207 3796l-16-23-13-23 20 6 18 2 1 1-5 6-5 10-1 6zM2858 3842l-1-1 6-8 3-11 0-9-2-7 18-1 11-2-12 15z"/>
<path class="h19" d="M2613 3905l-55 0-32-1-42-3-34-4-70-12-30-8-35-10 1-1 11-1 9-3 18-9 22-16 19-20 18-24 22-33 12-23 26-52 0-3-41 1-41 4-35 4 19-21 16-20 29-42 27-45 26-49 26-52 29-68 26-65 29-80 1 0 19 75 28 94 24 76 17 46 26 66 21 45 21 41 18 28-2 1-27-9-29-7-60-12-35-4-42-4-35-2-21 0 19 34 31 49 25 34 31 35 27 24 27 18 23 12 14 4 11 3-15 3-30 3zM2197 3781l-19-31 25 7-5 11zM2870 3829l5-12 0-11 18-3-8 10z"/>
<path class="h20" d="M2610 3901l-67-1-77-6-66-10-38-8-38-10 0-1 12-3 13-6 18-12 22-21 17-20 19-28 18-31 22-43 13-28 0-2-47 2-64 5 24-28 29-42 27-45 26-49 26-52 29-68 26-65 29-80 1 0 19 75 23 78 17 54 24 72 20 50 25 59 21 41 16 28-1 1-17-6-36-8-64-12-69-7-61-2 18 32 26 44 32 46 24 28 25 25 24 20 17 10 15 8 22 8-8 2-34 3zM2188 3767l-10-17 13 4zM2882 3817l2-12 9-2z"/>
<path class="h21" d="M2598 3896l-76-2-66-6-64-10-28-6-32-8 0-1 17-7 18-12 22-21 17-20 19-28 18-31 22-43 17-37 0-3-35 0-69 5 25-33 25-37 26-45 25-49 26-55 28-64 31-81 19-53 1 0 11 45 27 95 21 67 18 53 23 63 19 44 23 50 15 27-65-15-56-9-71-6-28-2-25 1 23 42 26 44 20 30 26 33 23 25 26 23 14 10 18 11 22 10-9 1-32 3zM2180 3754l-2-4 3 1z"/>
<path class="h22" d="M2620 3891l-62 0-42-2-40-4-72-10-38-7-28-7 16-8 22-16 19-20 18-24 16-23 18-33 23-46 17-40-35 0-40 2-18 2-7-1 21-28 32-50 23-42 26-52 22-47 22-52 31-81 19-53 1 0 11 45 27 95 21 67 18 53 18 51 19 46 21 45 15 29 0 1-20-6-46-9-54-8-69-6-31-1-23 0 18 35 25 44 28 43 26 34 25 28 23 21 24 17 25 13z"/>
<path class="h23" d="M2727 3668l-21-5-46-9-48-7-42-4-68-3-40 0-66 3 24-35 25-40 18-34 26-52 22-47 22-52 31-81 19-53 1 0 11 45 27 95 33 105 21 57 17 42 19 44 15 30zM2607 3886l-73-1-61-5-76-11-37-7-15-4 17-10 14-11 19-20 18-24 16-23 18-33 23-46 18-43 1 0 20 38 25 44 23 36 25 34 19 22 25 25 24 20 26 15-30 3z"/>
<path class="h24" d="M2720 3655l-28-6-42-7-41-5-43-4-52-3-68 0-43 2 22-31 22-38 26-49 22-44 24-55 27-65 37-101 1 0 11 45 27 95 33 105 32 84 18 44 14 28zM2622 3881l-60 0-78-5-70-9-47-8-16-5 11-6 14-11 19-20 18-24 16-23 18-33 18-36 22-51 2-2 20 38 25 44 23 36 25 34 19 22 25 25 24 20 18 11-4 1z"/>
<path class="h25" d="M2715 3644l-20-5-43-7-40-5-43-4-73-4-85 2 17-25 26-45 21-39 24-50 20-47 27-65 37-101 1 0 11 45 27 95 33 105 29 78 19 44 12 27zM2630 3875l-75 0-59-3-75-9-36-6-28-6 14-10 18-18 17-20 19-28 22-38 18-36 22-51 2-2 20 38 25 44 23 36 20 28 14 17 23 25 22 20 24 17-1 1z"/>
<path class="h26" d="M2710 3632l-31-6-43-7-73-7-56-3-88 1 26-42 18-34 16-32 26-55 41-97 37-101 1 0 11 45 24 84 24 78 33 95 17 42zM2611 3871l-60-1-71-5-70-8-47-9 13-11 19-20 13-17 17-25 22-38 18-36 23-53 1 0 15 30 22 39 19 31 20 30 26 33 22 24 23 21 17 12-1 1z"/>
<path class="h27" d="M2704 3621l-62-11-68-7-61-4-88 1 20-32 18-34 16-32 26-55 41-97 37-101 1 0 11 45 24 84 24 78 29 84zM2620 3865l-72 0-55-4-66-7-60-10 10-8 21-23 15-20 16-23 18-33 18-36 23-53 1 0 15 30 22 39 19 31 20 30 17 22 19 22 25 25 21 17z"/>
<path class="h28" d="M2700 3609l-66-10-67-7-83-3-53 1 32-56 16-32 26-55 41-97 37-101 1 0 11 45 24 84 24 78 29 84zM2624 3860l-56 0-76-4-61-7-55-8-3-1 0-1 16-16 9-10 15-20 16-23 18-33 18-36 22-51 2-2 15 30 22 39 19 31 20 30 17 22 19 22 25 25 15 12z"/>
<path class="h29" d="M2694 3598l-49-8-68-7-58-4-81 0 35-65 38-79 40-97 32-89 1 0 23 87 30 103 30 89 17 44 11 24zM2628 3855l-60 0-68-4-70-7-40-6-13-3 12-12 17-20 29-43 12-23 18-36 22-51 2-2 30 56 15 26 23 36 20 28 19 22 18 20 20 18z"/>
<path class="h30" d="M2690 3587l-54-8-68-7-74-3-51 0 30-55 38-79 40-97 32-89 1 0 23 87 30 103 30 89zM2628 3849l-60 0-76-4-67-7-35-5-8-2 0-1 13-13 13-17 27-40 12-23 18-36 22-51 2-2 30 56 15 26 23 36 34 45 22 24z"/>
<path class="h31" d="M2686 3576l-61-9-57-5-74-3-45 0 30-57 38-82 37-91 29-80 1 0 23 87 30 103 24 70zM2622 3844l-51 0-69-3-62-6-54-9 22-26 27-40 12-23 18-36 23-53 1 0 15 30 22 39 31 49 34 45z"/>
<path class="h32" d="M2682 3565l-57-8-48-4-59-4-63-1 34-66 30-67 35-86 29-80 1 0 19 75 28 94 24 76zM2617 3839l-65-1-49-3-57-5-56-8 8-9 15-20 27-43 25-49 23-53 1 0 15 30 22 39 31 49 31 41z"/>
<path class="h33" d="M2677 3555l-47-7-63-6-51-3-55-1 28-56 30-67 35-86 29-80 1 0 19 75 28 94 24 76 22 59zM2612 3833l-56 0-51-3-63-6-47-7 18-24 16-23 14-26 22-43 23-53 1 0 30 56 26 44 17 25 20 27z"/>
<path class="h34" d="M2673 3544l-43-6-56-5-44-3-64-2 29-58 30-68 29-73 29-80 1 0 19 75 28 94 24 76 18 48zM2606 3827l-45 0-63-3-50-5-50-7 15-19 16-23 14-26 22-43 23-53 1 0 30 56 26 44 32 46z"/>
<path class="h35" d="M2669 3533l-52-6-45-4-45-3-56-1 28-57 29-68 26-65 29-80 1 0 19 75 23 78 29 92 14 38zM2601 3822l-53-1-47-2-63-6-35-5 22-33 22-38 23-46 18-43 1 0 30 56 26 44 32 46z"/>
<path class="h36" d="M2666 3523l-32-4-64-6-48-3-46-1 29-62 28-64 31-81 19-53 1 0 19 75 23 78 17 54zM2596 3817l-42-1-59-3-49-5-40-6 19-27 22-38 23-46 18-43 1 0 30 56 22 37 24 37 17 22 14 16z"/>
<path class="h37" d="M2662 3513l-42-6-52-4-87-4 24-52 28-64 31-81 19-53 1 0 11 45 27 95 21 67 19 55zM2591 3811l-29 0-64-4-50-4-38-5 19-28 18-33 23-46 18-43 1 0 30 56 22 37 24 37z"/>
<path class="h38" d="M2658 3503l-40-6-44-4-46-2-43-1 26-55 22-52 31-81 19-53 1 0 11 45 27 95zM2586 3805l-34 0-50-3-46-4-43-6 16-22 18-33 23-46 18-43 1 0 20 38 25 44 23 36z"/>
<path class="h39" d="M2654 3492l-75-8-89-4 21-45 22-52 31-81 19-53 1 0 11 45 24 84 18 61 18 51zM2582 3799l-39 0-45-3-63-6-16-2-2-1 12-17 18-33 23-46 18-43 1 0 20 38 25 44 23 36z"/>
<path class="h40" d="M2651 3482l-25-3-51-5-80-4 24-55 27-65 37-101 1 0 11 45 24 84 18 61 14 41zM2577 3794l-75-3-52-5-29-4 26-45 23-46 18-43 1 0 20 38 25 44 23 36 20 27z"/>
<path class="h41" d="M2648 3472l-24-3-44-4-81-5 20-45 27-65 37-101 1 0 11 45 24 84 18 61 11 31zM2573 3788l-75-3-74-8 23-40 18-36 23-53 1 0 20 38 25 44 23 36z"/>
<path class="h42" d="M2644 3461l-68-6-73-4 16-36 27-65 37-101 1 0 11 45 24 84zM2568 3782l-74-3-67-7 20-35 18-36 23-53 1 0 15 30 22 39 19 31z"/>
<path class="h43" d="M2641 3451l-70-6-64-3 18-40 21-52 37-101 1 0 11 45 24 84 22 72zM2564 3776l-31-1-42-2-60-7 16-29 18-36 23-53 1 0 15 30 22 39 19 31 19 27z"/>
<path class="h44" d="M2638 3441l-54-5-54-3-17 0-1-1 39-94 32-89 1 0 23 87 19 66 11 35zM2560 3771l-63-4-64-6 14-24 18-36 23-53 1 0 15 30 22 39z"/>
<path class="h45" d="M2635 3431l-57-5-58-3-4-1 35-84 32-89 1 0 23 87zM2556 3765l-62-4-57-5 10-19 18-36 23-53 1 0 30 56 22 37 15 23z"/>
<path class="h46" d="M2632 3421l-59-5-53-3 34-84 29-80 1 0 19 75zM2552 3759l-69-4-42-4-1-1 25-49 23-53 1 0 30 56 22 37 11 17z"/>
<path class="h47" d="M2628 3411l-43-4-61-3 30-75 29-80 1 0 23 87 22 73zM2548 3753l-67-4-35-4-3-1 22-43 23-53 1 0 30 56 29 48z"/>
<path class="h48" d="M2626 3402l-38-4-60-4 26-65 29-80 1 0 11 45 24 84 7 22zM2544 3747l-56-4-42-4 24-48 18-43 1 0 30 56z"/>
<path class="h49" d="M2623 3392l-51-5-41-2 23-56 29-80 1 0 11 45zM2540 3741l-54-4-37-3 21-43 18-43 1 0 30 56z"/>
<path class="h50" d="M2620 3382l-85-6 19-47 29-80 1 0 11 45 25 86zM2536 3734l-43-2-39-3-2-1 18-37 18-43 1 0 30 56z"/>
<path class="h51" d="M2617 3373l-31-4-47-3 25-64 19-53 1 0 19 75 14 47zM2532 3728l-40-2-37-4 15-31 18-43 1 0 20 38z"/>
<path class="h52" d="M2614 3363l-71-6 21-55 19-53 1 0 11 45zM2529 3722l-47-3-23-2-2-1 13-25 18-43 1 0 15 30z"/>
<path class="h53" d="M2612 3353l-62-4-3-1 36-99 1 0 11 45zM2525 3716l-65-5 10-20 18-43 1 0 20 38 16 28z"/>
<path class="h54" d="M2609 3343l-37-3-20-1-2-1 19-48 14-41 1 0zM2522 3710l-49-3-10-2 25-57 1 0 20 38 13 23z"/>
<path class="h55" d="M2606 3333l-53-3 30-81 1 0 11 45 11 37zM2518 3703l-53-3 5-9 18-43 1 0 15 30 13 22z"/>
<path class="h56" d="M2603 3324l-46-4 26-71 1 0 9 35 10 35zM2514 3697l-34-2-11-1 19-46 1 0 15 30 9 16z"/>
<path class="h57" d="M2600 3314l-39-3 22-62 1 0 9 35 8 28zM2511 3691l-39-2-1-1 17-40 1 0 21 40z"/>
<path class="h58" d="M2598 3305l-32-2-2-1 19-53 1 0zM2508 3685l-35-3 15-34 1 0z"/>
<path class="h59" d="M2596 3295l-29-2 16-44 1 0zM2504 3679l-28-3 12-28 1 0z"/>
<path class="h60" d="M2593 3285l-22-1 12-35 1 0zM2501 3673l-22-3 9-22 1 0 10 18z"/>
<path class="h61" d="M2590 3276l-14-1-2-1 9-25 1 0 7 25zM2498 3666l-15-1-2-1 7-16 1 0z"/>
<path class="h62" d="M2588 3267l-11-1 6-17 1 0 3 10zM2494 3660l-10-1 4-11 5 8z"/>
<path class="h63" d="M2586 3257l-6-1 3-7 1 0zM2491 3653l-5 0 2-5 1 0z"/></g>
<path class="ax" d="M1088.9 1710.6L1088.9 1956.9L1244.3 2069.9L1447.1 1983.1M1244.3 2069.9l4.0 2.9M1244.3 2069.9l-4.6 2.0M1345.7 2026.5l4.0 2.9M1166.6 2013.4l-4.6 2.0M1447.1 1983.1l4.0 2.9M1088.9 1956.9l-4.6 2.0M1088.9 1874.8l-4.6 2.0M1088.9 1792.7l-4.6 2.0M1088.9 1710.6l-4.6 2.0"/>
<text transform="translate(1256.8 2102.9) scale(0.850 1)" style="font-size:23.7px">-100</text>
<text transform="translate(1229.9 2100.9) scale(0.850 1)" text-anchor="end" style="font-size:23.7px">-100</text>
<text transform="translate(1358.2 2059.5) scale(0.850 1)" style="font-size:23.7px">0</text>
<text transform="translate(1152.2 2044.4) scale(0.850 1)" text-anchor="end" style="font-size:23.7px">0</text>
<text transform="translate(1459.6 2016.1) scale(0.850 1)" style="font-size:23.7px">100</text>
<text transform="translate(1074.5 1987.9) scale(0.850 1)" text-anchor="end" style="font-size:23.7px">100</text>
<text transform="translate(1075.6 1876.8) scale(0.850 1)" text-anchor="end" style="font-size:23.7px">1</text>
<text transform="translate(1075.6 1794.7) scale(0.850 1)" text-anchor="end" style="font-size:23.7px">2</text>
<text transform="translate(1075.6 1712.6) scale(0.850 1)" text-anchor="end" style="font-size:23.7px">3</text>
<text transform="translate(1376.7 2115.6) scale(0.850 1)" style="font-size:23.7px">x<tspan dy="15" style="font-size:21px">1</tspan></text>
<text transform="translate(1102.5 2110.0) scale(0.850 1)" style="font-size:23.7px">x<tspan dy="17" style="font-size:21px">2</tspan></text>
<text transform="translate(1035.5 1913.3) scale(0.830 1) rotate(-90)" style="font-size:27.0px">F31( x<tspan dy="9" style="font-size:21px">1</tspan><tspan dy="-9"> , x</tspan><tspan dy="9" style="font-size:21px">2</tspan><tspan dy="-9"> )</tspan></text>
<text transform="translate(1027.7 1683.4) scale(0.850 1)" style="font-size:25.8px">&#215;10<tspan dy="-0.56em" style="font-size:0.75em">4</tspan></text>
<text transform="translate(1268.0 1611.4) scale(0.927 1)" text-anchor="middle" style="font-size:25.8px;font-weight:bold;fill:#000">Parameter space</text></g>
<g><rect x="591.3" y="40.7" width="373.7" height="446.6" fill="#fff"/>
<path class="gm" d="M591.3 485.4H965.0M591.3 456.8H965.0M591.3 434.6H965.0M591.3 416.4H965.0M591.3 401.0H965.0M591.3 387.7H965.0M591.3 376.0H965.0M591.3 296.4H965.0M591.3 256.0H965.0M591.3 227.4H965.0M591.3 205.2H965.0M591.3 187.0H965.0M591.3 171.6H965.0M591.3 158.3H965.0M591.3 146.6H965.0M591.3 67.0H965.0"/>
<path class="gj" d="M665.7 40.7V487.3M740.6 40.7V487.3M815.4 40.7V487.3M890.2 40.7V487.3M591.3 365.5H965.0M591.3 136.1H965.0"/>
<g clip-path="url(#c1)"><path class="cv" stroke="#a2142f" d="M592.3 296.0L592.3 487.3L965.0 487.3"/><path class="cv" stroke="#ff0000" d="M592.3 39.0L592.3 478.0L594.0 480.8L625.4 480.8L629.3 486.0L965.0 487.0"/><path class="cv" stroke="#00ff00" d="M592.3 300.0L592.3 487.3L965.0 487.3"/><path class="cv" stroke="#0000ff" d="M594.5 420.0L597.7 446.2L619.3 446.2L622.0 483.3L669.3 483.8L700.0 486.5L965.0 487.0"/><path class="cv" stroke="#00ffff" d="M596.5 420.0L597.7 433.9L597.7 468.5L606.6 468.5L606.6 485.0L965.0 487.3"/><path class="cv" stroke="#ff00ff" d="M592.3 279.0L592.3 487.3L965.0 487.3"/><path class="cv" stroke="#000000" d="M592.3 177.0L593.0 238.0L595.3 330.0L596.0 487.0L965.0 487.3"/><path class="cv" stroke="#77ac30" d="M592.3 299.0L592.3 487.3L965.0 487.3"/></g>
<path class="bx" d="M591.3 40.7H965.0V487.3H591.3ZM665.7 487.3v-4.0M665.7 40.7v4.0M740.6 487.3v-4.0M740.6 40.7v4.0M815.4 487.3v-4.0M815.4 40.7v4.0M890.2 487.3v-4.0M890.2 40.7v4.0M591.3 365.5h4.0M965.0 365.5h-4.0M591.3 136.1h4.0M965.0 136.1h-4.0"/>
<rect class="lg" x="814.1" y="60.8" width="135.1" height="251.9"/>
<path class="ll" stroke="#a2142f" d="M822.1 79.3H888.1"/>
<text transform="translate(893.6 86.9) scale(0.920 1)" style="font-size:21.1px">LCA</text>
<path class="ll" stroke="#ff0000" d="M822.1 110.1H888.1"/>
<text transform="translate(893.6 117.7) scale(0.920 1)" style="font-size:21.1px">PSO</text>
<path class="ll" stroke="#00ff00" d="M822.1 140.9H888.1"/>
<text transform="translate(893.6 148.5) scale(0.920 1)" style="font-size:21.1px">TSA</text>
<path class="ll" stroke="#0000ff" d="M822.1 171.7H888.1"/>
<text transform="translate(893.6 179.3) scale(0.920 1)" style="font-size:21.1px">SSA</text>
<path class="ll" stroke="#00ffff" d="M822.1 202.5H888.1"/>
<text transform="translate(893.6 210.1) scale(0.920 1)" style="font-size:21.1px">MVO</text>
<path class="ll" stroke="#ff00ff" d="M822.1 233.3H888.1"/>
<text transform="translate(893.6 240.9) scale(0.920 1)" style="font-size:21.1px">GWO</text>
<path class="ll" stroke="#000000" d="M822.1 264.1H888.1"/>
<text transform="translate(893.6 271.7) scale(0.920 1)" style="font-size:21.1px">WOA</text>
<path class="ll" stroke="#77ac30" d="M822.1 294.9H888.1"/>
<text transform="translate(893.6 302.5) scale(0.920 1)" style="font-size:21.1px">GJO</text>
<text transform="translate(665.7 522.5) scale(0.800 1)" text-anchor="middle" style="font-size:26.5px">200</text>
<text transform="translate(740.6 522.5) scale(0.800 1)" text-anchor="middle" style="font-size:26.5px">400</text>
<text transform="translate(815.4 522.5) scale(0.800 1)" text-anchor="middle" style="font-size:26.5px">600</text>
<text transform="translate(890.2 522.5) scale(0.800 1)" text-anchor="middle" style="font-size:26.5px">800</text>
<text transform="translate(965.0 522.5) scale(0.800 1)" text-anchor="middle" style="font-size:26.5px">1000</text>
<text transform="translate(580.9 377.1) scale(0.840 1)" text-anchor="end" style="font-size:25.5px">10<tspan dy="-0.54em" style="font-size:0.80em">1</tspan></text>
<text transform="translate(580.9 147.7) scale(0.840 1)" text-anchor="end" style="font-size:25.5px">10<tspan dy="-0.54em" style="font-size:0.80em">2</tspan></text>
<text transform="translate(778.1 558.5) scale(0.900 1)" text-anchor="middle" style="font-size:26.1px">Iteration</text>
<text transform="translate(537.3 264.0) scale(0.810 1) rotate(-90)" text-anchor="middle" style="font-size:28.0px">Best score obtained so far</text>
<text transform="translate(778.1 28.6) scale(0.927 1)" text-anchor="middle" style="font-size:25.8px;font-weight:bold;fill:#000">Objective space</text></g>
<g><rect x="1606.2" y="40.4" width="358.1" height="445.5" fill="#fff"/>
<path class="gm" d="M1606.2 60.6H1964.3M1606.2 74.9H1964.3M1606.2 89.2H1964.3M1606.2 103.5H1964.3M1606.2 117.8H1964.3M1606.2 132.2H1964.3M1606.2 146.5H1964.3M1606.2 160.8H1964.3M1606.2 175.1H1964.3M1606.2 203.7H1964.3M1606.2 218.0H1964.3M1606.2 232.3H1964.3M1606.2 246.6H1964.3M1606.2 260.9H1964.3M1606.2 275.3H1964.3M1606.2 289.6H1964.3M1606.2 303.9H1964.3M1606.2 318.2H1964.3M1606.2 346.8H1964.3M1606.2 361.1H1964.3M1606.2 375.4H1964.3M1606.2 389.7H1964.3M1606.2 404.1H1964.3M1606.2 418.4H1964.3M1606.2 432.7H1964.3M1606.2 447.0H1964.3M1606.2 461.3H1964.3"/>
<path class="gj" d="M1677.5 40.4V485.9M1749.2 40.4V485.9M1820.9 40.4V485.9M1892.6 40.4V485.9M1606.2 46.3H1964.3M1606.2 189.4H1964.3M1606.2 332.5H1964.3M1606.2 475.6H1964.3"/>
<g clip-path="url(#c2)"><path class="cv" stroke="#a2142f" d="M1605.5 40.8L1616.4 78.1L1625.3 100.9L1629.1 118.6L1636.7 141.3L1644.3 166.6L1650.6 181.8L1655.7 198.3L1666.0 232.0L1676.0 262.0L1686.0 292.0L1697.0 325.0L1708.0 358.0L1719.0 392.0L1730.0 425.0L1741.0 458.0L1750.5 487.5"/><path class="cv" stroke="#ff0000" d="M1605.5 40.5L1700.0 42.5L1800.0 44.5L1900.0 47.5L1964.3 50.5"/><path class="cv" stroke="#00ff00" d="M1605.5 40.5L1663.3 52.8L1701.2 59.1L1751.8 70.5L1810.0 83.1L1880.0 98.0L1964.3 114.5"/><path class="cv" stroke="#0000ff" d="M1605.5 40.2L1800.0 41.2L1964.3 43.0"/><path class="cv" stroke="#00ffff" d="M1605.5 40.6L1800.0 41.8L1964.3 45.0"/><path class="cv" stroke="#ff00ff" d="M1605.5 40.5L1638.0 52.8L1688.6 78.1L1726.5 94.5L1764.5 107.2L1810.0 118.6L1880.0 127.0L1964.3 131.5"/><path class="cv" stroke="#000000" d="M1605.5 40.5L1631.6 49.0L1675.9 54.0L1698.7 59.1L1707.5 66.7L1732.8 83.1L1758.1 103.4L1783.5 128.7L1802.4 146.4L1810.0 161.6L1850.0 215.0L1900.0 255.0L1964.3 267.0"/><path class="cv" stroke="#77ac30" d="M1605.5 40.5L1675.9 83.1L1726.5 109.7L1810.0 166.6L1850.0 195.0L1900.0 207.0L1964.3 210.0"/></g>
<path class="bx" d="M1606.2 40.4H1964.3V485.9H1606.2ZM1677.5 485.9v-4.0M1677.5 40.4v4.0M1749.2 485.9v-4.0M1749.2 40.4v4.0M1820.9 485.9v-4.0M1820.9 40.4v4.0M1892.6 485.9v-4.0M1892.6 40.4v4.0M1606.2 46.3h4.0M1964.3 46.3h-4.0M1606.2 189.4h4.0M1964.3 189.4h-4.0M1606.2 332.5h4.0M1964.3 332.5h-4.0M1606.2 475.6h4.0M1964.3 475.6h-4.0"/>
<rect class="lg" x="1811.8" y="60.8" width="135.9" height="251.9"/>
<path class="ll" stroke="#a2142f" d="M1819.8 79.3H1885.8"/>
<text transform="translate(1891.3 86.9) scale(0.920 1)" style="font-size:21.1px">LCA</text>
<path class="ll" stroke="#ff0000" d="M1819.8 110.1H1885.8"/>
<text transform="translate(1891.3 117.7) scale(0.920 1)" style="font-size:21.1px">PSO</text>
<path class="ll" stroke="#00ff00" d="M1819.8 140.9H1885.8"/>
<text transform="translate(1891.3 148.5) scale(0.920 1)" style="font-size:21.1px">TSA</text>
<path class="ll" stroke="#0000ff" d="M1819.8 171.7H1885.8"/>
<text transform="translate(1891.3 179.3) scale(0.920 1)" style="font-size:21.1px">SSA</text>
<path class="ll" stroke="#00ffff" d="M1819.8 202.5H1885.8"/>
<text transform="translate(1891.3 210.1) scale(0.920 1)" style="font-size:21.1px">MVO</text>
<path class="ll" stroke="#ff00ff" d="M1819.8 233.3H1885.8"/>
<text transform="translate(1891.3 240.9) scale(0.920 1)" style="font-size:21.1px">GWO</text>
<path class="ll" stroke="#000000" d="M1819.8 264.1H1885.8"/>
<text transform="translate(1891.3 271.7) scale(0.920 1)" style="font-size:21.1px">WOA</text>
<path class="ll" stroke="#77ac30" d="M1819.8 294.9H1885.8"/>
<text transform="translate(1891.3 302.5) scale(0.920 1)" style="font-size:21.1px">GJO</text>
<text transform="translate(1677.5 521.1) scale(0.800 1)" text-anchor="middle" style="font-size:26.5px">200</text>
<text transform="translate(1749.2 521.1) scale(0.800 1)" text-anchor="middle" style="font-size:26.5px">400</text>
<text transform="translate(1820.9 521.1) scale(0.800 1)" text-anchor="middle" style="font-size:26.5px">600</text>
<text transform="translate(1892.6 521.1) scale(0.800 1)" text-anchor="middle" style="font-size:26.5px">800</text>
<text transform="translate(1964.3 521.1) scale(0.800 1)" text-anchor="middle" style="font-size:26.5px">1000</text>
<text transform="translate(1595.8 57.9) scale(0.840 1)" text-anchor="end" style="font-size:25.5px">10<tspan dy="-0.54em" style="font-size:0.80em">0</tspan></text>
<text transform="translate(1595.8 201.0) scale(0.840 1)" text-anchor="end" style="font-size:25.5px">10<tspan dy="-0.54em" style="font-size:0.80em">-100</tspan></text>
<text transform="translate(1595.8 344.1) scale(0.840 1)" text-anchor="end" style="font-size:25.5px">10<tspan dy="-0.54em" style="font-size:0.80em">-200</tspan></text>
<text transform="translate(1595.8 487.2) scale(0.840 1)" text-anchor="end" style="font-size:25.5px">10<tspan dy="-0.54em" style="font-size:0.80em">-300</tspan></text>
<text transform="translate(1785.2 557.1) scale(0.900 1)" text-anchor="middle" style="font-size:26.1px">Iteration</text>
<text transform="translate(1527.0 263.1) scale(0.810 1) rotate(-90)" text-anchor="middle" style="font-size:28.0px">Best score obtained so far</text>
<text transform="translate(1785.2 28.3) scale(0.927 1)" text-anchor="middle" style="font-size:25.8px;font-weight:bold;fill:#000">Objective space</text></g>
<g><rect x="591.6" y="811.4" width="377.2" height="446.3" fill="#fff"/>
<path class="gm" d="M591.6 887.3H968.8M591.6 1027.3H968.8M591.6 1167.3H968.8"/>
<path class="gj" d="M666.7 811.4V1257.7M742.3 811.4V1257.7M817.8 811.4V1257.7M893.3 811.4V1257.7M591.6 817.3H968.8M591.6 957.3H968.8M591.6 1097.3H968.8M591.6 1237.3H968.8"/>
<g clip-path="url(#c3)"><path class="cv" stroke="#a2142f" d="M591.6 812.0L592.5 842.6L598.2 842.6L691.9 844.6L691.9 851.9L968.8 852.5"/><path class="cv" stroke="#ff0000" d="M591.6 830.0L593.0 857.8L602.5 858.5L612.2 860.8L613.5 869.7L625.9 869.7L625.9 885.5L653.6 885.5L656.3 888.2L670.8 888.2L672.1 893.4L689.3 893.4L693.2 901.4L698.5 910.6L706.4 918.5L717.0 919.9L724.9 925.1L727.5 937.0L728.9 950.2L728.9 975.3L740.7 976.6L743.4 984.5L751.3 987.2L756.6 992.5L759.2 1000.4L767.2 1011.0L780.4 1012.3L786.8 1015.4L791.2 1038.9L795.6 1068.3L803.0 1083.0L811.8 1091.8L814.7 1103.5L820.6 1121.1L827.9 1141.7L833.8 1162.2L841.1 1168.1L844.1 1197.5L845.5 1226.8L855.8 1235.6L861.7 1242.9L870.5 1247.4L873.4 1256.0L905.7 1256.0"/><path class="cv" stroke="#00ff00" d="M591.6 830.0L592.9 845.0L598.2 860.4L600.8 875.0L611.4 876.3L612.7 897.4L968.8 897.4"/><path class="cv" stroke="#0000ff" d="M592.9 823.5L603.5 824.8L604.8 834.0L611.4 842.0L629.9 843.3L631.2 849.9L640.4 849.9L641.8 850.5L680.1 850.5L682.7 859.1L691.9 860.4L695.9 867.0L735.5 867.0L736.8 872.3L756.6 875.0L767.2 876.3L769.8 886.8L769.8 922.5L949.0 922.5L950.0 1012.0L968.8 1022.0"/><path class="cv" stroke="#00ffff" d="M592.3 809.0L592.9 823.5L600.8 824.8L607.4 844.6L636.5 845.9L637.8 855.2L677.4 856.5L678.7 861.8L694.6 863.1L695.9 868.4L701.2 878.9L709.1 881.6L710.4 904.0L812.0 904.0L813.4 910.6L950.0 910.6L955.6 912.0L967.4 928.8"/><path class="cv" stroke="#ff00ff" d="M591.6 850.0L600.8 861.8L643.1 863.1L644.4 864.4L665.5 873.6L682.7 873.6L711.7 880.2L796.2 881.6L798.9 884.2L949.8 884.2L955.0 900.9L967.4 920.0"/><path class="cv" stroke="#000000" d="M591.6 838.0L594.2 881.6L598.2 889.5L604.8 894.8L607.4 910.6L623.3 911.9L625.9 934.4L635.2 935.7L637.8 939.7L656.3 939.7L658.9 943.6L670.8 943.6L673.4 951.5L684.0 951.5L685.3 964.7L699.9 964.7L702.5 970.0L731.5 970.0L734.2 972.7L754.0 972.7L756.6 980.6L765.9 980.6L767.2 989.8L801.5 989.8L802.8 1008.3L968.8 1008.3"/><path class="cv" stroke="#77ac30" d="M591.6 811.6L592.9 847.2L599.5 848.6L600.8 865.7L637.8 867.0L639.1 868.4L684.0 868.4L685.3 875.0L755.3 875.0L756.6 892.1L949.8 893.6L967.4 903.9"/></g>
<path class="bx" d="M591.6 811.4H968.8V1257.7H591.6ZM666.7 1257.7v-4.0M666.7 811.4v4.0M742.3 1257.7v-4.0M742.3 811.4v4.0M817.8 1257.7v-4.0M817.8 811.4v4.0M893.3 1257.7v-4.0M893.3 811.4v4.0M591.6 817.3h4.0M968.8 817.3h-4.0M591.6 957.3h4.0M968.8 957.3h-4.0M591.6 1097.3h4.0M968.8 1097.3h-4.0M591.6 1237.3h4.0M968.8 1237.3h-4.0"/>
<rect class="lg" x="817.0" y="831.3" width="135.7" height="253.1"/>
<path class="ll" stroke="#a2142f" d="M825.0 849.8H891.0"/>
<text transform="translate(896.5 857.4) scale(0.920 1)" style="font-size:21.1px">LCA</text>
<path class="ll" stroke="#ff0000" d="M825.0 880.6H891.0"/>
<text transform="translate(896.5 888.2) scale(0.920 1)" style="font-size:21.1px">PSO</text>
<path class="ll" stroke="#00ff00" d="M825.0 911.4H891.0"/>
<text transform="translate(896.5 919.0) scale(0.920 1)" style="font-size:21.1px">TSA</text>
<path class="ll" stroke="#0000ff" d="M825.0 942.2H891.0"/>
<text transform="translate(896.5 949.8) scale(0.920 1)" style="font-size:21.1px">SSA</text>
<path class="ll" stroke="#00ffff" d="M825.0 973.0H891.0"/>
<text transform="translate(896.5 980.6) scale(0.920 1)" style="font-size:21.1px">MVO</text>
<path class="ll" stroke="#ff00ff" d="M825.0 1003.8H891.0"/>
<text transform="translate(896.5 1011.4) scale(0.920 1)" style="font-size:21.1px">GWO</text>
<path class="ll" stroke="#000000" d="M825.0 1034.6H891.0"/>
<text transform="translate(896.5 1042.2) scale(0.920 1)" style="font-size:21.1px">WOA</text>
<path class="ll" stroke="#77ac30" d="M825.0 1065.4H891.0"/>
<text transform="translate(896.5 1073.0) scale(0.920 1)" style="font-size:21.1px">GJO</text>
<text transform="translate(666.7 1292.9) scale(0.800 1)" text-anchor="middle" style="font-size:26.5px">200</text>
<text transform="translate(742.3 1292.9) scale(0.800 1)" text-anchor="middle" style="font-size:26.5px">400</text>
<text transform="translate(817.8 1292.9) scale(0.800 1)" text-anchor="middle" style="font-size:26.5px">600</text>
<text transform="translate(893.3 1292.9) scale(0.800 1)" text-anchor="middle" style="font-size:26.5px">800</text>
<text transform="translate(968.8 1292.9) scale(0.800 1)" text-anchor="middle" style="font-size:26.5px">1000</text>
<text transform="translate(581.2 828.9) scale(0.840 1)" text-anchor="end" style="font-size:25.5px">10<tspan dy="-0.54em" style="font-size:0.80em">0</tspan></text>
<text transform="translate(581.2 968.9) scale(0.840 1)" text-anchor="end" style="font-size:25.5px">10<tspan dy="-0.54em" style="font-size:0.80em">-10</tspan></text>
<text transform="translate(581.2 1108.9) scale(0.840 1)" text-anchor="end" style="font-size:25.5px">10<tspan dy="-0.54em" style="font-size:0.80em">-20</tspan></text>
<text transform="translate(581.2 1248.9) scale(0.840 1)" text-anchor="end" style="font-size:25.5px">10<tspan dy="-0.54em" style="font-size:0.80em">-30</tspan></text>
<text transform="translate(780.2 1328.9) scale(0.900 1)" text-anchor="middle" style="font-size:26.1px">Iteration</text>
<text transform="translate(521.1 1034.5) scale(0.810 1) rotate(-90)" text-anchor="middle" style="font-size:28.0px">Best score obtained so far</text>
<text transform="translate(780.2 799.3) scale(0.927 1)" text-anchor="middle" style="font-size:25.8px;font-weight:bold;fill:#000">Objective space</text></g>
<g><rect x="1612.7" y="811.4" width="360.0" height="446.3" fill="#fff"/>
<path class="gm" d="M1612.7 826.2H1972.7M1612.7 840.7H1972.7M1612.7 855.3H1972.7M1612.7 869.8H1972.7M1612.7 884.3H1972.7M1612.7 898.8H1972.7M1612.7 913.3H1972.7M1612.7 927.9H1972.7M1612.7 942.4H1972.7M1612.7 971.4H1972.7M1612.7 985.9H1972.7M1612.7 1000.5H1972.7M1612.7 1015.0H1972.7M1612.7 1029.5H1972.7M1612.7 1044.0H1972.7M1612.7 1058.5H1972.7M1612.7 1073.1H1972.7M1612.7 1087.6H1972.7M1612.7 1116.6H1972.7M1612.7 1131.1H1972.7M1612.7 1145.7H1972.7M1612.7 1160.2H1972.7M1612.7 1174.7H1972.7M1612.7 1189.2H1972.7M1612.7 1203.7H1972.7M1612.7 1218.3H1972.7M1612.7 1232.8H1972.7"/>
<path class="gj" d="M1684.4 811.4V1257.7M1756.5 811.4V1257.7M1828.6 811.4V1257.7M1900.6 811.4V1257.7M1612.7 811.7H1972.7M1612.7 956.9H1972.7M1612.7 1102.1H1972.7M1612.7 1247.3H1972.7"/>
<g clip-path="url(#c4)"><path class="cv" stroke="#a2142f" d="M1612.3 811.9L1624.8 859.4L1638.0 892.4L1651.2 932.0L1661.8 971.6L1671.0 1004.6L1678.9 1024.4L1685.5 1040.0L1700.0 1085.0L1715.0 1135.0L1730.0 1185.0L1744.0 1230.0L1753.0 1258.0"/><path class="cv" stroke="#ff0000" d="M1612.3 813.2L1684.2 821.1L1737.0 827.7L1816.2 837.0L1880.0 850.0L1930.0 866.0L1955.6 880.4L1972.7 887.7"/><path class="cv" stroke="#00ff00" d="M1612.3 811.9L1631.4 829.0L1671.0 852.8L1710.6 876.6L1723.8 884.5L1763.4 905.6L1776.6 916.2L1796.4 925.4L1817.5 939.9L1880.0 975.0L1930.0 1003.0L1955.6 1022.8L1972.7 1036.0"/><path class="cv" stroke="#0000ff" d="M1612.3 812.5L1737.0 819.8L1829.4 821.8L1900.0 826.0L1950.0 830.0L1972.7 835.0"/><path class="cv" stroke="#00ffff" d="M1612.3 811.9L1737.0 815.8L1829.4 817.2L1900.0 818.5L1950.0 820.0L1972.7 823.0"/><path class="cv" stroke="#ff00ff" d="M1612.3 811.9L1622.2 829.0L1638.0 855.4L1651.2 879.2L1664.4 900.3L1671.0 914.9L1681.6 932.0L1690.8 946.5L1704.0 958.4L1708.0 966.3L1717.2 984.8L1723.8 1003.3L1730.4 1016.5L1743.6 1032.3L1756.0 1047.7L1788.3 1071.2L1832.3 1097.6L1861.7 1115.3L1891.1 1127.0L1920.4 1134.3L1949.8 1137.3L1972.7 1137.3"/><path class="cv" stroke="#000000" d="M1612.3 811.9L1618.2 819.8L1644.6 830.4L1664.4 838.3L1690.8 839.6L1710.6 842.2L1717.2 847.5L1721.2 859.4L1727.8 863.4L1735.7 863.4L1743.6 871.3L1751.5 881.8L1754.2 892.4L1763.4 903.0L1774.0 924.1L1776.6 939.9L1787.2 961.1L1795.1 982.2L1804.3 1003.3L1812.3 1024.4L1819.1 1041.9L1832.3 1068.3L1844.1 1106.5L1858.7 1147.5L1864.6 1165.2L1873.4 1200.4L1879.3 1212.1L1885.2 1223.9L1894.0 1258.0"/><path class="cv" stroke="#77ac30" d="M1612.3 811.9L1631.4 859.4L1648.6 903.0L1664.4 945.2L1678.9 991.4L1689.5 1013.9L1700.0 1040.0L1720.0 1100.0L1740.0 1150.0L1760.0 1195.0L1780.0 1230.0L1797.1 1258.0"/></g>
<path class="bx" d="M1612.7 811.4H1972.7V1257.7H1612.7ZM1684.4 1257.7v-4.0M1684.4 811.4v4.0M1756.5 1257.7v-4.0M1756.5 811.4v4.0M1828.6 1257.7v-4.0M1828.6 811.4v4.0M1900.6 1257.7v-4.0M1900.6 811.4v4.0M1612.7 811.7h4.0M1972.7 811.7h-4.0M1612.7 956.9h4.0M1972.7 956.9h-4.0M1612.7 1102.1h4.0M1972.7 1102.1h-4.0M1612.7 1247.3h4.0M1972.7 1247.3h-4.0"/>
<rect class="lg" x="1819.7" y="831.3" width="135.9" height="252.5"/>
<path class="ll" stroke="#a2142f" d="M1827.7 849.8H1893.7"/>
<text transform="translate(1899.2 857.4) scale(0.920 1)" style="font-size:21.1px">LCA</text>
<path class="ll" stroke="#ff0000" d="M1827.7 880.6H1893.7"/>
<text transform="translate(1899.2 888.2) scale(0.920 1)" style="font-size:21.1px">PSO</text>
<path class="ll" stroke="#00ff00" d="M1827.7 911.4H1893.7"/>
<text transform="translate(1899.2 919.0) scale(0.920 1)" style="font-size:21.1px">TSA</text>
<path class="ll" stroke="#0000ff" d="M1827.7 942.2H1893.7"/>
<text transform="translate(1899.2 949.8) scale(0.920 1)" style="font-size:21.1px">SSA</text>
<path class="ll" stroke="#00ffff" d="M1827.7 973.0H1893.7"/>
<text transform="translate(1899.2 980.6) scale(0.920 1)" style="font-size:21.1px">MVO</text>
<path class="ll" stroke="#ff00ff" d="M1827.7 1003.8H1893.7"/>
<text transform="translate(1899.2 1011.4) scale(0.920 1)" style="font-size:21.1px">GWO</text>
<path class="ll" stroke="#000000" d="M1827.7 1034.6H1893.7"/>
<text transform="translate(1899.2 1042.2) scale(0.920 1)" style="font-size:21.1px">WOA</text>
<path class="ll" stroke="#77ac30" d="M1827.7 1065.4H1893.7"/>
<text transform="translate(1899.2 1073.0) scale(0.920 1)" style="font-size:21.1px">GJO</text>
<text transform="translate(1684.4 1292.9) scale(0.800 1)" text-anchor="middle" style="font-size:26.5px">200</text>
<text transform="translate(1756.5 1292.9) scale(0.800 1)" text-anchor="middle" style="font-size:26.5px">400</text>
<text transform="translate(1828.6 1292.9) scale(0.800 1)" text-anchor="middle" style="font-size:26.5px">600</text>
<text transform="translate(1900.6 1292.9) scale(0.800 1)" text-anchor="middle" style="font-size:26.5px">800</text>
<text transform="translate(1972.7 1292.9) scale(0.800 1)" text-anchor="middle" style="font-size:26.5px">1000</text>
<text transform="translate(1602.3 823.3) scale(0.840 1)" text-anchor="end" style="font-size:25.5px">10<tspan dy="-0.54em" style="font-size:0.80em">0</tspan></text>
<text transform="translate(1602.3 968.5) scale(0.840 1)" text-anchor="end" style="font-size:25.5px">10<tspan dy="-0.54em" style="font-size:0.80em">-100</tspan></text>
<text transform="translate(1602.3 1113.7) scale(0.840 1)" text-anchor="end" style="font-size:25.5px">10<tspan dy="-0.54em" style="font-size:0.80em">-200</tspan></text>
<text transform="translate(1602.3 1258.9) scale(0.840 1)" text-anchor="end" style="font-size:25.5px">10<tspan dy="-0.54em" style="font-size:0.80em">-300</tspan></text>
<text transform="translate(1792.7 1328.9) scale(0.900 1)" text-anchor="middle" style="font-size:26.1px">Iteration</text>
<text transform="translate(1532.8 1034.5) scale(0.810 1) rotate(-90)" text-anchor="middle" style="font-size:28.0px">Best score obtained so far</text>
<text transform="translate(1792.7 799.3) scale(0.927 1)" text-anchor="middle" style="font-size:25.8px;font-weight:bold;fill:#000">Objective space</text></g>
<g><rect x="605.5" y="1622.8" width="367.2" height="446.3" fill="#fff"/>
<path class="gm" d="M605.5 1740.3H972.7M605.5 1875.3H972.7M605.5 2010.3H972.7"/>
<path class="gj" d="M678.6 1622.8V2069.1M752.2 1622.8V2069.1M825.7 1622.8V2069.1M899.2 1622.8V2069.1M605.5 1672.8H972.7M605.5 1807.8H972.7M605.5 1942.8H972.7"/>
<g clip-path="url(#c5)"><path class="cv" stroke="#a2142f" d="M605.9 1640.0L607.5 1687.4L610.5 1775.5L613.5 1863.6L616.5 1981.0L618.4 2069.1"/><path class="cv" stroke="#ff0000" d="M605.9 1625.0L610.0 1650.0L612.9 1658.6L624.8 1659.6L659.4 1664.5L674.3 1665.5L676.2 1666.5L694.1 1667.0L695.0 1675.4L718.8 1676.4L720.8 1678.4L754.5 1679.4L758.4 1682.3L800.0 1684.0L900.0 1690.0L972.7 1697.0"/><path class="cv" stroke="#00ff00" d="M605.9 1625.0L609.9 1668.0L614.9 1671.0L972.7 1671.5"/><path class="cv" stroke="#0000ff" d="M605.9 1628.0L612.0 1648.0L619.8 1652.6L700.0 1653.1L702.0 1656.6L719.8 1656.6L721.8 1659.1L752.5 1660.5L780.0 1662.0L972.7 1663.4"/><path class="cv" stroke="#00ffff" d="M605.9 1628.0L612.9 1646.7L617.8 1652.6L629.7 1657.6L699.0 1658.6L718.8 1662.5L738.6 1665.5L762.4 1667.5L763.4 1676.4L780.0 1677.4L950.0 1684.0L960.0 1689.0L972.7 1692.3"/><path class="cv" stroke="#ff00ff" d="M605.9 1622.9L612.9 1665.5L657.4 1668.5L700.0 1670.0L972.7 1671.0"/><path class="cv" stroke="#000000" d="M605.9 1624.9L609.9 1642.7L612.9 1660.5L659.4 1663.5L659.4 1668.5L972.7 1669.5"/><path class="cv" stroke="#77ac30" d="M605.9 1623.9L608.5 1660.0L611.0 1670.0L614.9 1672.4L972.7 1672.4"/></g>
<path class="bx" d="M605.5 1622.8H972.7V2069.1H605.5ZM678.6 2069.1v-4.0M678.6 1622.8v4.0M752.2 2069.1v-4.0M752.2 1622.8v4.0M825.7 2069.1v-4.0M825.7 1622.8v4.0M899.2 2069.1v-4.0M899.2 1622.8v4.0M605.5 1672.8h4.0M972.7 1672.8h-4.0M605.5 1807.8h4.0M972.7 1807.8h-4.0M605.5 1942.8h4.0M972.7 1942.8h-4.0"/>
<rect class="lg" x="817.6" y="1642.8" width="138.0" height="252.5"/>
<path class="ll" stroke="#a2142f" d="M825.6 1661.3H891.6"/>
<text transform="translate(897.1 1668.9) scale(0.920 1)" style="font-size:21.1px">LCA</text>
<path class="ll" stroke="#ff0000" d="M825.6 1692.1H891.6"/>
<text transform="translate(897.1 1699.7) scale(0.920 1)" style="font-size:21.1px">PSO</text>
<path class="ll" stroke="#00ff00" d="M825.6 1722.9H891.6"/>
<text transform="translate(897.1 1730.5) scale(0.920 1)" style="font-size:21.1px">TSA</text>
<path class="ll" stroke="#0000ff" d="M825.6 1753.7H891.6"/>
<text transform="translate(897.1 1761.3) scale(0.920 1)" style="font-size:21.1px">SSA</text>
<path class="ll" stroke="#00ffff" d="M825.6 1784.5H891.6"/>
<text transform="translate(897.1 1792.1) scale(0.920 1)" style="font-size:21.1px">MVO</text>
<path class="ll" stroke="#ff00ff" d="M825.6 1815.3H891.6"/>
<text transform="translate(897.1 1822.9) scale(0.920 1)" style="font-size:21.1px">GWO</text>
<path class="ll" stroke="#000000" d="M825.6 1846.1H891.6"/>
<text transform="translate(897.1 1853.7) scale(0.920 1)" style="font-size:21.1px">WOA</text>
<path class="ll" stroke="#77ac30" d="M825.6 1876.9H891.6"/>
<text transform="translate(897.1 1884.5) scale(0.920 1)" style="font-size:21.1px">GJO</text>
<text transform="translate(678.6 2104.3) scale(0.800 1)" text-anchor="middle" style="font-size:26.5px">200</text>
<text transform="translate(752.2 2104.3) scale(0.800 1)" text-anchor="middle" style="font-size:26.5px">400</text>
<text transform="translate(825.7 2104.3) scale(0.800 1)" text-anchor="middle" style="font-size:26.5px">600</text>
<text transform="translate(899.2 2104.3) scale(0.800 1)" text-anchor="middle" style="font-size:26.5px">800</text>
<text transform="translate(972.7 2104.3) scale(0.800 1)" text-anchor="middle" style="font-size:26.5px">1000</text>
<text transform="translate(595.1 1684.4) scale(0.840 1)" text-anchor="end" style="font-size:25.5px">10<tspan dy="-0.54em" style="font-size:0.80em">0</tspan></text>
<text transform="translate(595.1 1819.4) scale(0.840 1)" text-anchor="end" style="font-size:25.5px">10<tspan dy="-0.54em" style="font-size:0.80em">-10</tspan></text>
<text transform="translate(595.1 1954.4) scale(0.840 1)" text-anchor="end" style="font-size:25.5px">10<tspan dy="-0.54em" style="font-size:0.80em">-20</tspan></text>
<text transform="translate(789.1 2140.3) scale(0.900 1)" text-anchor="middle" style="font-size:26.1px">Iteration</text>
<text transform="translate(535.8 1845.9) scale(0.810 1) rotate(-90)" text-anchor="middle" style="font-size:28.0px">Best score obtained so far</text>
<text transform="translate(789.1 1610.7) scale(0.927 1)" text-anchor="middle" style="font-size:25.8px;font-weight:bold;fill:#000">Objective space</text></g>
<g><rect x="1616.5" y="1622.8" width="356.2" height="446.3" fill="#fff"/>
<path class="gm" d="M1616.5 2044.6H1972.7M1616.5 2030.4H1972.7M1616.5 2016.2H1972.7M1616.5 2002.0H1972.7M1616.5 1987.8H1972.7M1616.5 1973.5H1972.7M1616.5 1959.3H1972.7M1616.5 1945.1H1972.7M1616.5 1930.9H1972.7M1616.5 1902.5H1972.7M1616.5 1888.3H1972.7M1616.5 1874.1H1972.7M1616.5 1859.9H1972.7M1616.5 1845.7H1972.7M1616.5 1831.4H1972.7M1616.5 1817.2H1972.7M1616.5 1803.0H1972.7M1616.5 1788.8H1972.7M1616.5 1760.4H1972.7M1616.5 1746.2H1972.7M1616.5 1732.0H1972.7M1616.5 1717.8H1972.7M1616.5 1703.6H1972.7M1616.5 1689.3H1972.7M1616.5 1675.1H1972.7M1616.5 1660.9H1972.7M1616.5 1646.7H1972.7"/>
<path class="gj" d="M1687.5 1622.8V2069.1M1758.8 1622.8V2069.1M1830.1 1622.8V2069.1M1901.4 1622.8V2069.1M1616.5 2058.8H1972.7M1616.5 1916.4H1972.7M1616.5 1774.9H1972.7M1616.5 1632.5H1972.7"/>
<g clip-path="url(#c6)"><path class="cv" stroke="#a2142f" d="M1616.5 2065.3L1972.7 2065.3"/><path class="cv" stroke="#ff0000" d="M1616.5 2065.3L1972.7 2065.3"/><path class="cv" stroke="#00ff00" d="M1616.5 2062.7L1972.7 2062.7"/><path class="cv" stroke="#0000ff" d="M1616.5 2068.2L1640.0 2069.5L1680.0 2070.8L1972.7 2071.2"/><path class="cv" stroke="#00ffff" d="M1616.5 2066.0L1972.7 2066.0"/><path class="cv" stroke="#ff00ff" d="M1616.5 2064.8L1972.7 2065.0"/><path class="cv" stroke="#000000" d="M1616.5 2063.5L1972.7 2063.5"/><path class="cv" stroke="#77ac30" d="M1616.5 2062.7L1972.7 2062.7"/></g>
<path class="bx" d="M1616.5 1622.8H1972.7V2069.1H1616.5ZM1687.5 2069.1v-4.0M1687.5 1622.8v4.0M1758.8 2069.1v-4.0M1758.8 1622.8v4.0M1830.1 2069.1v-4.0M1830.1 1622.8v4.0M1901.4 2069.1v-4.0M1901.4 1622.8v4.0M1616.5 2058.8h4.0M1972.7 2058.8h-4.0M1616.5 1916.4h4.0M1972.7 1916.4h-4.0M1616.5 1774.9h4.0M1972.7 1774.9h-4.0M1616.5 1632.5h4.0M1972.7 1632.5h-4.0"/>
<rect class="lg" x="1811.8" y="1642.8" width="143.0" height="252.5"/>
<path class="ll" stroke="#a2142f" d="M1819.8 1661.3H1885.8"/>
<text transform="translate(1891.3 1668.9) scale(0.920 1)" style="font-size:21.1px">LCA</text>
<path class="ll" stroke="#ff0000" d="M1819.8 1692.1H1885.8"/>
<text transform="translate(1891.3 1699.7) scale(0.920 1)" style="font-size:21.1px">PSO</text>
<path class="ll" stroke="#00ff00" d="M1819.8 1722.9H1885.8"/>
<text transform="translate(1891.3 1730.5) scale(0.920 1)" style="font-size:21.1px">TSA</text>
<path class="ll" stroke="#0000ff" d="M1819.8 1753.7H1885.8"/>
<text transform="translate(1891.3 1761.3) scale(0.920 1)" style="font-size:21.1px">SSA</text>
<path class="ll" stroke="#00ffff" d="M1819.8 1784.5H1885.8"/>
<text transform="translate(1891.3 1792.1) scale(0.920 1)" style="font-size:21.1px">MVO</text>
<path class="ll" stroke="#ff00ff" d="M1819.8 1815.3H1885.8"/>
<text transform="translate(1891.3 1822.9) scale(0.920 1)" style="font-size:21.1px">GWO</text>
<path class="ll" stroke="#000000" d="M1819.8 1846.1H1885.8"/>
<text transform="translate(1891.3 1853.7) scale(0.920 1)" style="font-size:21.1px">WOA</text>
<path class="ll" stroke="#77ac30" d="M1819.8 1876.9H1885.8"/>
<text transform="translate(1891.3 1884.5) scale(0.920 1)" style="font-size:21.1px">GJO</text>
<text transform="translate(1687.5 2104.3) scale(0.800 1)" text-anchor="middle" style="font-size:26.5px">200</text>
<text transform="translate(1758.8 2104.3) scale(0.800 1)" text-anchor="middle" style="font-size:26.5px">400</text>
<text transform="translate(1830.1 2104.3) scale(0.800 1)" text-anchor="middle" style="font-size:26.5px">600</text>
<text transform="translate(1901.4 2104.3) scale(0.800 1)" text-anchor="middle" style="font-size:26.5px">800</text>
<text transform="translate(1972.7 2104.3) scale(0.800 1)" text-anchor="middle" style="font-size:26.5px">1000</text>
<text transform="translate(1606.1 2070.4) scale(0.840 1)" text-anchor="end" style="font-size:25.5px">-10<tspan dy="-0.54em" style="font-size:0.80em">0</tspan></text>
<text transform="translate(1606.1 1928.0) scale(0.840 1)" text-anchor="end" style="font-size:25.5px">-10<tspan dy="-0.54em" style="font-size:0.80em">-100</tspan></text>
<text transform="translate(1606.1 1786.5) scale(0.840 1)" text-anchor="end" style="font-size:25.5px">-10<tspan dy="-0.54em" style="font-size:0.80em">-200</tspan></text>
<text transform="translate(1606.1 1644.1) scale(0.840 1)" text-anchor="end" style="font-size:25.5px">-10<tspan dy="-0.54em" style="font-size:0.80em">-300</tspan></text>
<text transform="translate(1794.6 2140.3) scale(0.900 1)" text-anchor="middle" style="font-size:26.1px">Iteration</text>
<text transform="translate(1525.5 1845.9) scale(0.810 1) rotate(-90)" text-anchor="middle" style="font-size:28.0px">Best score obtained so far</text>
<text transform="translate(1794.6 1610.7) scale(0.927 1)" text-anchor="middle" style="font-size:25.8px;font-weight:bold;fill:#000">Objective space</text></g>
<text transform="translate(490.1 603.7) scale(0.920 1)" style="font-size:34.4px;fill:#000">F18</text>
<text transform="translate(1491.3 606.2) scale(0.920 1)" style="font-size:34.4px;fill:#000">F25</text>
<text transform="translate(479.0 1374.0) scale(0.920 1)" style="font-size:34.4px;fill:#000">F26</text>
<text transform="translate(1491.0 1374.0) scale(0.920 1)" style="font-size:34.4px;fill:#000">F28</text>
<text transform="translate(479.0 2187.0) scale(0.920 1)" style="font-size:34.4px;fill:#000">F29</text>
<text transform="translate(1489.0 2189.5) scale(0.920 1)" style="font-size:34.4px;fill:#000">F31</text>
<text transform="translate(996.0 650.8) scale(1.070 1)" text-anchor="middle" style="font-size:37.3px;fill:#000;font-family:'Liberation Serif','Times New Roman',serif">(i)</text>
<text transform="translate(996.0 1411.0) scale(1.070 1)" text-anchor="middle" style="font-size:37.3px;fill:#000;font-family:'Liberation Serif','Times New Roman',serif">(j)</text>
<text transform="translate(996.0 2242.5) scale(1.070 1)" text-anchor="middle" style="font-size:37.3px;fill:#000;font-family:'Liberation Serif','Times New Roman',serif">(k)</text></svg></body></html>
